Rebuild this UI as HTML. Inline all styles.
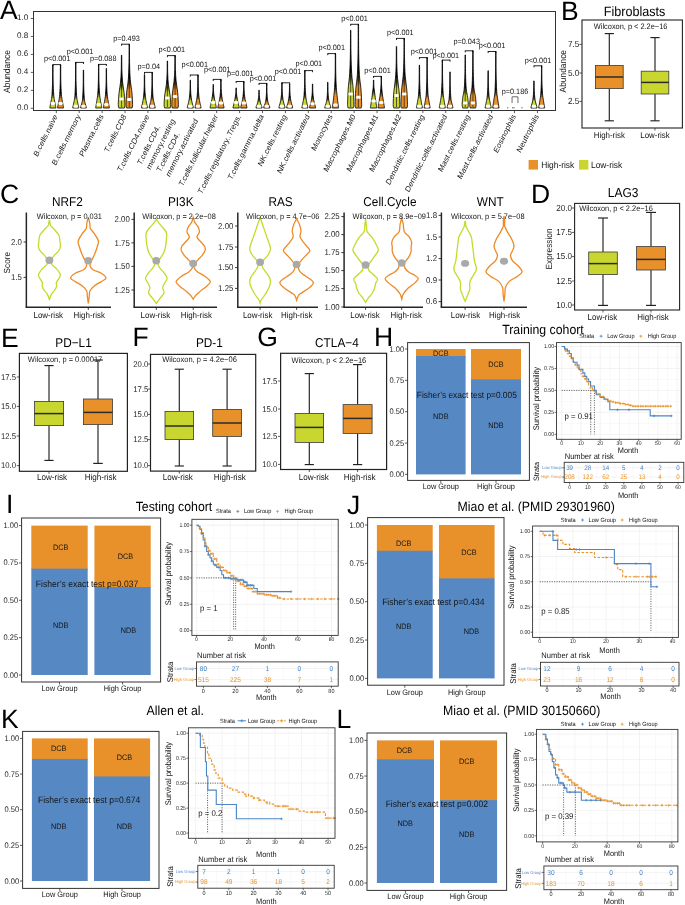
<!DOCTYPE html>
<html><head><meta charset="utf-8"><style>
html,body{margin:0;padding:0;background:#fff;width:685px;height:905px;overflow:hidden}
svg{display:block;will-change:transform;text-rendering:geometricPrecision;font-family:"Liberation Sans",sans-serif}
</style></head><body>
<svg width="685" height="905" viewBox="0 0 685 905">
<rect width="685" height="905" fill="#fff"/>
<text x="0" y="19" font-size="26.5" text-anchor="start" fill="#000">A</text>
<line x1="30.8" y1="108.3" x2="33.5" y2="108.3" stroke="#333333" stroke-width="0.8"/>
<text x="28.3" y="109.6" font-size="8.1" text-anchor="end" fill="#262626">0.0</text>
<line x1="30.8" y1="90.34" x2="33.5" y2="90.34" stroke="#333333" stroke-width="0.8"/>
<text x="28.3" y="91.64" font-size="8.1" text-anchor="end" fill="#262626">0.2</text>
<line x1="30.8" y1="72.38" x2="33.5" y2="72.38" stroke="#333333" stroke-width="0.8"/>
<text x="28.3" y="73.68" font-size="8.1" text-anchor="end" fill="#262626">0.4</text>
<line x1="30.8" y1="54.42" x2="33.5" y2="54.42" stroke="#333333" stroke-width="0.8"/>
<text x="28.3" y="55.72" font-size="8.1" text-anchor="end" fill="#262626">0.6</text>
<line x1="30.8" y1="36.46" x2="33.5" y2="36.46" stroke="#333333" stroke-width="0.8"/>
<text x="28.3" y="37.76" font-size="8.1" text-anchor="end" fill="#262626">0.8</text>
<line x1="30.8" y1="18.5" x2="33.5" y2="18.5" stroke="#333333" stroke-width="0.8"/>
<text x="28.3" y="19.8" font-size="8.1" text-anchor="end" fill="#262626">1.0</text>
<text font-size="8.5" text-anchor="middle" fill="#141414" transform="translate(10 71.5) rotate(-90) scale(1 1.08)">Abundance</text>
<linearGradient id="vg1" gradientUnits="userSpaceOnUse" x1="0" y1="92.9" x2="0" y2="99.16"><stop offset="0" stop-color="#000"/><stop offset="1" stop-color="#C8D62F"/></linearGradient>
<path d="M53.03 65 C53.05 67.69 53.02 76.27 53.13 81.17 C53.24 86.07 53.45 91.06 53.7 94.4 C53.95 97.74 54.32 99.17 54.65 101.2 C54.98 103.23 55.49 105.47 55.7 106.6 C55.91 107.73 55.88 107.77 55.91 108 L49.79 108 C49.82 107.77 49.79 107.73 50 106.6 C50.21 105.47 50.72 103.23 51.05 101.2 C51.38 99.17 51.75 97.74 52 94.4 C52.25 91.06 52.46 86.07 52.57 81.17 C52.68 76.27 52.65 67.69 52.67 65Z" fill="url(#vg1)" stroke="#000" stroke-width="0.8"/>
<rect x="50.65" y="101.9" width="4.4" height="3" fill="#fff" stroke="none" stroke-width="0" rx="1.3"/>
<linearGradient id="vg2" gradientUnits="userSpaceOnUse" x1="0" y1="93" x2="0" y2="99.22"><stop offset="0" stop-color="#000"/><stop offset="1" stop-color="#E8912B"/></linearGradient>
<path d="M60.73 65 C60.75 67.7 60.72 76.31 60.83 81.22 C60.94 86.14 61.15 91.16 61.4 94.5 C61.65 97.84 62.02 99.23 62.35 101.25 C62.68 103.27 63.19 105.47 63.4 106.6 C63.61 107.72 63.58 107.77 63.61 108 L57.49 108 C57.52 107.77 57.49 107.72 57.7 106.6 C57.91 105.47 58.42 103.27 58.75 101.25 C59.08 99.23 59.45 97.84 59.7 94.5 C59.95 91.16 60.16 86.14 60.27 81.22 C60.38 76.31 60.35 67.7 60.37 65Z" fill="url(#vg2)" stroke="#000" stroke-width="0.8"/>
<rect x="58.35" y="101.9" width="4.4" height="3" fill="#fff" stroke="none" stroke-width="0" rx="1.3"/>
<line x1="52.85" y1="64.6" x2="60.55" y2="64.6" stroke="#000" stroke-width="0.85"/>
<line x1="52.85" y1="64.2" x2="52.85" y2="66.2" stroke="#000" stroke-width="0.85"/>
<line x1="60.55" y1="64.2" x2="60.55" y2="66.2" stroke="#000" stroke-width="0.85"/>
<text font-size="7.3" text-anchor="middle" fill="#141414" transform="matrix(1 0 0 1.06 57.2 61.3)">p&lt;0.001</text>
<line x1="56.3" y1="110.5" x2="56.3" y2="113.1" stroke="#333333" stroke-width="0.8"/>
<text font-size="7.3" text-anchor="end" fill="#141414" transform="matrix(1 0 0 1.15 57.9 116.4) rotate(-60)">B.cells.naive</text>
<linearGradient id="vg3" gradientUnits="userSpaceOnUse" x1="0" y1="94.2" x2="0" y2="100"><stop offset="0" stop-color="#000"/><stop offset="1" stop-color="#C8D62F"/></linearGradient>
<path d="M75.94 62.4 C75.96 65.45 75.93 75.17 76.04 80.72 C76.15 86.27 76.36 92.18 76.61 95.7 C76.86 99.22 77.23 100.03 77.56 101.85 C77.89 103.67 78.4 105.57 78.61 106.6 C78.82 107.62 78.79 107.77 78.82 108 L72.7 108 C72.73 107.77 72.7 107.62 72.91 106.6 C73.12 105.57 73.63 103.67 73.96 101.85 C74.29 100.03 74.66 99.22 74.91 95.7 C75.16 92.18 75.37 86.27 75.48 80.72 C75.59 75.17 75.56 65.45 75.58 62.4Z" fill="url(#vg3)" stroke="#000" stroke-width="0.8"/>
<rect x="73.56" y="104.8" width="4.4" height="3" fill="#fff" stroke="none" stroke-width="0" rx="1.3"/>
<linearGradient id="vg4" gradientUnits="userSpaceOnUse" x1="0" y1="96.9" x2="0" y2="101.76"><stop offset="0" stop-color="#000"/><stop offset="1" stop-color="#E8912B"/></linearGradient>
<path d="M83.64 70 C83.66 72.6 83.63 80.89 83.74 85.62 C83.85 90.35 84.08 95.47 84.31 98.4 C84.54 101.33 84.84 101.83 85.14 103.2 C85.44 104.57 85.92 105.8 86.12 106.6 C86.32 107.4 86.28 107.77 86.32 108 L80.6 108 C80.64 107.77 80.6 107.4 80.8 106.6 C81 105.8 81.48 104.57 81.78 103.2 C82.08 101.83 82.38 101.33 82.61 98.4 C82.84 95.47 83.07 90.35 83.18 85.62 C83.29 80.89 83.26 72.6 83.28 70Z" fill="url(#vg4)" stroke="#000" stroke-width="0.8"/>
<rect x="81.26" y="104.8" width="4.4" height="3" fill="#fff" stroke="none" stroke-width="0" rx="1.3"/>
<line x1="75.76" y1="62.4" x2="83.46" y2="62.4" stroke="#000" stroke-width="0.85"/>
<line x1="75.76" y1="62" x2="75.76" y2="64" stroke="#000" stroke-width="0.85"/>
<line x1="83.46" y1="62" x2="83.46" y2="64" stroke="#000" stroke-width="0.85"/>
<text font-size="7.3" text-anchor="middle" fill="#141414" transform="matrix(1 0 0 1.06 80 53.5)">p&lt;0.001</text>
<line x1="79.21" y1="110.5" x2="79.21" y2="113.1" stroke="#333333" stroke-width="0.8"/>
<text font-size="7.3" text-anchor="end" fill="#141414" transform="matrix(1 0 0 1.15 80.81 116.4) rotate(-60)">B.cells.memory</text>
<linearGradient id="vg5" gradientUnits="userSpaceOnUse" x1="0" y1="91.6" x2="0" y2="98.31"><stop offset="0" stop-color="#000"/><stop offset="1" stop-color="#C8D62F"/></linearGradient>
<path d="M98.85 64.4 C98.87 67.03 98.84 75.4 98.95 80.19 C99.06 84.97 99.27 89.71 99.52 93.1 C99.77 96.49 100.14 98.3 100.47 100.55 C100.8 102.8 101.31 105.36 101.52 106.6 C101.73 107.84 101.7 107.77 101.73 108 L95.61 108 C95.65 107.77 95.61 107.84 95.82 106.6 C96.03 105.36 96.54 102.8 96.87 100.55 C97.2 98.3 97.57 96.49 97.82 93.1 C98.07 89.71 98.28 84.97 98.39 80.19 C98.5 75.4 98.47 67.03 98.49 64.4Z" fill="url(#vg5)" stroke="#000" stroke-width="0.8"/>
<rect x="96.47" y="103" width="4.4" height="3" fill="#fff" stroke="none" stroke-width="0" rx="1.3"/>
<linearGradient id="vg6" gradientUnits="userSpaceOnUse" x1="0" y1="92.9" x2="0" y2="99.16"><stop offset="0" stop-color="#000"/><stop offset="1" stop-color="#E8912B"/></linearGradient>
<path d="M106.55 68.4 C106.57 70.78 106.54 78.37 106.65 82.7 C106.76 87.03 106.97 91.32 107.22 94.4 C107.47 97.48 107.84 99.17 108.17 101.2 C108.5 103.23 109.01 105.47 109.22 106.6 C109.43 107.73 109.4 107.77 109.43 108 L103.31 108 C103.34 107.77 103.31 107.73 103.52 106.6 C103.73 105.47 104.24 103.23 104.57 101.2 C104.9 99.17 105.27 97.48 105.52 94.4 C105.77 91.32 105.98 87.03 106.09 82.7 C106.2 78.37 106.17 70.78 106.19 68.4Z" fill="url(#vg6)" stroke="#000" stroke-width="0.8"/>
<rect x="104.17" y="103" width="4.4" height="3" fill="#fff" stroke="none" stroke-width="0" rx="1.3"/>
<line x1="98.67" y1="64.4" x2="106.37" y2="64.4" stroke="#000" stroke-width="0.85"/>
<line x1="98.67" y1="64" x2="98.67" y2="66" stroke="#000" stroke-width="0.85"/>
<line x1="106.37" y1="64" x2="106.37" y2="66" stroke="#000" stroke-width="0.85"/>
<text font-size="7.3" text-anchor="middle" fill="#141414" transform="matrix(1 0 0 1.06 103.2 61.3)">p=0.088</text>
<line x1="102.12" y1="110.5" x2="102.12" y2="113.1" stroke="#333333" stroke-width="0.8"/>
<text font-size="7.3" text-anchor="end" fill="#141414" transform="matrix(1 0 0 1.15 103.72 116.4) rotate(-60)">Plasma.cells</text>
<linearGradient id="vg7" gradientUnits="userSpaceOnUse" x1="0" y1="80.5" x2="0" y2="91.1"><stop offset="0" stop-color="#000"/><stop offset="1" stop-color="#C8D62F"/></linearGradient>
<path d="M121.76 55.2 C121.78 57.66 121.76 65.47 121.9 69.94 C122.04 74.41 122.19 78.04 122.58 82 C122.97 85.96 123.84 89.95 124.22 93.7 C124.6 97.45 124.85 102.12 124.88 104.5 C124.91 106.88 124.47 107.42 124.39 108 L118.78 108 C118.69 107.42 118.25 106.88 118.28 104.5 C118.31 102.12 118.56 97.45 118.94 93.7 C119.32 89.95 120.19 85.96 120.58 82 C120.97 78.04 121.12 74.41 121.26 69.94 C121.4 65.47 121.38 57.66 121.4 55.2Z" fill="url(#vg7)" stroke="#000" stroke-width="0.8"/>
<line x1="121.58" y1="84" x2="121.58" y2="107" stroke="#000" stroke-width="0.6"/>
<rect x="119.38" y="97.4" width="4.4" height="3" fill="#fff" stroke="none" stroke-width="0" rx="1.3"/>
<linearGradient id="vg8" gradientUnits="userSpaceOnUse" x1="0" y1="78.2" x2="0" y2="89.61"><stop offset="0" stop-color="#000"/><stop offset="1" stop-color="#E8912B"/></linearGradient>
<path d="M129.46 44.4 C129.48 47.64 129.46 57.93 129.6 63.81 C129.74 69.7 129.89 74.93 130.28 79.7 C130.67 84.47 131.54 88.3 131.92 92.44 C132.3 96.57 132.55 101.91 132.58 104.5 C132.61 107.09 132.17 107.42 132.09 108 L126.47 108 C126.39 107.42 125.95 107.09 125.98 104.5 C126.01 101.91 126.26 96.57 126.64 92.44 C127.02 88.3 127.89 84.47 128.28 79.7 C128.67 74.93 128.82 69.7 128.96 63.81 C129.1 57.93 129.08 47.64 129.1 44.4Z" fill="url(#vg8)" stroke="#000" stroke-width="0.8"/>
<line x1="129.28" y1="81.7" x2="129.28" y2="107" stroke="#000" stroke-width="0.6"/>
<rect x="127.08" y="98.1" width="4.4" height="3" fill="#fff" stroke="none" stroke-width="0" rx="1.3"/>
<line x1="121.58" y1="44.2" x2="129.28" y2="44.2" stroke="#000" stroke-width="0.85"/>
<line x1="121.58" y1="43.8" x2="121.58" y2="45.8" stroke="#000" stroke-width="0.85"/>
<line x1="129.28" y1="43.8" x2="129.28" y2="45.8" stroke="#000" stroke-width="0.85"/>
<text font-size="7.3" text-anchor="middle" fill="#141414" transform="matrix(1 0 0 1.06 126.5 41.3)">p=0.493</text>
<line x1="125.03" y1="110.5" x2="125.03" y2="113.1" stroke="#333333" stroke-width="0.8"/>
<text font-size="7.3" text-anchor="end" fill="#141414" transform="matrix(1 0 0 1.15 126.63 116.4) rotate(-60)">T.cells.CD8</text>
<linearGradient id="vg9" gradientUnits="userSpaceOnUse" x1="0" y1="94.5" x2="0" y2="100.2"><stop offset="0" stop-color="#000"/><stop offset="1" stop-color="#C8D62F"/></linearGradient>
<path d="M144.67 74.6 C144.69 76.56 144.66 82.8 144.77 86.37 C144.88 89.94 145.09 93.39 145.34 96 C145.59 98.61 145.96 100.23 146.29 102 C146.62 103.77 147.13 105.6 147.34 106.6 C147.55 107.6 147.52 107.77 147.55 108 L141.43 108 C141.47 107.77 141.43 107.6 141.64 106.6 C141.85 105.6 142.36 103.77 142.69 102 C143.02 100.23 143.39 98.61 143.64 96 C143.89 93.39 144.1 89.94 144.21 86.37 C144.32 82.8 144.29 76.56 144.31 74.6Z" fill="url(#vg9)" stroke="#000" stroke-width="0.8"/>
<rect x="142.29" y="104.8" width="4.4" height="3" fill="#fff" stroke="none" stroke-width="0" rx="1.3"/>
<linearGradient id="vg10" gradientUnits="userSpaceOnUse" x1="0" y1="95.5" x2="0" y2="100.85"><stop offset="0" stop-color="#000"/><stop offset="1" stop-color="#E8912B"/></linearGradient>
<path d="M152.37 72.4 C152.39 74.66 152.36 81.83 152.47 85.93 C152.58 90.03 152.79 94.24 153.04 97 C153.29 99.76 153.66 100.9 153.99 102.5 C154.32 104.1 154.83 105.68 155.04 106.6 C155.25 107.52 155.22 107.77 155.25 108 L149.13 108 C149.16 107.77 149.13 107.52 149.34 106.6 C149.55 105.68 150.06 104.1 150.39 102.5 C150.72 100.9 151.09 99.76 151.34 97 C151.59 94.24 151.8 90.03 151.91 85.93 C152.02 81.83 151.99 74.66 152.01 72.4Z" fill="url(#vg10)" stroke="#000" stroke-width="0.8"/>
<rect x="149.99" y="104.8" width="4.4" height="3" fill="#fff" stroke="none" stroke-width="0" rx="1.3"/>
<line x1="144.49" y1="72.4" x2="152.19" y2="72.4" stroke="#000" stroke-width="0.85"/>
<line x1="144.49" y1="72" x2="144.49" y2="74" stroke="#000" stroke-width="0.85"/>
<line x1="152.19" y1="72" x2="152.19" y2="74" stroke="#000" stroke-width="0.85"/>
<text font-size="7.3" text-anchor="middle" fill="#141414" transform="matrix(1 0 0 1.06 148.8 68.9)">p=0.04</text>
<line x1="147.94" y1="110.5" x2="147.94" y2="113.1" stroke="#333333" stroke-width="0.8"/>
<text font-size="7.3" text-anchor="end" fill="#141414" transform="matrix(1 0 0 1.15 149.54 116.4) rotate(-60)">T.cells.CD4.naive</text>
<linearGradient id="vg11" gradientUnits="userSpaceOnUse" x1="0" y1="82.9" x2="0" y2="92.66"><stop offset="0" stop-color="#000"/><stop offset="1" stop-color="#C8D62F"/></linearGradient>
<path d="M167.58 61 C167.6 63.15 167.58 69.97 167.72 73.87 C167.86 77.77 168.01 80.88 168.4 84.4 C168.79 87.93 169.66 91.67 170.04 95.02 C170.42 98.37 170.67 102.34 170.7 104.5 C170.73 106.66 170.29 107.42 170.21 108 L164.59 108 C164.51 107.42 164.07 106.66 164.1 104.5 C164.13 102.34 164.38 98.37 164.76 95.02 C165.14 91.67 166.01 87.93 166.4 84.4 C166.79 80.88 166.94 77.77 167.08 73.87 C167.22 69.97 167.2 63.15 167.22 61Z" fill="url(#vg11)" stroke="#000" stroke-width="0.8"/>
<line x1="167.4" y1="86.4" x2="167.4" y2="107" stroke="#000" stroke-width="0.6"/>
<rect x="165.2" y="96.5" width="4.4" height="3" fill="#fff" stroke="none" stroke-width="0" rx="1.3"/>
<linearGradient id="vg12" gradientUnits="userSpaceOnUse" x1="0" y1="79.4" x2="0" y2="90.39"><stop offset="0" stop-color="#000"/><stop offset="1" stop-color="#E8912B"/></linearGradient>
<path d="M175.28 55.6 C175.3 57.92 175.28 65.3 175.42 69.52 C175.56 73.73 175.71 76.97 176.1 80.9 C176.49 84.83 177.36 89.16 177.74 93.09 C178.12 97.03 178.37 102.02 178.4 104.5 C178.43 106.98 177.99 107.42 177.91 108 L172.29 108 C172.21 107.42 171.77 106.98 171.8 104.5 C171.83 102.02 172.08 97.03 172.46 93.09 C172.84 89.16 173.71 84.83 174.1 80.9 C174.49 76.97 174.64 73.73 174.78 69.52 C174.92 65.3 174.9 57.92 174.92 55.6Z" fill="url(#vg12)" stroke="#000" stroke-width="0.8"/>
<line x1="175.1" y1="82.9" x2="175.1" y2="107" stroke="#000" stroke-width="0.6"/>
<rect x="172.9" y="95" width="4.4" height="3" fill="#fff" stroke="none" stroke-width="0" rx="1.3"/>
<line x1="167.4" y1="55.6" x2="175.1" y2="55.6" stroke="#000" stroke-width="0.85"/>
<line x1="167.4" y1="55.2" x2="167.4" y2="57.2" stroke="#000" stroke-width="0.85"/>
<line x1="175.1" y1="55.2" x2="175.1" y2="57.2" stroke="#000" stroke-width="0.85"/>
<text font-size="7.3" text-anchor="middle" fill="#141414" transform="matrix(1 0 0 1.06 171.8 52.3)">p&lt;0.001</text>
<line x1="170.85" y1="110.5" x2="170.85" y2="113.1" stroke="#333333" stroke-width="0.8"/>
<text font-size="7.3" text-anchor="start" fill="#141414" transform="matrix(1 0 0 1.15 141.2 165.65) rotate(-60)">T.cells.CD4.</text>
<text font-size="7.3" text-anchor="start" fill="#141414" transform="matrix(1 0 0 1.15 150.3 170.2) rotate(-60)">memory.resting</text>
<linearGradient id="vg13" gradientUnits="userSpaceOnUse" x1="0" y1="95.7" x2="0" y2="100.98"><stop offset="0" stop-color="#000"/><stop offset="1" stop-color="#C8D62F"/></linearGradient>
<path d="M190.49 80.2 C190.51 81.76 190.48 86.72 190.59 89.55 C190.7 92.38 190.91 95.03 191.16 97.2 C191.41 99.38 191.78 101.03 192.11 102.6 C192.44 104.17 192.95 105.7 193.16 106.6 C193.37 107.5 193.34 107.77 193.37 108 L187.25 108 C187.28 107.77 187.25 107.5 187.46 106.6 C187.67 105.7 188.18 104.17 188.51 102.6 C188.84 101.03 189.21 99.38 189.46 97.2 C189.71 95.03 189.92 92.38 190.03 89.55 C190.14 86.72 190.11 81.76 190.13 80.2Z" fill="url(#vg13)" stroke="#000" stroke-width="0.8"/>
<rect x="188.11" y="104.8" width="4.4" height="3" fill="#fff" stroke="none" stroke-width="0" rx="1.3"/>
<linearGradient id="vg14" gradientUnits="userSpaceOnUse" x1="0" y1="94.5" x2="0" y2="100.2"><stop offset="0" stop-color="#000"/><stop offset="1" stop-color="#E8912B"/></linearGradient>
<path d="M198.19 75 C198.21 76.92 198.18 83.05 198.29 86.55 C198.4 90.05 198.61 93.42 198.86 96 C199.11 98.58 199.48 100.23 199.81 102 C200.14 103.77 200.65 105.6 200.86 106.6 C201.07 107.6 201.03 107.77 201.07 108 L194.95 108 C194.98 107.77 194.95 107.6 195.16 106.6 C195.37 105.6 195.88 103.77 196.21 102 C196.54 100.23 196.91 98.58 197.16 96 C197.41 93.42 197.62 90.05 197.73 86.55 C197.84 83.05 197.81 76.92 197.83 75Z" fill="url(#vg14)" stroke="#000" stroke-width="0.8"/>
<rect x="195.81" y="104.8" width="4.4" height="3" fill="#fff" stroke="none" stroke-width="0" rx="1.3"/>
<line x1="190.31" y1="75" x2="198.01" y2="75" stroke="#000" stroke-width="0.85"/>
<line x1="190.31" y1="74.6" x2="190.31" y2="76.6" stroke="#000" stroke-width="0.85"/>
<line x1="198.01" y1="74.6" x2="198.01" y2="76.6" stroke="#000" stroke-width="0.85"/>
<text font-size="7.3" text-anchor="middle" fill="#141414" transform="matrix(1 0 0 1.06 194.7 66.9)">p&lt;0.001</text>
<line x1="193.76" y1="110.5" x2="193.76" y2="113.1" stroke="#333333" stroke-width="0.8"/>
<text font-size="7.3" text-anchor="start" fill="#141414" transform="matrix(1 0 0 1.15 160.6 172.85) rotate(-60)">T.cells.CD4.</text>
<text font-size="7.3" text-anchor="start" fill="#141414" transform="matrix(1 0 0 1.15 169.7 177.4) rotate(-60)">memory.activated</text>
<linearGradient id="vg15" gradientUnits="userSpaceOnUse" x1="0" y1="94.6" x2="0" y2="100.27"><stop offset="0" stop-color="#000"/><stop offset="1" stop-color="#C8D62F"/></linearGradient>
<path d="M213.4 84.4 C213.42 85.47 213.39 88.88 213.5 90.83 C213.61 92.78 213.81 94.23 214.07 96.1 C214.33 97.97 214.73 100.3 215.08 102.05 C215.43 103.8 215.95 105.61 216.17 106.6 C216.38 107.59 216.35 107.77 216.38 108 L210.06 108 C210.09 107.77 210.06 107.59 210.28 106.6 C210.49 105.61 211.01 103.8 211.36 102.05 C211.71 100.3 212.11 97.97 212.37 96.1 C212.63 94.23 212.83 92.78 212.94 90.83 C213.05 88.88 213.02 85.47 213.04 84.4Z" fill="url(#vg15)" stroke="#000" stroke-width="0.8"/>
<rect x="211.02" y="101.1" width="4.4" height="3" fill="#fff" stroke="none" stroke-width="0" rx="1.3"/>
<linearGradient id="vg16" gradientUnits="userSpaceOnUse" x1="0" y1="94.5" x2="0" y2="100.2"><stop offset="0" stop-color="#000"/><stop offset="1" stop-color="#E8912B"/></linearGradient>
<path d="M221.1 79.4 C221.12 80.92 221.09 85.76 221.2 88.53 C221.31 91.3 221.51 93.75 221.77 96 C222.03 98.25 222.43 100.23 222.78 102 C223.13 103.77 223.65 105.6 223.87 106.6 C224.08 107.6 224.05 107.77 224.08 108 L217.76 108 C217.79 107.77 217.76 107.6 217.98 106.6 C218.19 105.6 218.71 103.77 219.06 102 C219.41 100.23 219.81 98.25 220.07 96 C220.33 93.75 220.53 91.3 220.64 88.53 C220.75 85.76 220.72 80.92 220.74 79.4Z" fill="url(#vg16)" stroke="#000" stroke-width="0.8"/>
<rect x="218.72" y="101.5" width="4.4" height="3" fill="#fff" stroke="none" stroke-width="0" rx="1.3"/>
<line x1="213.22" y1="79.4" x2="220.92" y2="79.4" stroke="#000" stroke-width="0.85"/>
<line x1="213.22" y1="79" x2="213.22" y2="81" stroke="#000" stroke-width="0.85"/>
<line x1="220.92" y1="79" x2="220.92" y2="81" stroke="#000" stroke-width="0.85"/>
<text font-size="7.3" text-anchor="middle" fill="#141414" transform="matrix(1 0 0 1.06 217.3 71.7)">p&lt;0.001</text>
<line x1="216.67" y1="110.5" x2="216.67" y2="113.1" stroke="#333333" stroke-width="0.8"/>
<text font-size="7.3" text-anchor="end" fill="#141414" transform="matrix(1 0 0 1.15 218.27 116.4) rotate(-60)">T.cells.follicular.helper</text>
<linearGradient id="vg17" gradientUnits="userSpaceOnUse" x1="0" y1="95.5" x2="0" y2="100.85"><stop offset="0" stop-color="#000"/><stop offset="1" stop-color="#C8D62F"/></linearGradient>
<path d="M236.31 87.9 C236.33 88.73 236.3 91.39 236.41 92.91 C236.52 94.42 236.72 95.4 236.98 97 C237.24 98.6 237.64 100.9 237.99 102.5 C238.34 104.1 238.86 105.68 239.07 106.6 C239.29 107.52 239.26 107.77 239.29 108 L232.97 108 C233 107.77 232.97 107.52 233.19 106.6 C233.4 105.68 233.92 104.1 234.27 102.5 C234.62 100.9 235.02 98.6 235.28 97 C235.54 95.4 235.74 94.42 235.85 92.91 C235.96 91.39 235.93 88.73 235.95 87.9Z" fill="url(#vg17)" stroke="#000" stroke-width="0.8"/>
<rect x="233.93" y="101.1" width="4.4" height="3" fill="#fff" stroke="none" stroke-width="0" rx="1.3"/>
<linearGradient id="vg18" gradientUnits="userSpaceOnUse" x1="0" y1="95" x2="0" y2="100.53"><stop offset="0" stop-color="#000"/><stop offset="1" stop-color="#E8912B"/></linearGradient>
<path d="M244.01 81.6 C244.03 82.97 244 87.31 244.11 89.8 C244.22 92.28 244.42 94.42 244.68 96.5 C244.94 98.58 245.34 100.57 245.69 102.25 C246.04 103.93 246.56 105.64 246.77 106.6 C246.99 107.56 246.96 107.77 246.99 108 L240.67 108 C240.7 107.77 240.67 107.56 240.88 106.6 C241.1 105.64 241.62 103.93 241.97 102.25 C242.32 100.57 242.72 98.58 242.98 96.5 C243.24 94.42 243.44 92.28 243.55 89.8 C243.66 87.31 243.63 82.97 243.65 81.6Z" fill="url(#vg18)" stroke="#000" stroke-width="0.8"/>
<rect x="241.63" y="101.5" width="4.4" height="3" fill="#fff" stroke="none" stroke-width="0" rx="1.3"/>
<line x1="236.13" y1="81.5" x2="243.83" y2="81.5" stroke="#000" stroke-width="0.85"/>
<line x1="236.13" y1="81.1" x2="236.13" y2="83.1" stroke="#000" stroke-width="0.85"/>
<line x1="243.83" y1="81.1" x2="243.83" y2="83.1" stroke="#000" stroke-width="0.85"/>
<text font-size="7.3" text-anchor="middle" fill="#141414" transform="matrix(1 0 0 1.06 240.3 76.3)">p=0.001</text>
<line x1="239.58" y1="110.5" x2="239.58" y2="113.1" stroke="#333333" stroke-width="0.8"/>
<text font-size="7.3" text-anchor="end" fill="#141414" transform="matrix(1 0 0 1.15 241.18 116.4) rotate(-60)">T.cells.regulatory..Tregs.</text>
<linearGradient id="vg19" gradientUnits="userSpaceOnUse" x1="0" y1="98.5" x2="0" y2="102.8"><stop offset="0" stop-color="#000"/><stop offset="1" stop-color="#C8D62F"/></linearGradient>
<path d="M259.22 90.2 C259.24 91.1 259.21 93.96 259.32 95.59 C259.43 97.22 259.64 98.6 259.89 100 C260.14 101.4 260.51 102.9 260.84 104 C261.17 105.1 261.68 105.93 261.89 106.6 C262.1 107.27 262.06 107.77 262.1 108 L255.98 108 C256.01 107.77 255.98 107.27 256.19 106.6 C256.4 105.93 256.91 105.1 257.24 104 C257.57 102.9 257.94 101.4 258.19 100 C258.44 98.6 258.65 97.22 258.76 95.59 C258.87 93.96 258.84 91.1 258.86 90.2Z" fill="url(#vg19)" stroke="#000" stroke-width="0.8"/>
<rect x="256.84" y="104.8" width="4.4" height="3" fill="#fff" stroke="none" stroke-width="0" rx="1.3"/>
<linearGradient id="vg20" gradientUnits="userSpaceOnUse" x1="0" y1="98.5" x2="0" y2="102.8"><stop offset="0" stop-color="#000"/><stop offset="1" stop-color="#E8912B"/></linearGradient>
<path d="M266.92 83.4 C266.94 84.92 266.91 89.76 267.02 92.53 C267.13 95.3 267.34 98.09 267.59 100 C267.84 101.91 268.21 102.9 268.54 104 C268.87 105.1 269.38 105.93 269.59 106.6 C269.8 107.27 269.76 107.77 269.8 108 L263.68 108 C263.72 107.77 263.68 107.27 263.89 106.6 C264.1 105.93 264.61 105.1 264.94 104 C265.27 102.9 265.64 101.91 265.89 100 C266.14 98.09 266.35 95.3 266.46 92.53 C266.57 89.76 266.54 84.92 266.56 83.4Z" fill="url(#vg20)" stroke="#000" stroke-width="0.8"/>
<rect x="264.54" y="104.8" width="4.4" height="3" fill="#fff" stroke="none" stroke-width="0" rx="1.3"/>
<line x1="259.04" y1="83.4" x2="266.74" y2="83.4" stroke="#000" stroke-width="0.85"/>
<line x1="259.04" y1="83" x2="259.04" y2="85" stroke="#000" stroke-width="0.85"/>
<line x1="266.74" y1="83" x2="266.74" y2="85" stroke="#000" stroke-width="0.85"/>
<text font-size="7.3" text-anchor="middle" fill="#141414" transform="matrix(1 0 0 1.06 263 81.3)">p&lt;0.001</text>
<line x1="262.49" y1="110.5" x2="262.49" y2="113.1" stroke="#333333" stroke-width="0.8"/>
<text font-size="7.3" text-anchor="end" fill="#141414" transform="matrix(1 0 0 1.15 264.09 116.4) rotate(-60)">T.cells.gamma.delta</text>
<linearGradient id="vg21" gradientUnits="userSpaceOnUse" x1="0" y1="96.5" x2="0" y2="101.5"><stop offset="0" stop-color="#000"/><stop offset="1" stop-color="#C8D62F"/></linearGradient>
<path d="M282.13 82.8 C282.15 84.19 282.12 88.63 282.23 91.16 C282.34 93.69 282.55 96.03 282.8 98 C283.05 99.97 283.42 101.57 283.75 103 C284.08 104.43 284.59 105.77 284.8 106.6 C285.01 107.43 284.97 107.77 285.01 108 L278.89 108 C278.92 107.77 278.89 107.43 279.1 106.6 C279.31 105.77 279.82 104.43 280.15 103 C280.48 101.57 280.85 99.97 281.1 98 C281.35 96.03 281.56 93.69 281.67 91.16 C281.78 88.63 281.75 84.19 281.77 82.8Z" fill="url(#vg21)" stroke="#000" stroke-width="0.8"/>
<rect x="279.75" y="104.8" width="4.4" height="3" fill="#fff" stroke="none" stroke-width="0" rx="1.3"/>
<linearGradient id="vg22" gradientUnits="userSpaceOnUse" x1="0" y1="97" x2="0" y2="101.83"><stop offset="0" stop-color="#000"/><stop offset="1" stop-color="#E8912B"/></linearGradient>
<path d="M289.83 84 C289.85 85.33 289.82 89.56 289.93 91.97 C290.04 94.39 290.25 96.62 290.5 98.5 C290.75 100.38 291.12 101.9 291.45 103.25 C291.78 104.6 292.29 105.81 292.5 106.6 C292.71 107.39 292.67 107.77 292.71 108 L286.59 108 C286.62 107.77 286.59 107.39 286.8 106.6 C287.01 105.81 287.52 104.6 287.85 103.25 C288.18 101.9 288.55 100.38 288.8 98.5 C289.05 96.62 289.26 94.39 289.37 91.97 C289.48 89.56 289.45 85.33 289.47 84Z" fill="url(#vg22)" stroke="#000" stroke-width="0.8"/>
<rect x="287.45" y="104.8" width="4.4" height="3" fill="#fff" stroke="none" stroke-width="0" rx="1.3"/>
<line x1="281.95" y1="82.8" x2="289.65" y2="82.8" stroke="#000" stroke-width="0.85"/>
<line x1="281.95" y1="82.4" x2="281.95" y2="84.4" stroke="#000" stroke-width="0.85"/>
<line x1="289.65" y1="82.4" x2="289.65" y2="84.4" stroke="#000" stroke-width="0.85"/>
<text font-size="7.3" text-anchor="middle" fill="#141414" transform="matrix(1 0 0 1.06 288 73.7)">p&lt;0.001</text>
<line x1="285.4" y1="110.5" x2="285.4" y2="113.1" stroke="#333333" stroke-width="0.8"/>
<text font-size="7.3" text-anchor="end" fill="#141414" transform="matrix(1 0 0 1.15 287 116.4) rotate(-60)">NK.cells.resting</text>
<linearGradient id="vg23" gradientUnits="userSpaceOnUse" x1="0" y1="94.1" x2="0" y2="99.94"><stop offset="0" stop-color="#000"/><stop offset="1" stop-color="#C8D62F"/></linearGradient>
<path d="M305.04 70.6 C305.06 72.89 305.03 80.18 305.14 84.35 C305.25 88.52 305.46 92.69 305.71 95.6 C305.96 98.51 306.33 99.97 306.66 101.8 C306.99 103.63 307.5 105.57 307.71 106.6 C307.92 107.63 307.88 107.77 307.92 108 L301.8 108 C301.83 107.77 301.8 107.63 302.01 106.6 C302.22 105.57 302.73 103.63 303.06 101.8 C303.39 99.97 303.76 98.51 304.01 95.6 C304.26 92.69 304.47 88.52 304.58 84.35 C304.69 80.18 304.66 72.89 304.68 70.6Z" fill="url(#vg23)" stroke="#000" stroke-width="0.8"/>
<rect x="302.66" y="104.8" width="4.4" height="3" fill="#fff" stroke="none" stroke-width="0" rx="1.3"/>
<linearGradient id="vg24" gradientUnits="userSpaceOnUse" x1="0" y1="96.5" x2="0" y2="101.5"><stop offset="0" stop-color="#000"/><stop offset="1" stop-color="#E8912B"/></linearGradient>
<path d="M312.74 84 C312.76 85.28 312.73 89.37 312.84 91.7 C312.95 94.03 313.16 96.12 313.41 98 C313.66 99.88 314.03 101.57 314.36 103 C314.69 104.43 315.2 105.77 315.41 106.6 C315.62 107.43 315.59 107.77 315.62 108 L309.5 108 C309.53 107.77 309.5 107.43 309.71 106.6 C309.92 105.77 310.43 104.43 310.76 103 C311.09 101.57 311.46 99.88 311.71 98 C311.96 96.12 312.17 94.03 312.28 91.7 C312.39 89.37 312.36 85.28 312.38 84Z" fill="url(#vg24)" stroke="#000" stroke-width="0.8"/>
<rect x="310.36" y="102.3" width="4.4" height="3" fill="#fff" stroke="none" stroke-width="0" rx="1.3"/>
<line x1="304.86" y1="70.6" x2="312.56" y2="70.6" stroke="#000" stroke-width="0.85"/>
<line x1="304.86" y1="70.2" x2="304.86" y2="72.2" stroke="#000" stroke-width="0.85"/>
<line x1="312.56" y1="70.2" x2="312.56" y2="72.2" stroke="#000" stroke-width="0.85"/>
<text font-size="7.3" text-anchor="middle" fill="#141414" transform="matrix(1 0 0 1.06 308.8 66.3)">p&lt;0.001</text>
<line x1="308.31" y1="110.5" x2="308.31" y2="113.1" stroke="#333333" stroke-width="0.8"/>
<text font-size="7.3" text-anchor="end" fill="#141414" transform="matrix(1 0 0 1.15 309.91 116.4) rotate(-60)">NK.cells.activated</text>
<linearGradient id="vg25" gradientUnits="userSpaceOnUse" x1="0" y1="97.5" x2="0" y2="102.15"><stop offset="0" stop-color="#000"/><stop offset="1" stop-color="#C8D62F"/></linearGradient>
<path d="M327.95 82.3 C327.97 83.83 327.94 88.7 328.05 91.48 C328.16 94.27 328.37 97 328.62 99 C328.87 101 329.24 102.23 329.57 103.5 C329.9 104.77 330.41 105.85 330.62 106.6 C330.83 107.35 330.79 107.77 330.83 108 L324.71 108 C324.75 107.77 324.71 107.35 324.92 106.6 C325.13 105.85 325.64 104.77 325.97 103.5 C326.3 102.23 326.67 101 326.92 99 C327.17 97 327.38 94.27 327.49 91.48 C327.6 88.7 327.57 83.83 327.59 82.3Z" fill="url(#vg25)" stroke="#000" stroke-width="0.8"/>
<rect x="325.57" y="104.8" width="4.4" height="3" fill="#fff" stroke="none" stroke-width="0" rx="1.3"/>
<linearGradient id="vg26" gradientUnits="userSpaceOnUse" x1="0" y1="85.9" x2="0" y2="94.61"><stop offset="0" stop-color="#000"/><stop offset="1" stop-color="#E8912B"/></linearGradient>
<path d="M335.65 53.6 C335.67 56.7 335.64 66.56 335.75 72.19 C335.86 77.82 336.06 83.15 336.32 87.4 C336.58 91.65 336.98 94.5 337.33 97.7 C337.68 100.9 338.2 104.88 338.42 106.6 C338.63 108.32 338.6 107.77 338.63 108 L332.31 108 C332.34 107.77 332.31 108.32 332.53 106.6 C332.74 104.88 333.26 100.9 333.61 97.7 C333.96 94.5 334.36 91.65 334.62 87.4 C334.88 83.15 335.08 77.82 335.19 72.19 C335.3 66.56 335.27 56.7 335.29 53.6Z" fill="url(#vg26)" stroke="#000" stroke-width="0.8"/>
<rect x="333.27" y="103.5" width="4.4" height="3" fill="#fff" stroke="none" stroke-width="0" rx="1.3"/>
<line x1="327.77" y1="53.6" x2="335.47" y2="53.6" stroke="#000" stroke-width="0.85"/>
<line x1="327.77" y1="53.2" x2="327.77" y2="55.2" stroke="#000" stroke-width="0.85"/>
<line x1="335.47" y1="53.2" x2="335.47" y2="55.2" stroke="#000" stroke-width="0.85"/>
<text font-size="7.3" text-anchor="middle" fill="#141414" transform="matrix(1 0 0 1.06 331.7 50.3)">p&lt;0.001</text>
<line x1="331.22" y1="110.5" x2="331.22" y2="113.1" stroke="#333333" stroke-width="0.8"/>
<text font-size="7.3" text-anchor="end" fill="#141414" transform="matrix(1 0 0 1.15 332.82 116.4) rotate(-60)">Monocytes</text>
<linearGradient id="vg27" gradientUnits="userSpaceOnUse" x1="0" y1="71.9" x2="0" y2="85.51"><stop offset="0" stop-color="#000"/><stop offset="1" stop-color="#C8D62F"/></linearGradient>
<path d="M350.86 30.2 C350.88 34.16 350.86 46.76 351 53.96 C351.14 61.16 351.32 67.57 351.68 73.4 C352.04 79.23 352.81 83.79 353.16 88.97 C353.51 94.15 353.75 101.33 353.78 104.5 C353.81 107.67 353.39 107.42 353.31 108 L348.04 108 C347.97 107.42 347.55 107.67 347.58 104.5 C347.61 101.33 347.85 94.15 348.2 88.97 C348.55 83.79 349.32 79.23 349.68 73.4 C350.04 67.57 350.22 61.16 350.36 53.96 C350.5 46.76 350.48 34.16 350.5 30.2Z" fill="url(#vg27)" stroke="#000" stroke-width="0.8"/>
<line x1="350.68" y1="75.4" x2="350.68" y2="107" stroke="#000" stroke-width="0.6"/>
<rect x="348.48" y="92.5" width="4.4" height="3" fill="#fff" stroke="none" stroke-width="0" rx="1.3"/>
<linearGradient id="vg28" gradientUnits="userSpaceOnUse" x1="0" y1="73.1" x2="0" y2="86.29"><stop offset="0" stop-color="#000"/><stop offset="1" stop-color="#E8912B"/></linearGradient>
<path d="M358.56 24.3 C358.58 28.91 358.56 43.58 358.7 51.97 C358.84 60.35 358.99 68.32 359.38 74.6 C359.77 80.88 360.64 84.65 361.02 89.63 C361.4 94.61 361.65 101.44 361.68 104.5 C361.71 107.56 361.27 107.42 361.19 108 L355.57 108 C355.49 107.42 355.05 107.56 355.08 104.5 C355.11 101.44 355.36 94.61 355.74 89.63 C356.12 84.65 356.99 80.88 357.38 74.6 C357.77 68.32 357.92 60.35 358.06 51.97 C358.2 43.58 358.18 28.91 358.2 24.3Z" fill="url(#vg28)" stroke="#000" stroke-width="0.8"/>
<line x1="358.38" y1="76.6" x2="358.38" y2="107" stroke="#000" stroke-width="0.6"/>
<rect x="356.18" y="95.7" width="4.4" height="3" fill="#fff" stroke="none" stroke-width="0" rx="1.3"/>
<line x1="350.68" y1="24.3" x2="358.38" y2="24.3" stroke="#000" stroke-width="0.85"/>
<line x1="350.68" y1="23.9" x2="350.68" y2="25.9" stroke="#000" stroke-width="0.85"/>
<line x1="358.38" y1="23.9" x2="358.38" y2="25.9" stroke="#000" stroke-width="0.85"/>
<text font-size="7.3" text-anchor="middle" fill="#141414" transform="matrix(1 0 0 1.06 354.5 21.3)">p&lt;0.001</text>
<line x1="354.13" y1="110.5" x2="354.13" y2="113.1" stroke="#333333" stroke-width="0.8"/>
<text font-size="7.3" text-anchor="end" fill="#141414" transform="matrix(1 0 0 1.15 355.73 116.4) rotate(-60)">Macrophages.M0</text>
<linearGradient id="vg29" gradientUnits="userSpaceOnUse" x1="0" y1="89.5" x2="0" y2="96.95"><stop offset="0" stop-color="#000"/><stop offset="1" stop-color="#C8D62F"/></linearGradient>
<path d="M373.77 80 C373.79 81.01 373.76 84.22 373.87 86.05 C373.98 87.88 374.17 88.76 374.44 91 C374.71 93.24 375.14 96.9 375.51 99.5 C375.88 102.1 376.41 105.18 376.63 106.6 C376.85 108.02 376.82 107.77 376.85 108 L370.33 108 C370.36 107.77 370.33 108.02 370.55 106.6 C370.77 105.18 371.3 102.1 371.67 99.5 C372.03 96.9 372.47 93.24 372.74 91 C373.01 88.76 373.2 87.88 373.31 86.05 C373.42 84.22 373.39 81.01 373.41 80Z" fill="url(#vg29)" stroke="#000" stroke-width="0.8"/>
<rect x="371.39" y="99.5" width="4.4" height="3" fill="#fff" stroke="none" stroke-width="0" rx="1.3"/>
<linearGradient id="vg30" gradientUnits="userSpaceOnUse" x1="0" y1="90.6" x2="0" y2="97.66"><stop offset="0" stop-color="#000"/><stop offset="1" stop-color="#E8912B"/></linearGradient>
<path d="M381.47 76.4 C381.49 77.84 381.46 82.42 381.57 85.03 C381.68 87.65 381.87 89.6 382.14 92.1 C382.41 94.6 382.85 97.63 383.21 100.05 C383.58 102.47 384.11 105.27 384.33 106.6 C384.55 107.92 384.52 107.77 384.55 108 L378.03 108 C378.06 107.77 378.03 107.92 378.25 106.6 C378.47 105.27 379 102.47 379.37 100.05 C379.74 97.63 380.17 94.6 380.44 92.1 C380.71 89.6 380.9 87.65 381.01 85.03 C381.12 82.42 381.09 77.84 381.11 76.4Z" fill="url(#vg30)" stroke="#000" stroke-width="0.8"/>
<rect x="379.09" y="101.1" width="4.4" height="3" fill="#fff" stroke="none" stroke-width="0" rx="1.3"/>
<line x1="373.59" y1="76.4" x2="381.29" y2="76.4" stroke="#000" stroke-width="0.85"/>
<line x1="373.59" y1="76" x2="373.59" y2="78" stroke="#000" stroke-width="0.85"/>
<line x1="381.29" y1="76" x2="381.29" y2="78" stroke="#000" stroke-width="0.85"/>
<text font-size="7.3" text-anchor="middle" fill="#141414" transform="matrix(1 0 0 1.06 377.5 73.3)">p&lt;0.001</text>
<line x1="377.04" y1="110.5" x2="377.04" y2="113.1" stroke="#333333" stroke-width="0.8"/>
<text font-size="7.3" text-anchor="end" fill="#141414" transform="matrix(1 0 0 1.15 378.64 116.4) rotate(-60)">Macrophages.M1</text>
<linearGradient id="vg31" gradientUnits="userSpaceOnUse" x1="0" y1="76.5" x2="0" y2="88.5"><stop offset="0" stop-color="#000"/><stop offset="1" stop-color="#C8D62F"/></linearGradient>
<path d="M396.68 46.5 C396.7 49.39 396.68 58.58 396.82 63.83 C396.96 69.08 397.11 73.39 397.5 78 C397.89 82.61 398.76 87.08 399.14 91.5 C399.52 95.92 399.77 101.75 399.8 104.5 C399.83 107.25 399.39 107.42 399.3 108 L393.69 108 C393.61 107.42 393.17 107.25 393.2 104.5 C393.23 101.75 393.48 95.92 393.86 91.5 C394.24 87.08 395.11 82.61 395.5 78 C395.89 73.39 396.04 69.08 396.18 63.83 C396.32 58.58 396.3 49.39 396.32 46.5Z" fill="url(#vg31)" stroke="#000" stroke-width="0.8"/>
<line x1="396.5" y1="80" x2="396.5" y2="107" stroke="#000" stroke-width="0.6"/>
<rect x="394.3" y="94.1" width="4.4" height="3" fill="#fff" stroke="none" stroke-width="0" rx="1.3"/>
<linearGradient id="vg32" gradientUnits="userSpaceOnUse" x1="0" y1="74.2" x2="0" y2="87"><stop offset="0" stop-color="#000"/><stop offset="1" stop-color="#E8912B"/></linearGradient>
<path d="M404.38 38.4 C404.4 41.82 404.38 52.7 404.52 58.92 C404.66 65.13 404.81 70.48 405.2 75.7 C405.59 80.92 406.46 85.44 406.84 90.23 C407.22 95.03 407.47 101.54 407.5 104.5 C407.53 107.46 407.09 107.42 407 108 L401.39 108 C401.31 107.42 400.87 107.46 400.9 104.5 C400.93 101.54 401.18 95.03 401.56 90.23 C401.94 85.44 402.81 80.92 403.2 75.7 C403.59 70.48 403.74 65.13 403.88 58.92 C404.02 52.7 404 41.82 404.02 38.4Z" fill="url(#vg32)" stroke="#000" stroke-width="0.8"/>
<line x1="404.2" y1="77.7" x2="404.2" y2="107" stroke="#000" stroke-width="0.6"/>
<rect x="402" y="92.5" width="4.4" height="3" fill="#fff" stroke="none" stroke-width="0" rx="1.3"/>
<line x1="396.5" y1="38.4" x2="404.2" y2="38.4" stroke="#000" stroke-width="0.85"/>
<line x1="396.5" y1="38" x2="396.5" y2="40" stroke="#000" stroke-width="0.85"/>
<line x1="404.2" y1="38" x2="404.2" y2="40" stroke="#000" stroke-width="0.85"/>
<text font-size="7.3" text-anchor="middle" fill="#141414" transform="matrix(1 0 0 1.06 400.3 35.3)">p&lt;0.001</text>
<line x1="399.95" y1="110.5" x2="399.95" y2="113.1" stroke="#333333" stroke-width="0.8"/>
<text font-size="7.3" text-anchor="end" fill="#141414" transform="matrix(1 0 0 1.15 401.55 116.4) rotate(-60)">Macrophages.M2</text>
<linearGradient id="vg33" gradientUnits="userSpaceOnUse" x1="0" y1="93" x2="0" y2="99.22"><stop offset="0" stop-color="#000"/><stop offset="1" stop-color="#C8D62F"/></linearGradient>
<path d="M419.59 65.1 C419.61 67.79 419.58 76.37 419.69 81.27 C419.8 86.17 420.01 91.17 420.26 94.5 C420.51 97.83 420.88 99.23 421.21 101.25 C421.54 103.27 422.05 105.47 422.26 106.6 C422.47 107.72 422.43 107.77 422.47 108 L416.35 108 C416.38 107.77 416.35 107.72 416.56 106.6 C416.77 105.47 417.28 103.27 417.61 101.25 C417.94 99.23 418.31 97.83 418.56 94.5 C418.81 91.17 419.02 86.17 419.13 81.27 C419.24 76.37 419.21 67.79 419.23 65.1Z" fill="url(#vg33)" stroke="#000" stroke-width="0.8"/>
<rect x="417.21" y="104.8" width="4.4" height="3" fill="#fff" stroke="none" stroke-width="0" rx="1.3"/>
<linearGradient id="vg34" gradientUnits="userSpaceOnUse" x1="0" y1="91.9" x2="0" y2="98.51"><stop offset="0" stop-color="#000"/><stop offset="1" stop-color="#E8912B"/></linearGradient>
<path d="M427.29 57.6 C427.31 60.88 427.28 71.32 427.39 77.29 C427.5 83.26 427.71 89.5 427.96 93.4 C428.21 97.3 428.58 98.5 428.91 100.7 C429.24 102.9 429.75 105.38 429.96 106.6 C430.17 107.82 430.13 107.77 430.17 108 L424.05 108 C424.09 107.77 424.05 107.82 424.26 106.6 C424.47 105.38 424.98 102.9 425.31 100.7 C425.64 98.5 426.01 97.3 426.26 93.4 C426.51 89.5 426.72 83.26 426.83 77.29 C426.94 71.32 426.91 60.88 426.93 57.6Z" fill="url(#vg34)" stroke="#000" stroke-width="0.8"/>
<rect x="424.91" y="104.8" width="4.4" height="3" fill="#fff" stroke="none" stroke-width="0" rx="1.3"/>
<line x1="419.41" y1="57.6" x2="427.11" y2="57.6" stroke="#000" stroke-width="0.85"/>
<line x1="419.41" y1="57.2" x2="419.41" y2="59.2" stroke="#000" stroke-width="0.85"/>
<line x1="427.11" y1="57.2" x2="427.11" y2="59.2" stroke="#000" stroke-width="0.85"/>
<text font-size="7.3" text-anchor="middle" fill="#141414" transform="matrix(1 0 0 1.06 424 53.7)">p&lt;0.001</text>
<line x1="422.86" y1="110.5" x2="422.86" y2="113.1" stroke="#333333" stroke-width="0.8"/>
<text font-size="7.3" text-anchor="end" fill="#141414" transform="matrix(1 0 0 1.15 424.46 116.4) rotate(-60)">Dendritic.cells.resting</text>
<linearGradient id="vg35" gradientUnits="userSpaceOnUse" x1="0" y1="91.9" x2="0" y2="98.51"><stop offset="0" stop-color="#000"/><stop offset="1" stop-color="#C8D62F"/></linearGradient>
<path d="M442.5 60.1 C442.52 63.15 442.49 72.87 442.6 78.42 C442.71 83.97 442.92 89.69 443.17 93.4 C443.42 97.11 443.79 98.5 444.12 100.7 C444.45 102.9 444.96 105.38 445.17 106.6 C445.38 107.82 445.35 107.77 445.38 108 L439.26 108 C439.29 107.77 439.26 107.82 439.47 106.6 C439.68 105.38 440.19 102.9 440.52 100.7 C440.85 98.5 441.22 97.11 441.47 93.4 C441.72 89.69 441.93 83.97 442.04 78.42 C442.15 72.87 442.12 63.15 442.14 60.1Z" fill="url(#vg35)" stroke="#000" stroke-width="0.8"/>
<rect x="440.12" y="104.8" width="4.4" height="3" fill="#fff" stroke="none" stroke-width="0" rx="1.3"/>
<linearGradient id="vg36" gradientUnits="userSpaceOnUse" x1="0" y1="96.4" x2="0" y2="101.44"><stop offset="0" stop-color="#000"/><stop offset="1" stop-color="#E8912B"/></linearGradient>
<path d="M450.2 71.9 C450.22 74.28 450.19 81.87 450.3 86.2 C450.41 90.53 450.63 95.11 450.87 97.9 C451.11 100.69 451.44 101.5 451.76 102.95 C452.08 104.4 452.57 105.76 452.78 106.6 C452.98 107.44 452.94 107.77 452.98 108 L447.06 108 C447.1 107.77 447.06 107.44 447.27 106.6 C447.47 105.76 447.96 104.4 448.28 102.95 C448.6 101.5 448.93 100.69 449.17 97.9 C449.41 95.11 449.63 90.53 449.74 86.2 C449.85 81.87 449.82 74.28 449.84 71.9Z" fill="url(#vg36)" stroke="#000" stroke-width="0.8"/>
<rect x="447.82" y="104.8" width="4.4" height="3" fill="#fff" stroke="none" stroke-width="0" rx="1.3"/>
<line x1="442.32" y1="60.1" x2="450.02" y2="60.1" stroke="#000" stroke-width="0.85"/>
<line x1="442.32" y1="59.7" x2="442.32" y2="61.7" stroke="#000" stroke-width="0.85"/>
<line x1="450.02" y1="59.7" x2="450.02" y2="61.7" stroke="#000" stroke-width="0.85"/>
<text font-size="7.3" text-anchor="middle" fill="#141414" transform="matrix(1 0 0 1.06 445.8 58.3)">p&lt;0.001</text>
<line x1="445.77" y1="110.5" x2="445.77" y2="113.1" stroke="#333333" stroke-width="0.8"/>
<text font-size="7.3" text-anchor="end" fill="#141414" transform="matrix(1 0 0 1.15 447.37 116.4) rotate(-60)">Dendritic.cells.activated</text>
<linearGradient id="vg37" gradientUnits="userSpaceOnUse" x1="0" y1="87.3" x2="0" y2="95.52"><stop offset="0" stop-color="#000"/><stop offset="1" stop-color="#C8D62F"/></linearGradient>
<path d="M465.41 54.9 C465.43 58.01 465.41 67.89 465.55 73.55 C465.69 79.2 465.87 84.82 466.23 88.8 C466.59 92.78 467.36 94.82 467.71 97.44 C468.06 100.06 468.3 102.74 468.33 104.5 C468.36 106.26 467.94 107.42 467.86 108 L462.59 108 C462.52 107.42 462.1 106.26 462.13 104.5 C462.16 102.74 462.4 100.06 462.75 97.44 C463.1 94.82 463.87 92.78 464.23 88.8 C464.59 84.82 464.77 79.2 464.91 73.55 C465.05 67.89 465.03 58.01 465.05 54.9Z" fill="url(#vg37)" stroke="#000" stroke-width="0.8"/>
<line x1="465.23" y1="90.8" x2="465.23" y2="107" stroke="#000" stroke-width="0.6"/>
<rect x="463.03" y="101.4" width="4.4" height="3" fill="#fff" stroke="none" stroke-width="0" rx="1.3"/>
<linearGradient id="vg38" gradientUnits="userSpaceOnUse" x1="0" y1="86.2" x2="0" y2="94.81"><stop offset="0" stop-color="#000"/><stop offset="1" stop-color="#E8912B"/></linearGradient>
<path d="M473.11 50.8 C473.13 54.18 473.11 64.94 473.25 71.09 C473.39 77.25 473.56 83.41 473.93 87.7 C474.3 91.99 475.12 94.04 475.49 96.84 C475.86 99.64 476.1 102.64 476.13 104.5 C476.16 106.36 475.73 107.42 475.65 108 L470.21 108 C470.13 107.42 469.7 106.36 469.73 104.5 C469.76 102.64 470 99.64 470.37 96.84 C470.74 94.04 471.56 91.99 471.93 87.7 C472.3 83.41 472.47 77.25 472.61 71.09 C472.75 64.94 472.73 54.18 472.75 50.8Z" fill="url(#vg38)" stroke="#000" stroke-width="0.8"/>
<line x1="472.93" y1="89.7" x2="472.93" y2="107" stroke="#000" stroke-width="0.6"/>
<rect x="470.73" y="101.4" width="4.4" height="3" fill="#fff" stroke="none" stroke-width="0" rx="1.3"/>
<line x1="465.23" y1="50.8" x2="472.93" y2="50.8" stroke="#000" stroke-width="0.85"/>
<line x1="465.23" y1="50.4" x2="465.23" y2="52.4" stroke="#000" stroke-width="0.85"/>
<line x1="472.93" y1="50.4" x2="472.93" y2="52.4" stroke="#000" stroke-width="0.85"/>
<text font-size="7.3" text-anchor="middle" fill="#141414" transform="matrix(1 0 0 1.06 466.7 43.7)">p=0.043</text>
<line x1="468.68" y1="110.5" x2="468.68" y2="113.1" stroke="#333333" stroke-width="0.8"/>
<text font-size="7.3" text-anchor="end" fill="#141414" transform="matrix(1 0 0 1.15 470.28 116.4) rotate(-60)">Mast.cells.resting</text>
<linearGradient id="vg39" gradientUnits="userSpaceOnUse" x1="0" y1="94.1" x2="0" y2="99.94"><stop offset="0" stop-color="#000"/><stop offset="1" stop-color="#C8D62F"/></linearGradient>
<path d="M488.32 70.7 C488.34 72.98 488.31 80.25 488.42 84.39 C488.53 88.54 488.74 92.7 488.99 95.6 C489.24 98.5 489.61 99.97 489.94 101.8 C490.27 103.63 490.78 105.57 490.99 106.6 C491.2 107.63 491.16 107.77 491.2 108 L485.08 108 C485.12 107.77 485.08 107.63 485.29 106.6 C485.5 105.57 486.01 103.63 486.34 101.8 C486.67 99.97 487.04 98.5 487.29 95.6 C487.54 92.7 487.75 88.54 487.86 84.39 C487.97 80.25 487.94 72.98 487.96 70.7Z" fill="url(#vg39)" stroke="#000" stroke-width="0.8"/>
<rect x="485.94" y="104.8" width="4.4" height="3" fill="#fff" stroke="none" stroke-width="0" rx="1.3"/>
<linearGradient id="vg40" gradientUnits="userSpaceOnUse" x1="0" y1="89.6" x2="0" y2="97.02"><stop offset="0" stop-color="#000"/><stop offset="1" stop-color="#E8912B"/></linearGradient>
<path d="M496.02 51.5 C496.04 55.13 496.01 66.68 496.12 73.28 C496.23 79.88 496.42 86.72 496.69 91.1 C496.96 95.48 497.4 96.97 497.76 99.55 C498.13 102.13 498.66 105.19 498.88 106.6 C499.1 108.01 499.07 107.77 499.1 108 L492.58 108 C492.61 107.77 492.58 108.01 492.8 106.6 C493.02 105.19 493.56 102.13 493.92 99.55 C494.29 96.97 494.72 95.48 494.99 91.1 C495.26 86.72 495.45 79.88 495.56 73.28 C495.67 66.68 495.64 55.13 495.66 51.5Z" fill="url(#vg40)" stroke="#000" stroke-width="0.8"/>
<rect x="493.64" y="104.8" width="4.4" height="3" fill="#fff" stroke="none" stroke-width="0" rx="1.3"/>
<line x1="488.14" y1="51.5" x2="495.84" y2="51.5" stroke="#000" stroke-width="0.85"/>
<line x1="488.14" y1="51.1" x2="488.14" y2="53.1" stroke="#000" stroke-width="0.85"/>
<line x1="495.84" y1="51.1" x2="495.84" y2="53.1" stroke="#000" stroke-width="0.85"/>
<text font-size="7.3" text-anchor="middle" fill="#141414" transform="matrix(1 0 0 1.06 492 48.3)">p&lt;0.001</text>
<line x1="491.59" y1="110.5" x2="491.59" y2="113.1" stroke="#333333" stroke-width="0.8"/>
<text font-size="7.3" text-anchor="end" fill="#141414" transform="matrix(1 0 0 1.15 493.19 116.4) rotate(-60)">Mast.cells.activated</text>
<line x1="507.25" y1="107.8" x2="508.25" y2="107.8" stroke="#000" stroke-width="0.8"/>
<line x1="512.15" y1="107.8" x2="513.15" y2="107.8" stroke="#000" stroke-width="0.8"/>
<line x1="513.55" y1="107.8" x2="514.55" y2="107.8" stroke="#000" stroke-width="0.8"/>
<line x1="521.55" y1="107.8" x2="522.55" y2="107.8" stroke="#000" stroke-width="0.8"/>
<path d="M512.05 103 V96.8 H517.95 V103" fill="none" stroke="#5a5a5a" stroke-width="0.9"/>
<text font-size="7.3" text-anchor="middle" fill="#141414" transform="matrix(1 0 0 1.06 515 93.7)">p=0.186</text>
<line x1="514.5" y1="110.5" x2="514.5" y2="113.1" stroke="#333333" stroke-width="0.8"/>
<text font-size="7.3" text-anchor="end" fill="#141414" transform="matrix(1 0 0 1.15 516.1 116.4) rotate(-60)">Eosinophils</text>
<linearGradient id="vg41" gradientUnits="userSpaceOnUse" x1="0" y1="96.4" x2="0" y2="101.44"><stop offset="0" stop-color="#000"/><stop offset="1" stop-color="#C8D62F"/></linearGradient>
<path d="M534.14 80.9 C534.16 82.46 534.13 87.42 534.24 90.25 C534.35 93.08 534.56 95.78 534.81 97.9 C535.06 100.02 535.43 101.5 535.76 102.95 C536.09 104.4 536.6 105.76 536.81 106.6 C537.02 107.44 536.98 107.77 537.02 108 L530.9 108 C530.93 107.77 530.9 107.44 531.11 106.6 C531.32 105.76 531.83 104.4 532.16 102.95 C532.49 101.5 532.86 100.02 533.11 97.9 C533.36 95.78 533.57 93.08 533.68 90.25 C533.79 87.42 533.76 82.46 533.78 80.9Z" fill="url(#vg41)" stroke="#000" stroke-width="0.8"/>
<rect x="531.76" y="104.8" width="4.4" height="3" fill="#fff" stroke="none" stroke-width="0" rx="1.3"/>
<linearGradient id="vg42" gradientUnits="userSpaceOnUse" x1="0" y1="91.9" x2="0" y2="98.51"><stop offset="0" stop-color="#000"/><stop offset="1" stop-color="#E8912B"/></linearGradient>
<path d="M541.84 65.8 C541.86 68.33 541.83 76.38 541.94 80.98 C542.05 85.58 542.26 90.11 542.51 93.4 C542.76 96.69 543.13 98.5 543.46 100.7 C543.79 102.9 544.3 105.38 544.51 106.6 C544.72 107.82 544.68 107.77 544.72 108 L538.6 108 C538.63 107.77 538.6 107.82 538.81 106.6 C539.02 105.38 539.53 102.9 539.86 100.7 C540.19 98.5 540.56 96.69 540.81 93.4 C541.06 90.11 541.27 85.58 541.38 80.98 C541.49 76.38 541.46 68.33 541.48 65.8Z" fill="url(#vg42)" stroke="#000" stroke-width="0.8"/>
<rect x="539.46" y="104.8" width="4.4" height="3" fill="#fff" stroke="none" stroke-width="0" rx="1.3"/>
<line x1="533.96" y1="65.8" x2="541.66" y2="65.8" stroke="#000" stroke-width="0.85"/>
<line x1="533.96" y1="65.4" x2="533.96" y2="67.4" stroke="#000" stroke-width="0.85"/>
<line x1="541.66" y1="65.4" x2="541.66" y2="67.4" stroke="#000" stroke-width="0.85"/>
<text font-size="7.3" text-anchor="middle" fill="#141414" transform="matrix(1 0 0 1.06 538 62.9)">p&lt;0.001</text>
<line x1="537.41" y1="110.5" x2="537.41" y2="113.1" stroke="#333333" stroke-width="0.8"/>
<text font-size="7.3" text-anchor="end" fill="#141414" transform="matrix(1 0 0 1.15 539.01 116.4) rotate(-60)">Neutrophils</text>
<rect x="33.5" y="11.5" width="522" height="99" fill="none" stroke="#333333" stroke-width="1"/>
<text x="561" y="20" font-size="26.5" text-anchor="start" fill="#000">B</text>
<text font-size="12.6" text-anchor="middle" fill="#000" transform="matrix(1 0 0 1.08 634.6 15.6)">Fibroblasts</text>
<line x1="609.3" y1="33.6" x2="609.3" y2="65.4" stroke="#222" stroke-width="1.15"/>
<line x1="609.3" y1="88.6" x2="609.3" y2="120.8" stroke="#222" stroke-width="1.15"/>
<line x1="604.7" y1="33.6" x2="613.9" y2="33.6" stroke="#222" stroke-width="1.15"/>
<line x1="604.7" y1="120.8" x2="613.9" y2="120.8" stroke="#222" stroke-width="1.15"/>
<rect x="595.4" y="65.4" width="27.8" height="23.2" fill="#E8912B" stroke="#3a3a3a" stroke-width="0.8"/>
<line x1="595.4" y1="77" x2="623.2" y2="77" stroke="#2b2b2b" stroke-width="1.5"/>
<line x1="655" y1="37.6" x2="655" y2="71.2" stroke="#222" stroke-width="1.15"/>
<line x1="655" y1="94" x2="655" y2="120.8" stroke="#222" stroke-width="1.15"/>
<line x1="650.4" y1="37.6" x2="659.6" y2="37.6" stroke="#222" stroke-width="1.15"/>
<line x1="650.4" y1="120.8" x2="659.6" y2="120.8" stroke="#222" stroke-width="1.15"/>
<rect x="641.2" y="71.2" width="27.6" height="22.8" fill="#C8D62F" stroke="#3a3a3a" stroke-width="0.8"/>
<line x1="641.2" y1="82.4" x2="668.8" y2="82.4" stroke="#2b2b2b" stroke-width="1.5"/>
<rect x="582" y="20" width="100.4" height="108" fill="none" stroke="#222" stroke-width="1.1"/>
<text font-size="7.4" text-anchor="middle" fill="#141414" transform="matrix(1 0 0 1.08 630.6 29.3)">Wilcoxon, p &lt; 2.2e−16</text>
<line x1="579.3" y1="44.4" x2="582" y2="44.4" stroke="#333333" stroke-width="0.8"/>
<text font-size="8.2" text-anchor="end" fill="#262626" transform="matrix(1 0 0 1.08 579.3 47.2)">7.5</text>
<line x1="579.3" y1="73" x2="582" y2="73" stroke="#333333" stroke-width="0.8"/>
<text font-size="8.2" text-anchor="end" fill="#262626" transform="matrix(1 0 0 1.08 579.3 75.8)">5.0</text>
<line x1="579.3" y1="101.4" x2="582" y2="101.4" stroke="#333333" stroke-width="0.8"/>
<text font-size="8.2" text-anchor="end" fill="#262626" transform="matrix(1 0 0 1.08 579.3 104.2)">2.5</text>
<text font-size="8.4" text-anchor="middle" fill="#141414" transform="translate(565.8 71.2) rotate(-90) scale(1 1.08)">Abundance</text>
<line x1="609.3" y1="128" x2="609.3" y2="130.5" stroke="#333333" stroke-width="0.8"/>
<text font-size="7.9" text-anchor="middle" fill="#141414" transform="matrix(1 0 0 1.08 609.3 137.6)">High-risk</text>
<line x1="655" y1="128" x2="655" y2="130.5" stroke="#333333" stroke-width="0.8"/>
<text font-size="7.9" text-anchor="middle" fill="#141414" transform="matrix(1 0 0 1.08 655 137.6)">Low-risk</text>
<rect x="528.6" y="160" width="9.4" height="9.6" fill="#E8912B" stroke="none" stroke-width="1"/>
<text font-size="8.4" text-anchor="start" fill="#141414" transform="matrix(1 0 0 1.08 541.2 168)">High-risk</text>
<rect x="579" y="160" width="9.4" height="9.6" fill="#C8D62F" stroke="none" stroke-width="1"/>
<text font-size="8.4" text-anchor="start" fill="#141414" transform="matrix(1 0 0 1.08 591 168)">Low-risk</text>
<text x="0" y="203" font-size="26.5" text-anchor="start" fill="#000">C</text>
<line x1="26.35" y1="212.5" x2="26.35" y2="307.3" stroke="#262626" stroke-width="1.5"/>
<line x1="25.6" y1="307.3" x2="111" y2="307.3" stroke="#262626" stroke-width="1.5"/>
<line x1="23.55" y1="242" x2="26.35" y2="242" stroke="#262626" stroke-width="0.9"/>
<text font-size="7.85" text-anchor="end" fill="#262626" transform="matrix(1 0 0 1.08 21.95 244.75)">2.0</text>
<line x1="23.55" y1="277.4" x2="26.35" y2="277.4" stroke="#262626" stroke-width="0.9"/>
<text font-size="7.85" text-anchor="end" fill="#262626" transform="matrix(1 0 0 1.08 21.95 280.15)">1.5</text>
<text font-size="11.8" text-anchor="middle" fill="#000" transform="matrix(1 0 0 1.08 67.4 205.5)">NRF2</text>
<path d="M49.4 220 C49.5 220.42 49.8 221.58 50 222.5 C50.2 223.42 49.95 224.42 50.6 225.5 C51.25 226.58 52.53 227.42 53.9 229 C55.27 230.58 57.82 233.17 58.8 235 C59.78 236.83 59.53 238.03 59.8 240 C60.07 241.97 60.57 245.02 60.4 246.8 C60.23 248.58 59.72 249.38 58.8 250.7 C57.88 252.02 56.03 253.37 54.9 254.7 C53.77 256.03 52.55 257.57 52 258.7 C51.45 259.83 51.6 260.5 51.6 261.5 C51.6 262.5 51.2 263.52 52 264.7 C52.8 265.88 55.02 266.95 56.4 268.6 C57.78 270.25 59.9 272.93 60.3 274.6 C60.7 276.27 59.45 277.28 58.8 278.6 C58.15 279.92 56.77 281.18 56.4 282.5 C56.03 283.82 56.93 285.17 56.6 286.5 C56.27 287.83 55.27 289.18 54.4 290.5 C53.53 291.82 52.23 292.92 51.4 294.4 C50.57 295.88 49.73 298.57 49.4 299.4 L49.4 299.4 C49.07 298.57 48.23 295.88 47.4 294.4 C46.57 292.92 45.27 291.82 44.4 290.5 C43.53 289.18 42.53 287.83 42.2 286.5 C41.87 285.17 42.77 283.82 42.4 282.5 C42.03 281.18 40.65 279.92 40 278.6 C39.35 277.28 38.1 276.27 38.5 274.6 C38.9 272.93 41.02 270.25 42.4 268.6 C43.78 266.95 46 265.88 46.8 264.7 C47.6 263.52 47.2 262.5 47.2 261.5 C47.2 260.5 47.35 259.83 46.8 258.7 C46.25 257.57 45.03 256.03 43.9 254.7 C42.77 253.37 40.92 252.02 40 250.7 C39.08 249.38 38.57 248.58 38.4 246.8 C38.23 245.02 38.73 241.97 39 240 C39.27 238.03 39.02 236.83 40 235 C40.98 233.17 43.53 230.58 44.9 229 C46.27 227.42 47.55 226.58 48.2 225.5 C48.85 224.42 48.6 223.42 48.8 222.5 C49 221.58 49.3 220.42 49.4 220Z" fill="none" stroke="#C5DA2B" stroke-width="1.3"/>
<path d="M88.3 217.2 C88.55 218.23 89.45 221.5 89.8 223.4 C90.15 225.3 89.62 226.87 90.4 228.6 C91.18 230.33 93.17 231.72 94.5 233.8 C95.83 235.88 97.97 238.85 98.4 241.1 C98.83 243.35 97.75 245.05 97.1 247.3 C96.45 249.55 95.37 252.52 94.5 254.6 C93.63 256.68 92.57 258.4 91.9 259.8 C91.23 261.2 90.8 261.97 90.5 263 C90.2 264.03 89.68 264.88 90.1 266 C90.52 267.12 91.13 268.48 93 269.7 C94.87 270.92 99.13 271.92 101.3 273.3 C103.47 274.68 106 276.62 106 278 C106 279.38 103.22 280.3 101.3 281.6 C99.38 282.9 96.4 284.23 94.5 285.8 C92.6 287.37 90.77 289.27 89.9 291 C89.03 292.73 89.57 294.13 89.3 296.2 C89.03 298.27 88.47 302.2 88.3 303.4 L88.3 303.4 C88.13 302.2 87.57 298.27 87.3 296.2 C87.03 294.13 87.57 292.73 86.7 291 C85.83 289.27 84 287.37 82.1 285.8 C80.2 284.23 77.22 282.9 75.3 281.6 C73.38 280.3 70.6 279.38 70.6 278 C70.6 276.62 73.13 274.68 75.3 273.3 C77.47 271.92 81.73 270.92 83.6 269.7 C85.47 268.48 86.08 267.12 86.5 266 C86.92 264.88 86.4 264.03 86.1 263 C85.8 261.97 85.37 261.2 84.7 259.8 C84.03 258.4 82.97 256.68 82.1 254.6 C81.23 252.52 80.15 249.55 79.5 247.3 C78.85 245.05 77.77 243.35 78.2 241.1 C78.63 238.85 80.77 235.88 82.1 233.8 C83.43 231.72 85.42 230.33 86.2 228.6 C86.98 226.87 86.45 225.3 86.8 223.4 C87.15 221.5 88.05 218.23 88.3 217.2Z" fill="none" stroke="#EE8A25" stroke-width="1.3"/>
<ellipse cx="49.4" cy="260.2" rx="3.9" ry="3.75" fill="#A9A9A9"/>
<ellipse cx="88.3" cy="260.8" rx="3.9" ry="3.75" fill="#A9A9A9"/>
<text font-size="7.4" text-anchor="middle" fill="#141414" transform="matrix(1 0 0 1.08 69.35 218.9)">Wilcoxon, p = 0.031</text>
<line x1="49.4" y1="307.4" x2="49.4" y2="309.8" stroke="#262626" stroke-width="0.9"/>
<text font-size="7.95" text-anchor="middle" fill="#141414" transform="matrix(1 0 0 1.08 48.3 317.8)">Low-risk</text>
<line x1="88.3" y1="307.4" x2="88.3" y2="309.8" stroke="#262626" stroke-width="0.9"/>
<text font-size="7.95" text-anchor="middle" fill="#141414" transform="matrix(1 0 0 1.08 89.25 317.8)">High-risk</text>
<line x1="134.2" y1="212.5" x2="134.2" y2="307.3" stroke="#262626" stroke-width="1.5"/>
<line x1="133.45" y1="307.3" x2="217" y2="307.3" stroke="#262626" stroke-width="1.5"/>
<line x1="131.4" y1="219.4" x2="134.2" y2="219.4" stroke="#262626" stroke-width="0.9"/>
<text font-size="7.85" text-anchor="end" fill="#262626" transform="matrix(1 0 0 1.08 129.8 222.15)">2.00</text>
<line x1="131.4" y1="242.9" x2="134.2" y2="242.9" stroke="#262626" stroke-width="0.9"/>
<text font-size="7.85" text-anchor="end" fill="#262626" transform="matrix(1 0 0 1.08 129.8 245.65)">1.75</text>
<line x1="131.4" y1="266.4" x2="134.2" y2="266.4" stroke="#262626" stroke-width="0.9"/>
<text font-size="7.85" text-anchor="end" fill="#262626" transform="matrix(1 0 0 1.08 129.8 269.15)">1.50</text>
<line x1="131.4" y1="290" x2="134.2" y2="290" stroke="#262626" stroke-width="0.9"/>
<text font-size="7.85" text-anchor="end" fill="#262626" transform="matrix(1 0 0 1.08 129.8 292.75)">1.25</text>
<text font-size="11.8" text-anchor="middle" fill="#000" transform="matrix(1 0 0 1.08 180.7 205.5)">PI3K</text>
<path d="M156.3 219.2 C156.77 219.9 158.03 222.02 159.1 223.4 C160.17 224.78 161.48 225.95 162.7 227.5 C163.92 229.05 165.78 230.78 166.4 232.7 C167.02 234.62 166.53 236.75 166.4 239 C166.27 241.25 166.03 243.95 165.6 246.2 C165.17 248.45 164.62 250.58 163.8 252.5 C162.98 254.42 161.58 256.28 160.7 257.7 C159.82 259.12 158.93 259.8 158.5 261 C158.07 262.2 157.73 263.55 158.1 264.9 C158.47 266.25 159.67 267.72 160.7 269.1 C161.73 270.48 163.23 271.65 164.3 273.2 C165.37 274.75 167.1 276.67 167.1 278.4 C167.1 280.13 165.03 282.03 164.3 283.6 C163.57 285.17 162.75 286.23 162.7 287.8 C162.65 289.37 164.43 291.27 164 293 C163.57 294.73 161.38 296.48 160.1 298.2 C158.82 299.92 156.93 302.45 156.3 303.3 L156.3 303.3 C155.67 302.45 153.78 299.92 152.5 298.2 C151.22 296.48 149.03 294.73 148.6 293 C148.17 291.27 149.95 289.37 149.9 287.8 C149.85 286.23 149.03 285.17 148.3 283.6 C147.57 282.03 145.5 280.13 145.5 278.4 C145.5 276.67 147.23 274.75 148.3 273.2 C149.37 271.65 150.87 270.48 151.9 269.1 C152.93 267.72 154.13 266.25 154.5 264.9 C154.87 263.55 154.53 262.2 154.1 261 C153.67 259.8 152.78 259.12 151.9 257.7 C151.02 256.28 149.62 254.42 148.8 252.5 C147.98 250.58 147.43 248.45 147 246.2 C146.57 243.95 146.33 241.25 146.2 239 C146.07 236.75 145.58 234.62 146.2 232.7 C146.82 230.78 148.68 229.05 149.9 227.5 C151.12 225.95 152.43 224.78 153.5 223.4 C154.57 222.02 155.83 219.9 156.3 219.2Z" fill="none" stroke="#C5DA2B" stroke-width="1.3"/>
<path d="M193.2 217.2 C193.47 218.07 193.93 220.68 194.8 222.4 C195.67 224.12 197.63 225.87 198.4 227.5 C199.17 229.13 199.63 230.63 199.4 232.2 C199.17 233.77 196.9 235.43 197 236.9 C197.1 238.37 198.73 239.45 200 241 C201.27 242.55 203.75 244.63 204.6 246.2 C205.45 247.77 205.53 248.83 205.1 250.4 C204.67 251.97 203.2 254.03 202 255.6 C200.8 257.17 199.1 258.4 197.9 259.8 C196.7 261.2 195.42 262.62 194.8 264 C194.18 265.38 193.68 266.73 194.2 268.1 C194.72 269.47 196.08 270.82 197.9 272.2 C199.72 273.58 203.03 274.83 205.1 276.4 C207.17 277.97 209.95 280.05 210.3 281.6 C210.65 283.15 209.02 283.97 207.2 285.7 C205.38 287.43 201.4 290.27 199.4 292 C197.4 293.73 196.23 294.9 195.2 296.1 C194.17 297.3 193.53 298.68 193.2 299.2 L193.2 299.2 C192.87 298.68 192.23 297.3 191.2 296.1 C190.17 294.9 189 293.73 187 292 C185 290.27 181.02 287.43 179.2 285.7 C177.38 283.97 175.75 283.15 176.1 281.6 C176.45 280.05 179.23 277.97 181.3 276.4 C183.37 274.83 186.68 273.58 188.5 272.2 C190.32 270.82 191.68 269.47 192.2 268.1 C192.72 266.73 192.22 265.38 191.6 264 C190.98 262.62 189.7 261.2 188.5 259.8 C187.3 258.4 185.6 257.17 184.4 255.6 C183.2 254.03 181.73 251.97 181.3 250.4 C180.87 248.83 180.95 247.77 181.8 246.2 C182.65 244.63 185.13 242.55 186.4 241 C187.67 239.45 189.3 238.37 189.4 236.9 C189.5 235.43 187.23 233.77 187 232.2 C186.77 230.63 187.23 229.13 188 227.5 C188.77 225.87 190.73 224.12 191.6 222.4 C192.47 220.68 192.93 218.07 193.2 217.2Z" fill="none" stroke="#EE8A25" stroke-width="1.3"/>
<ellipse cx="156.3" cy="260.8" rx="3.9" ry="3.75" fill="#A9A9A9"/>
<ellipse cx="193.2" cy="263.4" rx="3.9" ry="3.75" fill="#A9A9A9"/>
<text font-size="7.4" text-anchor="middle" fill="#141414" transform="matrix(1 0 0 1.08 179 218.9)">Wilcoxon, p = 2.2e−08</text>
<line x1="156.3" y1="307.4" x2="156.3" y2="309.8" stroke="#262626" stroke-width="0.9"/>
<text font-size="7.95" text-anchor="middle" fill="#141414" transform="matrix(1 0 0 1.08 155.4 317.8)">Low-risk</text>
<line x1="193.2" y1="307.4" x2="193.2" y2="309.8" stroke="#262626" stroke-width="0.9"/>
<text font-size="7.95" text-anchor="middle" fill="#141414" transform="matrix(1 0 0 1.08 196.3 317.8)">High-risk</text>
<line x1="237.8" y1="212.5" x2="237.8" y2="307.3" stroke="#262626" stroke-width="1.5"/>
<line x1="237.05" y1="307.3" x2="318" y2="307.3" stroke="#262626" stroke-width="1.5"/>
<line x1="235" y1="226" x2="237.8" y2="226" stroke="#262626" stroke-width="0.9"/>
<text font-size="7.85" text-anchor="end" fill="#262626" transform="matrix(1 0 0 1.08 233.4 228.75)">2.00</text>
<line x1="235" y1="247" x2="237.8" y2="247" stroke="#262626" stroke-width="0.9"/>
<text font-size="7.85" text-anchor="end" fill="#262626" transform="matrix(1 0 0 1.08 233.4 249.75)">1.75</text>
<line x1="235" y1="267.6" x2="237.8" y2="267.6" stroke="#262626" stroke-width="0.9"/>
<text font-size="7.85" text-anchor="end" fill="#262626" transform="matrix(1 0 0 1.08 233.4 270.35)">1.50</text>
<line x1="235" y1="288.4" x2="237.8" y2="288.4" stroke="#262626" stroke-width="0.9"/>
<text font-size="7.85" text-anchor="end" fill="#262626" transform="matrix(1 0 0 1.08 233.4 291.15)">1.25</text>
<text font-size="11.8" text-anchor="middle" fill="#000" transform="matrix(1 0 0 1.08 280.5 205.5)">RAS</text>
<path d="M260.1 217.7 C260.45 218.65 261.5 221.42 262.2 223.4 C262.9 225.38 263.53 227.35 264.3 229.6 C265.07 231.85 265.95 234.47 266.8 236.9 C267.65 239.33 268.78 242.13 269.4 244.2 C270.02 246.27 270.67 247.58 270.5 249.3 C270.33 251.02 269.35 252.93 268.4 254.5 C267.45 256.07 265.82 257.4 264.8 258.7 C263.78 260 262.68 260.92 262.3 262.3 C261.92 263.68 261.92 265.35 262.5 267 C263.08 268.65 264.65 270.47 265.8 272.2 C266.95 273.93 268.62 275.85 269.4 277.4 C270.18 278.95 270.58 279.77 270.5 281.5 C270.42 283.23 269.85 285.55 268.9 287.8 C267.95 290.05 266.1 292.93 264.8 295 C263.5 297.07 261.88 298.82 261.1 300.2 C260.32 301.58 260.27 302.78 260.1 303.3 L260.1 303.3 C259.93 302.78 259.88 301.58 259.1 300.2 C258.32 298.82 256.7 297.07 255.4 295 C254.1 292.93 252.25 290.05 251.3 287.8 C250.35 285.55 249.78 283.23 249.7 281.5 C249.62 279.77 250.02 278.95 250.8 277.4 C251.58 275.85 253.25 273.93 254.4 272.2 C255.55 270.47 257.12 268.65 257.7 267 C258.28 265.35 258.28 263.68 257.9 262.3 C257.52 260.92 256.42 260 255.4 258.7 C254.38 257.4 252.75 256.07 251.8 254.5 C250.85 252.93 249.87 251.02 249.7 249.3 C249.53 247.58 250.18 246.27 250.8 244.2 C251.42 242.13 252.55 239.33 253.4 236.9 C254.25 234.47 255.13 231.85 255.9 229.6 C256.67 227.35 257.3 225.38 258 223.4 C258.7 221.42 259.75 218.65 260.1 217.7Z" fill="none" stroke="#C5DA2B" stroke-width="1.3"/>
<path d="M296.6 218.7 C297.07 219.65 298.67 222.4 299.4 224.4 C300.13 226.4 300.88 228.62 301 230.7 C301.12 232.78 299.58 234.83 300.1 236.9 C300.62 238.97 302.48 240.85 304.1 243.1 C305.72 245.35 309.55 248.32 309.8 250.4 C310.05 252.48 307.07 253.87 305.6 255.6 C304.13 257.33 302.13 259.32 301 260.8 C299.87 262.28 299.12 262.93 298.8 264.5 C298.48 266.07 298.4 268.57 299.1 270.2 C299.8 271.83 301.3 272.92 303 274.3 C304.7 275.68 307.57 277.12 309.3 278.5 C311.03 279.88 313.4 281.05 313.4 282.6 C313.4 284.15 311.55 285.88 309.3 287.8 C307.05 289.72 301.85 292.53 299.9 294.1 C297.95 295.67 298.15 296.17 297.6 297.2 C297.05 298.23 296.77 299.78 296.6 300.3 L296.6 300.3 C296.43 299.78 296.15 298.23 295.6 297.2 C295.05 296.17 295.25 295.67 293.3 294.1 C291.35 292.53 286.15 289.72 283.9 287.8 C281.65 285.88 279.8 284.15 279.8 282.6 C279.8 281.05 282.17 279.88 283.9 278.5 C285.63 277.12 288.5 275.68 290.2 274.3 C291.9 272.92 293.4 271.83 294.1 270.2 C294.8 268.57 294.72 266.07 294.4 264.5 C294.08 262.93 293.33 262.28 292.2 260.8 C291.07 259.32 289.07 257.33 287.6 255.6 C286.13 253.87 283.15 252.48 283.4 250.4 C283.65 248.32 287.48 245.35 289.1 243.1 C290.72 240.85 292.58 238.97 293.1 236.9 C293.62 234.83 292.08 232.78 292.2 230.7 C292.32 228.62 293.07 226.4 293.8 224.4 C294.53 222.4 296.13 219.65 296.6 218.7Z" fill="none" stroke="#EE8A25" stroke-width="1.3"/>
<ellipse cx="260.1" cy="262.3" rx="3.9" ry="3.75" fill="#A9A9A9"/>
<ellipse cx="296.6" cy="264.5" rx="3.9" ry="3.75" fill="#A9A9A9"/>
<text font-size="7.4" text-anchor="middle" fill="#141414" transform="matrix(1 0 0 1.08 282.7 218.9)">Wilcoxon, p = 4.7e−06</text>
<line x1="260.1" y1="307.4" x2="260.1" y2="309.8" stroke="#262626" stroke-width="0.9"/>
<text font-size="7.95" text-anchor="middle" fill="#141414" transform="matrix(1 0 0 1.08 257.7 317.8)">Low-risk</text>
<line x1="296.6" y1="307.4" x2="296.6" y2="309.8" stroke="#262626" stroke-width="0.9"/>
<text font-size="7.95" text-anchor="middle" fill="#141414" transform="matrix(1 0 0 1.08 296.7 317.8)">High-risk</text>
<line x1="344.1" y1="212.5" x2="344.1" y2="307.3" stroke="#262626" stroke-width="1.5"/>
<line x1="343.35" y1="307.3" x2="423" y2="307.3" stroke="#262626" stroke-width="1.5"/>
<line x1="341.3" y1="216.6" x2="344.1" y2="216.6" stroke="#262626" stroke-width="0.9"/>
<text font-size="7.85" text-anchor="end" fill="#262626" transform="matrix(1 0 0 1.08 339.7 219.35)">2.25</text>
<line x1="341.3" y1="234.6" x2="344.1" y2="234.6" stroke="#262626" stroke-width="0.9"/>
<text font-size="7.85" text-anchor="end" fill="#262626" transform="matrix(1 0 0 1.08 339.7 237.35)">2.00</text>
<line x1="341.3" y1="252.6" x2="344.1" y2="252.6" stroke="#262626" stroke-width="0.9"/>
<text font-size="7.85" text-anchor="end" fill="#262626" transform="matrix(1 0 0 1.08 339.7 255.35)">1.75</text>
<line x1="341.3" y1="270.6" x2="344.1" y2="270.6" stroke="#262626" stroke-width="0.9"/>
<text font-size="7.85" text-anchor="end" fill="#262626" transform="matrix(1 0 0 1.08 339.7 273.35)">1.50</text>
<line x1="341.3" y1="288.6" x2="344.1" y2="288.6" stroke="#262626" stroke-width="0.9"/>
<text font-size="7.85" text-anchor="end" fill="#262626" transform="matrix(1 0 0 1.08 339.7 291.35)">1.25</text>
<line x1="341.3" y1="307" x2="344.1" y2="307" stroke="#262626" stroke-width="0.9"/>
<text font-size="7.85" text-anchor="end" fill="#262626" transform="matrix(1 0 0 1.08 339.7 309.75)">1.00</text>
<text font-size="11.8" text-anchor="middle" fill="#000" transform="matrix(1 0 0 1.08 389.9 205.5)">Cell.Cycle</text>
<path d="M365.6 219.2 C365.73 220.25 366.13 223.42 366.4 225.5 C366.67 227.58 366.2 229.63 367.2 231.7 C368.2 233.77 370.85 235.65 372.4 237.9 C373.95 240.15 375.52 243.12 376.5 245.2 C377.48 247.28 378.55 248.67 378.3 250.4 C378.05 252.13 376.17 253.87 375 255.6 C373.83 257.33 372.4 259.23 371.3 260.8 C370.2 262.37 368.83 263.45 368.4 265 C367.97 266.55 367.95 268.55 368.7 270.1 C369.45 271.65 371.43 272.82 372.9 274.3 C374.37 275.78 377.07 277.45 377.5 279 C377.93 280.55 375.97 282.13 375.5 283.6 C375.03 285.07 375.22 286.23 374.7 287.8 C374.18 289.37 373.48 291.27 372.4 293 C371.32 294.73 369.33 296.63 368.2 298.2 C367.07 299.77 366.03 301.7 365.6 302.4 L365.6 302.4 C365.17 301.7 364.13 299.77 363 298.2 C361.87 296.63 359.88 294.73 358.8 293 C357.72 291.27 357.02 289.37 356.5 287.8 C355.98 286.23 356.17 285.07 355.7 283.6 C355.23 282.13 353.27 280.55 353.7 279 C354.13 277.45 356.83 275.78 358.3 274.3 C359.77 272.82 361.75 271.65 362.5 270.1 C363.25 268.55 363.23 266.55 362.8 265 C362.37 263.45 361 262.37 359.9 260.8 C358.8 259.23 357.37 257.33 356.2 255.6 C355.03 253.87 353.15 252.13 352.9 250.4 C352.65 248.67 353.72 247.28 354.7 245.2 C355.68 243.12 357.25 240.15 358.8 237.9 C360.35 235.65 363 233.77 364 231.7 C365 229.63 364.53 227.58 364.8 225.5 C365.07 223.42 365.47 220.25 365.6 219.2Z" fill="none" stroke="#C5DA2B" stroke-width="1.3"/>
<path d="M401.7 218.2 C401.97 219.23 402.87 222.15 403.3 224.4 C403.73 226.65 403.32 229.62 404.3 231.7 C405.28 233.78 407.98 235.17 409.2 236.9 C410.42 238.63 411.28 240.37 411.6 242.1 C411.92 243.83 411.18 245.75 411.1 247.3 C411.02 248.85 411.45 249.85 411.1 251.4 C410.75 252.95 409.87 255.03 409 256.6 C408.13 258.17 406.65 259.72 405.9 260.8 C405.15 261.88 404.65 261.88 404.5 263.1 C404.35 264.32 404.25 266.58 405 268.1 C405.75 269.62 407.38 271 409 272.2 C410.62 273.4 413.15 274.25 414.7 275.3 C416.25 276.35 418.22 277.28 418.3 278.5 C418.38 279.72 416.83 281.05 415.2 282.6 C413.57 284.15 410.48 285.9 408.5 287.8 C406.52 289.7 404.43 292.1 403.3 294 C402.17 295.9 401.97 298.33 401.7 299.2 L401.7 299.2 C401.43 298.33 401.23 295.9 400.1 294 C398.97 292.1 396.88 289.7 394.9 287.8 C392.92 285.9 389.83 284.15 388.2 282.6 C386.57 281.05 385.02 279.72 385.1 278.5 C385.18 277.28 387.15 276.35 388.7 275.3 C390.25 274.25 392.78 273.4 394.4 272.2 C396.02 271 397.65 269.62 398.4 268.1 C399.15 266.58 399.05 264.32 398.9 263.1 C398.75 261.88 398.25 261.88 397.5 260.8 C396.75 259.72 395.27 258.17 394.4 256.6 C393.53 255.03 392.65 252.95 392.3 251.4 C391.95 249.85 392.38 248.85 392.3 247.3 C392.22 245.75 391.48 243.83 391.8 242.1 C392.12 240.37 392.98 238.63 394.2 236.9 C395.42 235.17 398.12 233.78 399.1 231.7 C400.08 229.62 399.67 226.65 400.1 224.4 C400.53 222.15 401.43 219.23 401.7 218.2Z" fill="none" stroke="#EE8A25" stroke-width="1.3"/>
<ellipse cx="365.6" cy="265" rx="3.9" ry="3.75" fill="#A9A9A9"/>
<ellipse cx="401.7" cy="263.1" rx="3.9" ry="3.75" fill="#A9A9A9"/>
<text font-size="7.4" text-anchor="middle" fill="#141414" transform="matrix(1 0 0 1.08 389.2 218.9)">Wilcoxon, p = 8.9e−09</text>
<line x1="365.6" y1="307.4" x2="365.6" y2="309.8" stroke="#262626" stroke-width="0.9"/>
<text font-size="7.95" text-anchor="middle" fill="#141414" transform="matrix(1 0 0 1.08 365 317.8)">Low-risk</text>
<line x1="401.7" y1="307.4" x2="401.7" y2="309.8" stroke="#262626" stroke-width="0.9"/>
<text font-size="7.95" text-anchor="middle" fill="#141414" transform="matrix(1 0 0 1.08 406.2 317.8)">High-risk</text>
<line x1="441.4" y1="212.5" x2="441.4" y2="307.3" stroke="#262626" stroke-width="1.5"/>
<line x1="440.65" y1="307.3" x2="527" y2="307.3" stroke="#262626" stroke-width="1.5"/>
<line x1="438.6" y1="215.4" x2="441.4" y2="215.4" stroke="#262626" stroke-width="0.9"/>
<text font-size="7.85" text-anchor="end" fill="#262626" transform="matrix(1 0 0 1.08 437 218.15)">1.8</text>
<line x1="438.6" y1="237" x2="441.4" y2="237" stroke="#262626" stroke-width="0.9"/>
<text font-size="7.85" text-anchor="end" fill="#262626" transform="matrix(1 0 0 1.08 437 239.75)">1.5</text>
<line x1="438.6" y1="258.6" x2="441.4" y2="258.6" stroke="#262626" stroke-width="0.9"/>
<text font-size="7.85" text-anchor="end" fill="#262626" transform="matrix(1 0 0 1.08 437 261.35)">1.2</text>
<line x1="438.6" y1="280" x2="441.4" y2="280" stroke="#262626" stroke-width="0.9"/>
<text font-size="7.85" text-anchor="end" fill="#262626" transform="matrix(1 0 0 1.08 437 282.75)">0.9</text>
<line x1="438.6" y1="301.6" x2="441.4" y2="301.6" stroke="#262626" stroke-width="0.9"/>
<text font-size="7.85" text-anchor="end" fill="#262626" transform="matrix(1 0 0 1.08 437 304.35)">0.6</text>
<text font-size="11.8" text-anchor="middle" fill="#000" transform="matrix(1 0 0 1.08 490.2 205.5)">WNT</text>
<path d="M465.1 220.8 C465.2 221.25 465.55 222.55 465.7 223.5 C465.85 224.45 465.5 225.13 466 226.5 C466.5 227.87 467.82 229.97 468.7 231.7 C469.58 233.43 470.68 234.82 471.3 236.9 C471.92 238.98 472.05 241.6 472.4 244.2 C472.75 246.8 473.07 249.73 473.4 252.5 C473.73 255.27 473.9 258.03 474.4 260.8 C474.9 263.57 476.57 266.68 476.4 269.1 C476.23 271.52 474.42 273.4 473.4 275.3 C472.38 277.2 470.93 278.93 470.3 280.5 C469.67 282.07 469.68 283.32 469.6 284.7 C469.52 286.08 470.12 287.08 469.8 288.8 C469.48 290.52 468.48 292.92 467.7 295 C466.92 297.08 465.53 300.25 465.1 301.3 L465.1 301.3 C464.67 300.25 463.28 297.08 462.5 295 C461.72 292.92 460.72 290.52 460.4 288.8 C460.08 287.08 460.68 286.08 460.6 284.7 C460.52 283.32 460.53 282.07 459.9 280.5 C459.27 278.93 457.82 277.2 456.8 275.3 C455.78 273.4 453.97 271.52 453.8 269.1 C453.63 266.68 455.3 263.57 455.8 260.8 C456.3 258.03 456.47 255.27 456.8 252.5 C457.13 249.73 457.45 246.8 457.8 244.2 C458.15 241.6 458.28 238.98 458.9 236.9 C459.52 234.82 460.62 233.43 461.5 231.7 C462.38 229.97 463.7 227.87 464.2 226.5 C464.7 225.13 464.35 224.45 464.5 223.5 C464.65 222.55 465 221.25 465.1 220.8Z" fill="none" stroke="#C5DA2B" stroke-width="1.3"/>
<path d="M504 216.1 C504.12 216.92 504.57 219.27 504.7 221 C504.83 222.73 504.17 224.37 504.8 226.5 C505.43 228.63 507.28 231.55 508.5 233.8 C509.72 236.05 511.18 237.92 512.1 240 C513.02 242.08 514 244.38 514 246.3 C514 248.22 512.68 249.95 512.1 251.5 C511.52 253.05 510.42 254.05 510.5 255.6 C510.58 257.15 511.3 259.07 512.6 260.8 C513.9 262.53 516.73 264.18 518.3 266 C519.87 267.82 522.17 269.97 522 271.7 C521.83 273.43 519.47 274.75 517.3 276.4 C515.13 278.05 510.98 279.7 509 281.6 C507.02 283.5 506.08 285.72 505.4 287.8 C504.72 289.88 505.13 291.83 504.9 294.1 C504.67 296.37 504.15 300.18 504 301.4 L504 301.4 C503.85 300.18 503.33 296.37 503.1 294.1 C502.87 291.83 503.28 289.88 502.6 287.8 C501.92 285.72 500.98 283.5 499 281.6 C497.02 279.7 492.87 278.05 490.7 276.4 C488.53 274.75 486.17 273.43 486 271.7 C485.83 269.97 488.13 267.82 489.7 266 C491.27 264.18 494.1 262.53 495.4 260.8 C496.7 259.07 497.42 257.15 497.5 255.6 C497.58 254.05 496.48 253.05 495.9 251.5 C495.32 249.95 494 248.22 494 246.3 C494 244.38 494.98 242.08 495.9 240 C496.82 237.92 498.28 236.05 499.5 233.8 C500.72 231.55 502.57 228.63 503.2 226.5 C503.83 224.37 503.17 222.73 503.3 221 C503.43 219.27 503.88 216.92 504 216.1Z" fill="none" stroke="#EE8A25" stroke-width="1.3"/>
<ellipse cx="465.1" cy="263.4" rx="4.1" ry="3.45" fill="#A9A9A9"/>
<ellipse cx="504" cy="261.3" rx="4.1" ry="3.45" fill="#A9A9A9"/>
<text font-size="7.4" text-anchor="middle" fill="#141414" transform="matrix(1 0 0 1.08 487.8 218.9)">Wilcoxon, p = 5.7e−08</text>
<line x1="465.1" y1="307.4" x2="465.1" y2="309.8" stroke="#262626" stroke-width="0.9"/>
<text font-size="7.95" text-anchor="middle" fill="#141414" transform="matrix(1 0 0 1.08 465.5 317.8)">Low-risk</text>
<line x1="504" y1="307.4" x2="504" y2="309.8" stroke="#262626" stroke-width="0.9"/>
<text font-size="7.95" text-anchor="middle" fill="#141414" transform="matrix(1 0 0 1.08 504.6 317.8)">High-risk</text>
<text font-size="8.2" text-anchor="middle" fill="#141414" transform="translate(10 262.7) rotate(-90) scale(1 1.08)">Score</text>
<text x="531" y="203" font-size="26.5" text-anchor="start" fill="#000">D</text>
<text font-size="12" text-anchor="middle" fill="#000" transform="matrix(1 0 0 1.08 623.2 196.6)">LAG3</text>
<line x1="603" y1="218" x2="603" y2="252" stroke="#222" stroke-width="1.15"/>
<line x1="603" y1="274.6" x2="603" y2="305.4" stroke="#222" stroke-width="1.15"/>
<line x1="598" y1="218" x2="608" y2="218" stroke="#222" stroke-width="1.15"/>
<line x1="598" y1="305.4" x2="608" y2="305.4" stroke="#222" stroke-width="1.15"/>
<rect x="588.7" y="252" width="28.6" height="22.6" fill="#C8D62F" stroke="#3a3a3a" stroke-width="0.8"/>
<line x1="588.7" y1="263.6" x2="617.3" y2="263.6" stroke="#2b2b2b" stroke-width="1.5"/>
<line x1="651" y1="212.4" x2="651" y2="246.6" stroke="#222" stroke-width="1.15"/>
<line x1="651" y1="270" x2="651" y2="305.4" stroke="#222" stroke-width="1.15"/>
<line x1="646" y1="212.4" x2="656" y2="212.4" stroke="#222" stroke-width="1.15"/>
<line x1="646" y1="305.4" x2="656" y2="305.4" stroke="#222" stroke-width="1.15"/>
<rect x="636.6" y="246.6" width="28.8" height="23.4" fill="#E8912B" stroke="#3a3a3a" stroke-width="0.8"/>
<line x1="636.6" y1="259.4" x2="665.4" y2="259.4" stroke="#2b2b2b" stroke-width="1.5"/>
<rect x="574.6" y="203.4" width="105" height="106.6" fill="none" stroke="#222" stroke-width="1.1"/>
<text font-size="7.4" text-anchor="middle" fill="#141414" transform="matrix(1 0 0 1.08 616 210.8)">Wilcoxon, p &lt; 2.2e−16</text>
<line x1="572" y1="208" x2="574.6" y2="208" stroke="#333333" stroke-width="0.8"/>
<text font-size="8.1" text-anchor="end" fill="#262626" transform="matrix(1 0 0 1.08 571.9 210.8)">20.0</text>
<line x1="572" y1="232.4" x2="574.6" y2="232.4" stroke="#333333" stroke-width="0.8"/>
<text font-size="8.1" text-anchor="end" fill="#262626" transform="matrix(1 0 0 1.08 571.9 235.2)">17.5</text>
<line x1="572" y1="256.6" x2="574.6" y2="256.6" stroke="#333333" stroke-width="0.8"/>
<text font-size="8.1" text-anchor="end" fill="#262626" transform="matrix(1 0 0 1.08 571.9 259.4)">15.0</text>
<line x1="572" y1="281" x2="574.6" y2="281" stroke="#333333" stroke-width="0.8"/>
<text font-size="8.1" text-anchor="end" fill="#262626" transform="matrix(1 0 0 1.08 571.9 283.8)">12.5</text>
<line x1="572" y1="305" x2="574.6" y2="305" stroke="#333333" stroke-width="0.8"/>
<text font-size="8.1" text-anchor="end" fill="#262626" transform="matrix(1 0 0 1.08 571.9 307.8)">10.0</text>
<text font-size="8.3" text-anchor="middle" fill="#141414" transform="translate(552.2 249) rotate(-90) scale(1 1.08)">Expression</text>
<line x1="603" y1="310" x2="603" y2="312.5" stroke="#333333" stroke-width="0.8"/>
<text font-size="8" text-anchor="middle" fill="#141414" transform="matrix(1 0 0 1.08 602.4 319.8)">Low-risk</text>
<line x1="651" y1="310" x2="651" y2="312.5" stroke="#333333" stroke-width="0.8"/>
<text font-size="8" text-anchor="middle" fill="#141414" transform="matrix(1 0 0 1.08 653 319.8)">High-risk</text>
<text x="1" y="346.8" font-size="26.5" text-anchor="start" fill="#000">E</text>
<text font-size="11.8" text-anchor="middle" fill="#000" transform="matrix(1 0 0 1.08 73.5 346.9)">PD−L1</text>
<line x1="49" y1="365.6" x2="49" y2="401.4" stroke="#222" stroke-width="1.15"/>
<line x1="49" y1="425.6" x2="49" y2="460.4" stroke="#222" stroke-width="1.15"/>
<line x1="44.4" y1="365.6" x2="53.6" y2="365.6" stroke="#222" stroke-width="1.15"/>
<line x1="44.4" y1="460.4" x2="53.6" y2="460.4" stroke="#222" stroke-width="1.15"/>
<rect x="34.4" y="401.4" width="29.2" height="24.2" fill="#C8D62F" stroke="#3a3a3a" stroke-width="0.8"/>
<line x1="34.4" y1="413.6" x2="63.6" y2="413.6" stroke="#2b2b2b" stroke-width="1.5"/>
<line x1="98" y1="360" x2="98" y2="399" stroke="#222" stroke-width="1.15"/>
<line x1="98" y1="424.6" x2="98" y2="463.4" stroke="#222" stroke-width="1.15"/>
<line x1="93.2" y1="360" x2="102.8" y2="360" stroke="#222" stroke-width="1.15"/>
<line x1="93.2" y1="463.4" x2="102.8" y2="463.4" stroke="#222" stroke-width="1.15"/>
<rect x="83.5" y="399" width="29" height="25.6" fill="#E8912B" stroke="#3a3a3a" stroke-width="0.8"/>
<line x1="83.5" y1="412.4" x2="112.5" y2="412.4" stroke="#2b2b2b" stroke-width="1.5"/>
<rect x="19.4" y="353.4" width="108" height="117.9" fill="none" stroke="#222" stroke-width="1.2"/>
<text font-size="7.5" text-anchor="middle" fill="#141414" transform="matrix(1 0 0 1.08 65 361.6)">Wilcoxon, p = 0.00017</text>
<line x1="16.8" y1="377" x2="19.4" y2="377" stroke="#333333" stroke-width="0.8"/>
<text font-size="7.7" text-anchor="end" fill="#262626" transform="matrix(1 0 0 1.08 16 379.7)">17.5</text>
<line x1="16.8" y1="406.4" x2="19.4" y2="406.4" stroke="#333333" stroke-width="0.8"/>
<text font-size="7.7" text-anchor="end" fill="#262626" transform="matrix(1 0 0 1.08 16 409.1)">15.0</text>
<line x1="16.8" y1="436" x2="19.4" y2="436" stroke="#333333" stroke-width="0.8"/>
<text font-size="7.7" text-anchor="end" fill="#262626" transform="matrix(1 0 0 1.08 16 438.7)">12.5</text>
<line x1="16.8" y1="465.6" x2="19.4" y2="465.6" stroke="#333333" stroke-width="0.8"/>
<text font-size="7.7" text-anchor="end" fill="#262626" transform="matrix(1 0 0 1.08 16 468.3)">10.0</text>
<line x1="49" y1="471.3" x2="49" y2="473.8" stroke="#333333" stroke-width="0.8"/>
<text font-size="8.1" text-anchor="middle" fill="#141414" transform="matrix(1 0 0 1.08 52 480.4)">Low-risk</text>
<line x1="98" y1="471.3" x2="98" y2="473.8" stroke="#333333" stroke-width="0.8"/>
<text font-size="8.1" text-anchor="middle" fill="#141414" transform="matrix(1 0 0 1.08 100.6 480.4)">High-risk</text>
<text x="132.4" y="346.4" font-size="26.5" text-anchor="start" fill="#000">F</text>
<text font-size="11.8" text-anchor="middle" fill="#000" transform="matrix(1 0 0 1.08 209.4 346.9)">PD-1</text>
<line x1="179.3" y1="369.2" x2="179.3" y2="411.4" stroke="#222" stroke-width="1.15"/>
<line x1="179.3" y1="439.4" x2="179.3" y2="466" stroke="#222" stroke-width="1.15"/>
<line x1="174.7" y1="369.2" x2="183.9" y2="369.2" stroke="#222" stroke-width="1.15"/>
<line x1="174.7" y1="466" x2="183.9" y2="466" stroke="#222" stroke-width="1.15"/>
<rect x="165" y="411.4" width="28.6" height="28" fill="#C8D62F" stroke="#3a3a3a" stroke-width="0.8"/>
<line x1="165" y1="426" x2="193.6" y2="426" stroke="#2b2b2b" stroke-width="1.5"/>
<line x1="227.1" y1="369.2" x2="227.1" y2="409.4" stroke="#222" stroke-width="1.15"/>
<line x1="227.1" y1="436.4" x2="227.1" y2="466" stroke="#222" stroke-width="1.15"/>
<line x1="222.5" y1="369.2" x2="231.7" y2="369.2" stroke="#222" stroke-width="1.15"/>
<line x1="222.5" y1="466" x2="231.7" y2="466" stroke="#222" stroke-width="1.15"/>
<rect x="212.7" y="409.4" width="28.8" height="27" fill="#E8912B" stroke="#3a3a3a" stroke-width="0.8"/>
<line x1="212.7" y1="423" x2="241.5" y2="423" stroke="#2b2b2b" stroke-width="1.5"/>
<rect x="150.5" y="354.4" width="105.2" height="116.7" fill="none" stroke="#222" stroke-width="1.2"/>
<text font-size="7.5" text-anchor="middle" fill="#141414" transform="matrix(1 0 0 1.08 199.5 362.3)">Wilcoxon, p = 4.2e−06</text>
<line x1="147.9" y1="364" x2="150.5" y2="364" stroke="#333333" stroke-width="0.8"/>
<text font-size="7.7" text-anchor="end" fill="#262626" transform="matrix(1 0 0 1.08 148.3 366.7)">20.0</text>
<line x1="147.9" y1="389" x2="150.5" y2="389" stroke="#333333" stroke-width="0.8"/>
<text font-size="7.7" text-anchor="end" fill="#262626" transform="matrix(1 0 0 1.08 148.3 391.7)">17.5</text>
<line x1="147.9" y1="414.4" x2="150.5" y2="414.4" stroke="#333333" stroke-width="0.8"/>
<text font-size="7.7" text-anchor="end" fill="#262626" transform="matrix(1 0 0 1.08 148.3 417.1)">15.0</text>
<line x1="147.9" y1="439.6" x2="150.5" y2="439.6" stroke="#333333" stroke-width="0.8"/>
<text font-size="7.7" text-anchor="end" fill="#262626" transform="matrix(1 0 0 1.08 148.3 442.3)">12.5</text>
<line x1="147.9" y1="465.6" x2="150.5" y2="465.6" stroke="#333333" stroke-width="0.8"/>
<text font-size="7.7" text-anchor="end" fill="#262626" transform="matrix(1 0 0 1.08 148.3 468.3)">10.0</text>
<line x1="179.3" y1="471.1" x2="179.3" y2="473.6" stroke="#333333" stroke-width="0.8"/>
<text font-size="8.1" text-anchor="middle" fill="#141414" transform="matrix(1 0 0 1.08 177.8 480.4)">Low-risk</text>
<line x1="227.1" y1="471.1" x2="227.1" y2="473.6" stroke="#333333" stroke-width="0.8"/>
<text font-size="8.1" text-anchor="middle" fill="#141414" transform="matrix(1 0 0 1.08 229.8 480.4)">High-risk</text>
<text x="257.2" y="346.4" font-size="26.5" text-anchor="start" fill="#000">G</text>
<text font-size="11.8" text-anchor="middle" fill="#000" transform="matrix(1 0 0 1.08 336.9 346.9)">CTLA−4</text>
<line x1="309.3" y1="373.6" x2="309.3" y2="413.4" stroke="#222" stroke-width="1.15"/>
<line x1="309.3" y1="442.4" x2="309.3" y2="464.6" stroke="#222" stroke-width="1.15"/>
<line x1="304.7" y1="373.6" x2="313.9" y2="373.6" stroke="#222" stroke-width="1.15"/>
<line x1="304.7" y1="464.6" x2="313.9" y2="464.6" stroke="#222" stroke-width="1.15"/>
<rect x="295" y="413.4" width="28.6" height="29" fill="#C8D62F" stroke="#3a3a3a" stroke-width="0.8"/>
<line x1="295" y1="427.4" x2="323.6" y2="427.4" stroke="#2b2b2b" stroke-width="1.5"/>
<line x1="357.6" y1="364.6" x2="357.6" y2="404.6" stroke="#222" stroke-width="1.15"/>
<line x1="357.6" y1="433.4" x2="357.6" y2="464.6" stroke="#222" stroke-width="1.15"/>
<line x1="353" y1="364.6" x2="362.2" y2="364.6" stroke="#222" stroke-width="1.15"/>
<line x1="353" y1="464.6" x2="362.2" y2="464.6" stroke="#222" stroke-width="1.15"/>
<rect x="343.1" y="404.6" width="29" height="28.8" fill="#E8912B" stroke="#3a3a3a" stroke-width="0.8"/>
<line x1="343.1" y1="418.4" x2="372.1" y2="418.4" stroke="#2b2b2b" stroke-width="1.5"/>
<rect x="280.6" y="353.3" width="106" height="116.2" fill="none" stroke="#222" stroke-width="1.2"/>
<text font-size="7.5" text-anchor="middle" fill="#141414" transform="matrix(1 0 0 1.08 328.9 362.8)">Wilcoxon, p &lt; 2.2e−16</text>
<line x1="278" y1="381" x2="280.6" y2="381" stroke="#333333" stroke-width="0.8"/>
<text font-size="7.7" text-anchor="end" fill="#262626" transform="matrix(1 0 0 1.08 277.2 383.7)">17.5</text>
<line x1="278" y1="409" x2="280.6" y2="409" stroke="#333333" stroke-width="0.8"/>
<text font-size="7.7" text-anchor="end" fill="#262626" transform="matrix(1 0 0 1.08 277.2 411.7)">15.0</text>
<line x1="278" y1="436.4" x2="280.6" y2="436.4" stroke="#333333" stroke-width="0.8"/>
<text font-size="7.7" text-anchor="end" fill="#262626" transform="matrix(1 0 0 1.08 277.2 439.1)">12.5</text>
<line x1="278" y1="464.4" x2="280.6" y2="464.4" stroke="#333333" stroke-width="0.8"/>
<text font-size="7.7" text-anchor="end" fill="#262626" transform="matrix(1 0 0 1.08 277.2 467.1)">10.0</text>
<line x1="309.3" y1="469.5" x2="309.3" y2="472" stroke="#333333" stroke-width="0.8"/>
<text font-size="8.1" text-anchor="middle" fill="#141414" transform="matrix(1 0 0 1.08 313.8 480.4)">Low-risk</text>
<line x1="357.6" y1="469.5" x2="357.6" y2="472" stroke="#333333" stroke-width="0.8"/>
<text font-size="8.1" text-anchor="middle" fill="#141414" transform="matrix(1 0 0 1.08 359.7 480.4)">High-risk</text>
<text x="374" y="346.3" font-size="26.5" text-anchor="start" fill="#000">H</text>
<rect x="416" y="349" width="49.6" height="7.82" fill="#E8912B" stroke="none" stroke-width="1"/>
<rect x="416" y="356.02" width="49.6" height="118.38" fill="#5689C4" stroke="none" stroke-width="1"/>
<text font-size="7.3" text-anchor="middle" fill="#141414" transform="matrix(1 0 0 1.08 440.8 356.2)">DCB</text>
<text font-size="7.3" text-anchor="middle" fill="#141414" transform="matrix(1 0 0 1.08 440.8 419.3)">NDB</text>
<line x1="440.8" y1="480.4" x2="440.8" y2="482.9" stroke="#333333" stroke-width="0.8"/>
<text font-size="7.4" text-anchor="middle" fill="#141414" transform="matrix(1 0 0 1.08 440.8 489.2)">Low Group</text>
<rect x="471" y="349" width="50" height="31.15" fill="#E8912B" stroke="none" stroke-width="1"/>
<rect x="471" y="379.35" width="50" height="95.05" fill="#5689C4" stroke="none" stroke-width="1"/>
<text font-size="7.3" text-anchor="middle" fill="#141414" transform="matrix(1 0 0 1.08 496 366.7)">DCB</text>
<text font-size="7.3" text-anchor="middle" fill="#141414" transform="matrix(1 0 0 1.08 496 427.5)">NDB</text>
<line x1="496" y1="480.4" x2="496" y2="482.9" stroke="#333333" stroke-width="0.8"/>
<text font-size="7.4" text-anchor="middle" fill="#141414" transform="matrix(1 0 0 1.08 496 489.2)">High Group</text>
<text font-size="8.33" text-anchor="middle" fill="#141414" transform="matrix(1 0 0 1.08 466.8 398.1)">Fisher’s exact test p=0.005</text>
<rect x="407.6" y="342.6" width="121.8" height="137.8" fill="none" stroke="#333333" stroke-width="1"/>
<line x1="405" y1="474.4" x2="407.6" y2="474.4" stroke="#333333" stroke-width="0.8"/>
<text font-size="7.5" text-anchor="end" fill="#262626" transform="matrix(1 0 0 1.08 404.2 476.9)">0.00</text>
<line x1="405" y1="443.05" x2="407.6" y2="443.05" stroke="#333333" stroke-width="0.8"/>
<text font-size="7.5" text-anchor="end" fill="#262626" transform="matrix(1 0 0 1.08 404.2 445.55)">0.25</text>
<line x1="405" y1="411.7" x2="407.6" y2="411.7" stroke="#333333" stroke-width="0.8"/>
<text font-size="7.5" text-anchor="end" fill="#262626" transform="matrix(1 0 0 1.08 404.2 414.2)">0.50</text>
<line x1="405" y1="380.35" x2="407.6" y2="380.35" stroke="#333333" stroke-width="0.8"/>
<text font-size="7.5" text-anchor="end" fill="#262626" transform="matrix(1 0 0 1.08 404.2 382.85)">0.75</text>
<line x1="405" y1="349" x2="407.6" y2="349" stroke="#333333" stroke-width="0.8"/>
<text font-size="7.5" text-anchor="end" fill="#262626" transform="matrix(1 0 0 1.08 404.2 351.5)">1.00</text>
<text font-size="12.3" text-anchor="middle" fill="#000" transform="matrix(1 0 0 1.08 543 334)">Training cohort</text>
<rect x="556.5" y="342.6" width="124.7" height="96.7" fill="#fff" stroke="none" stroke-width="1"/>
<line x1="571.32" y1="342.6" x2="571.32" y2="439.3" stroke="#F2F2F2" stroke-width="0.5"/>
<line x1="590.56" y1="342.6" x2="590.56" y2="439.3" stroke="#F2F2F2" stroke-width="0.5"/>
<line x1="609.8" y1="342.6" x2="609.8" y2="439.3" stroke="#F2F2F2" stroke-width="0.5"/>
<line x1="629.04" y1="342.6" x2="629.04" y2="439.3" stroke="#F2F2F2" stroke-width="0.5"/>
<line x1="648.28" y1="342.6" x2="648.28" y2="439.3" stroke="#F2F2F2" stroke-width="0.5"/>
<line x1="667.52" y1="342.6" x2="667.52" y2="439.3" stroke="#F2F2F2" stroke-width="0.5"/>
<line x1="556.5" y1="423.32" x2="681.2" y2="423.32" stroke="#F2F2F2" stroke-width="0.5"/>
<line x1="556.5" y1="401.38" x2="681.2" y2="401.38" stroke="#F2F2F2" stroke-width="0.5"/>
<line x1="556.5" y1="379.43" x2="681.2" y2="379.43" stroke="#F2F2F2" stroke-width="0.5"/>
<line x1="556.5" y1="357.48" x2="681.2" y2="357.48" stroke="#F2F2F2" stroke-width="0.5"/>
<line x1="561.7" y1="342.6" x2="561.7" y2="439.3" stroke="#EBEBEB" stroke-width="0.6"/>
<line x1="580.94" y1="342.6" x2="580.94" y2="439.3" stroke="#EBEBEB" stroke-width="0.6"/>
<line x1="600.18" y1="342.6" x2="600.18" y2="439.3" stroke="#EBEBEB" stroke-width="0.6"/>
<line x1="619.42" y1="342.6" x2="619.42" y2="439.3" stroke="#EBEBEB" stroke-width="0.6"/>
<line x1="638.66" y1="342.6" x2="638.66" y2="439.3" stroke="#EBEBEB" stroke-width="0.6"/>
<line x1="657.9" y1="342.6" x2="657.9" y2="439.3" stroke="#EBEBEB" stroke-width="0.6"/>
<line x1="677.14" y1="342.6" x2="677.14" y2="439.3" stroke="#EBEBEB" stroke-width="0.6"/>
<line x1="556.5" y1="434.3" x2="681.2" y2="434.3" stroke="#EBEBEB" stroke-width="0.6"/>
<line x1="556.5" y1="412.35" x2="681.2" y2="412.35" stroke="#EBEBEB" stroke-width="0.6"/>
<line x1="556.5" y1="390.4" x2="681.2" y2="390.4" stroke="#EBEBEB" stroke-width="0.6"/>
<line x1="556.5" y1="368.45" x2="681.2" y2="368.45" stroke="#EBEBEB" stroke-width="0.6"/>
<line x1="556.5" y1="346.5" x2="681.2" y2="346.5" stroke="#EBEBEB" stroke-width="0.6"/>
<line x1="590.75" y1="390.4" x2="590.75" y2="434.3" stroke="#333" stroke-width="0.75" stroke-dasharray="1.1,1.3"/>
<line x1="594.41" y1="390.4" x2="594.41" y2="434.3" stroke="#333" stroke-width="0.75" stroke-dasharray="1.1,1.3"/>
<line x1="561.7" y1="390.4" x2="594.41" y2="390.4" stroke="#333" stroke-width="0.75" stroke-dasharray="1.1,1.3"/>
<path d="M561.7 346.5 H563.62 V348.26 H565.55 V350.89 H567.47 V353.52 H569.4 V356.16 H571.32 V358.79 H573.24 V361.43 H575.17 V364.94 H577.09 V367.57 H579.02 V370.21 H580.94 V373.72 H582.86 V376.35 H584.79 V378.99 H586.71 V381.62 H588.64 V385.13 H590.56 V387.77 H592.48 V390.4 H594.41 V392.16 H596.33 V393.91 H600.18 V396.55 H604.03 V399.18 H607.88 V400.94 H611.72 V401.81 H615.57 V402.69 H619.42 V403.57 H625.19 V404.45 H629.04 V405.33 H632.89 V406.2 H671.37 V406.2" fill="none" stroke="#E8952F" stroke-width="1.1" stroke-dasharray="2.6,1.6"/>
<path d="M561.7 346.5 H564.59 V349.13 H567.47 V350.89 H569.4 V353.52 H571.32 V357.91 H573.24 V362.3 H577.09 V364.94 H579.02 V369.33 H582.86 V372.84 H584.79 V376.35 H586.71 V378.99 H588.64 V381.62 H590.56 V386.01 H594.41 V390.4 H596.33 V394.79 H600.18 V397.42 H604.03 V399.18 H607.88 V401.81 H609.8 V409.72 H650.2 V415.86 H671.37 V415.86" fill="none" stroke="#4C86C6" stroke-width="1.1"/>
<line x1="564.25" y1="350.89" x2="566.85" y2="350.89" stroke="#E8952F" stroke-width="0.7"/>
<line x1="565.55" y1="349.59" x2="565.55" y2="352.19" stroke="#E8952F" stroke-width="0.7"/>
<line x1="566.75" y1="353.52" x2="569.35" y2="353.52" stroke="#E8952F" stroke-width="0.7"/>
<line x1="568.05" y1="352.22" x2="568.05" y2="354.82" stroke="#E8952F" stroke-width="0.7"/>
<line x1="569.25" y1="356.16" x2="571.85" y2="356.16" stroke="#E8952F" stroke-width="0.7"/>
<line x1="570.55" y1="354.86" x2="570.55" y2="357.46" stroke="#E8952F" stroke-width="0.7"/>
<line x1="571.75" y1="358.79" x2="574.35" y2="358.79" stroke="#E8952F" stroke-width="0.7"/>
<line x1="573.05" y1="357.49" x2="573.05" y2="360.09" stroke="#E8952F" stroke-width="0.7"/>
<line x1="574.25" y1="364.94" x2="576.85" y2="364.94" stroke="#E8952F" stroke-width="0.7"/>
<line x1="575.55" y1="363.64" x2="575.55" y2="366.24" stroke="#E8952F" stroke-width="0.7"/>
<line x1="576.75" y1="367.57" x2="579.35" y2="367.57" stroke="#E8952F" stroke-width="0.7"/>
<line x1="578.05" y1="366.27" x2="578.05" y2="368.87" stroke="#E8952F" stroke-width="0.7"/>
<line x1="579.26" y1="370.21" x2="581.86" y2="370.21" stroke="#E8952F" stroke-width="0.7"/>
<line x1="580.56" y1="368.91" x2="580.56" y2="371.51" stroke="#E8952F" stroke-width="0.7"/>
<line x1="581.76" y1="376.35" x2="584.36" y2="376.35" stroke="#E8952F" stroke-width="0.7"/>
<line x1="583.06" y1="375.05" x2="583.06" y2="377.65" stroke="#E8952F" stroke-width="0.7"/>
<line x1="584.26" y1="378.99" x2="586.86" y2="378.99" stroke="#E8952F" stroke-width="0.7"/>
<line x1="585.56" y1="377.69" x2="585.56" y2="380.29" stroke="#E8952F" stroke-width="0.7"/>
<line x1="586.76" y1="381.62" x2="589.36" y2="381.62" stroke="#E8952F" stroke-width="0.7"/>
<line x1="588.06" y1="380.32" x2="588.06" y2="382.92" stroke="#E8952F" stroke-width="0.7"/>
<line x1="589.26" y1="387.77" x2="591.86" y2="387.77" stroke="#E8952F" stroke-width="0.7"/>
<line x1="590.56" y1="386.47" x2="590.56" y2="389.07" stroke="#E8952F" stroke-width="0.7"/>
<line x1="591.76" y1="390.4" x2="594.36" y2="390.4" stroke="#E8952F" stroke-width="0.7"/>
<line x1="593.06" y1="389.1" x2="593.06" y2="391.7" stroke="#E8952F" stroke-width="0.7"/>
<line x1="594.26" y1="392.16" x2="596.86" y2="392.16" stroke="#E8952F" stroke-width="0.7"/>
<line x1="595.56" y1="390.86" x2="595.56" y2="393.46" stroke="#E8952F" stroke-width="0.7"/>
<line x1="596.76" y1="393.91" x2="599.36" y2="393.91" stroke="#E8952F" stroke-width="0.7"/>
<line x1="598.06" y1="392.61" x2="598.06" y2="395.21" stroke="#E8952F" stroke-width="0.7"/>
<line x1="599.26" y1="396.55" x2="601.86" y2="396.55" stroke="#E8952F" stroke-width="0.7"/>
<line x1="600.56" y1="395.25" x2="600.56" y2="397.85" stroke="#E8952F" stroke-width="0.7"/>
<line x1="601.77" y1="396.55" x2="604.37" y2="396.55" stroke="#E8952F" stroke-width="0.7"/>
<line x1="603.07" y1="395.25" x2="603.07" y2="397.85" stroke="#E8952F" stroke-width="0.7"/>
<line x1="604.27" y1="399.18" x2="606.87" y2="399.18" stroke="#E8952F" stroke-width="0.7"/>
<line x1="605.57" y1="397.88" x2="605.57" y2="400.48" stroke="#E8952F" stroke-width="0.7"/>
<line x1="606.77" y1="400.94" x2="609.37" y2="400.94" stroke="#E8952F" stroke-width="0.7"/>
<line x1="608.07" y1="399.64" x2="608.07" y2="402.24" stroke="#E8952F" stroke-width="0.7"/>
<line x1="609.27" y1="400.94" x2="611.87" y2="400.94" stroke="#E8952F" stroke-width="0.7"/>
<line x1="610.57" y1="399.64" x2="610.57" y2="402.24" stroke="#E8952F" stroke-width="0.7"/>
<line x1="611.77" y1="401.81" x2="614.37" y2="401.81" stroke="#E8952F" stroke-width="0.7"/>
<line x1="613.07" y1="400.51" x2="613.07" y2="403.11" stroke="#E8952F" stroke-width="0.7"/>
<line x1="614.27" y1="402.69" x2="616.87" y2="402.69" stroke="#E8952F" stroke-width="0.7"/>
<line x1="615.57" y1="401.39" x2="615.57" y2="403.99" stroke="#E8952F" stroke-width="0.7"/>
<line x1="616.77" y1="402.69" x2="619.37" y2="402.69" stroke="#E8952F" stroke-width="0.7"/>
<line x1="618.07" y1="401.39" x2="618.07" y2="403.99" stroke="#E8952F" stroke-width="0.7"/>
<line x1="619.27" y1="403.57" x2="621.87" y2="403.57" stroke="#E8952F" stroke-width="0.7"/>
<line x1="620.57" y1="402.27" x2="620.57" y2="404.87" stroke="#E8952F" stroke-width="0.7"/>
<line x1="621.78" y1="403.57" x2="624.38" y2="403.57" stroke="#E8952F" stroke-width="0.7"/>
<line x1="623.08" y1="402.27" x2="623.08" y2="404.87" stroke="#E8952F" stroke-width="0.7"/>
<line x1="624.28" y1="404.45" x2="626.88" y2="404.45" stroke="#E8952F" stroke-width="0.7"/>
<line x1="625.58" y1="403.15" x2="625.58" y2="405.75" stroke="#E8952F" stroke-width="0.7"/>
<line x1="626.78" y1="404.45" x2="629.38" y2="404.45" stroke="#E8952F" stroke-width="0.7"/>
<line x1="628.08" y1="403.15" x2="628.08" y2="405.75" stroke="#E8952F" stroke-width="0.7"/>
<line x1="629.28" y1="405.33" x2="631.88" y2="405.33" stroke="#E8952F" stroke-width="0.7"/>
<line x1="630.58" y1="404.03" x2="630.58" y2="406.63" stroke="#E8952F" stroke-width="0.7"/>
<line x1="631.78" y1="406.2" x2="634.38" y2="406.2" stroke="#E8952F" stroke-width="0.7"/>
<line x1="633.08" y1="404.9" x2="633.08" y2="407.5" stroke="#E8952F" stroke-width="0.7"/>
<line x1="634.28" y1="406.2" x2="636.88" y2="406.2" stroke="#E8952F" stroke-width="0.7"/>
<line x1="635.58" y1="404.9" x2="635.58" y2="407.5" stroke="#E8952F" stroke-width="0.7"/>
<line x1="636.78" y1="406.2" x2="639.38" y2="406.2" stroke="#E8952F" stroke-width="0.7"/>
<line x1="638.08" y1="404.9" x2="638.08" y2="407.5" stroke="#E8952F" stroke-width="0.7"/>
<line x1="639.28" y1="406.2" x2="641.88" y2="406.2" stroke="#E8952F" stroke-width="0.7"/>
<line x1="640.58" y1="404.9" x2="640.58" y2="407.5" stroke="#E8952F" stroke-width="0.7"/>
<line x1="641.79" y1="406.2" x2="644.39" y2="406.2" stroke="#E8952F" stroke-width="0.7"/>
<line x1="643.09" y1="404.9" x2="643.09" y2="407.5" stroke="#E8952F" stroke-width="0.7"/>
<line x1="644.29" y1="406.2" x2="646.89" y2="406.2" stroke="#E8952F" stroke-width="0.7"/>
<line x1="645.59" y1="404.9" x2="645.59" y2="407.5" stroke="#E8952F" stroke-width="0.7"/>
<line x1="646.79" y1="406.2" x2="649.39" y2="406.2" stroke="#E8952F" stroke-width="0.7"/>
<line x1="648.09" y1="404.9" x2="648.09" y2="407.5" stroke="#E8952F" stroke-width="0.7"/>
<line x1="649.29" y1="406.2" x2="651.89" y2="406.2" stroke="#E8952F" stroke-width="0.7"/>
<line x1="650.59" y1="404.9" x2="650.59" y2="407.5" stroke="#E8952F" stroke-width="0.7"/>
<line x1="651.79" y1="406.2" x2="654.39" y2="406.2" stroke="#E8952F" stroke-width="0.7"/>
<line x1="653.09" y1="404.9" x2="653.09" y2="407.5" stroke="#E8952F" stroke-width="0.7"/>
<line x1="654.29" y1="406.2" x2="656.89" y2="406.2" stroke="#E8952F" stroke-width="0.7"/>
<line x1="655.59" y1="404.9" x2="655.59" y2="407.5" stroke="#E8952F" stroke-width="0.7"/>
<line x1="656.79" y1="406.2" x2="659.39" y2="406.2" stroke="#E8952F" stroke-width="0.7"/>
<line x1="658.09" y1="404.9" x2="658.09" y2="407.5" stroke="#E8952F" stroke-width="0.7"/>
<line x1="659.29" y1="406.2" x2="661.89" y2="406.2" stroke="#E8952F" stroke-width="0.7"/>
<line x1="660.59" y1="404.9" x2="660.59" y2="407.5" stroke="#E8952F" stroke-width="0.7"/>
<line x1="661.79" y1="406.2" x2="664.39" y2="406.2" stroke="#E8952F" stroke-width="0.7"/>
<line x1="663.09" y1="404.9" x2="663.09" y2="407.5" stroke="#E8952F" stroke-width="0.7"/>
<line x1="664.3" y1="406.2" x2="666.9" y2="406.2" stroke="#E8952F" stroke-width="0.7"/>
<line x1="665.6" y1="404.9" x2="665.6" y2="407.5" stroke="#E8952F" stroke-width="0.7"/>
<line x1="666.8" y1="406.2" x2="669.4" y2="406.2" stroke="#E8952F" stroke-width="0.7"/>
<line x1="668.1" y1="404.9" x2="668.1" y2="407.5" stroke="#E8952F" stroke-width="0.7"/>
<line x1="669.3" y1="406.2" x2="671.9" y2="406.2" stroke="#E8952F" stroke-width="0.7"/>
<line x1="670.6" y1="404.9" x2="670.6" y2="407.5" stroke="#E8952F" stroke-width="0.7"/>
<line x1="616.2" y1="409.72" x2="618.8" y2="409.72" stroke="#4C86C6" stroke-width="0.7"/>
<line x1="617.5" y1="408.42" x2="617.5" y2="411.02" stroke="#4C86C6" stroke-width="0.7"/>
<line x1="627.74" y1="409.72" x2="630.34" y2="409.72" stroke="#4C86C6" stroke-width="0.7"/>
<line x1="629.04" y1="408.42" x2="629.04" y2="411.02" stroke="#4C86C6" stroke-width="0.7"/>
<line x1="652.75" y1="415.86" x2="655.35" y2="415.86" stroke="#4C86C6" stroke-width="0.7"/>
<line x1="654.05" y1="414.56" x2="654.05" y2="417.16" stroke="#4C86C6" stroke-width="0.7"/>
<line x1="670.07" y1="415.86" x2="672.67" y2="415.86" stroke="#4C86C6" stroke-width="0.7"/>
<line x1="671.37" y1="414.56" x2="671.37" y2="417.16" stroke="#4C86C6" stroke-width="0.7"/>
<text font-size="7.8" text-anchor="start" fill="#141414" transform="matrix(1 0 0 1.08 564.5 419.1)">p = 0.91</text>
<rect x="556.5" y="342.6" width="124.7" height="96.7" fill="none" stroke="#333333" stroke-width="0.9"/>
<line x1="554.5" y1="434.3" x2="556.5" y2="434.3" stroke="#333333" stroke-width="0.7"/>
<text font-size="5.2" text-anchor="end" fill="#262626" transform="matrix(1 0 0 1.08 554.1 436.15)">0.00</text>
<line x1="554.5" y1="412.35" x2="556.5" y2="412.35" stroke="#333333" stroke-width="0.7"/>
<text font-size="5.2" text-anchor="end" fill="#262626" transform="matrix(1 0 0 1.08 554.1 414.2)">0.25</text>
<line x1="554.5" y1="390.4" x2="556.5" y2="390.4" stroke="#333333" stroke-width="0.7"/>
<text font-size="5.2" text-anchor="end" fill="#262626" transform="matrix(1 0 0 1.08 554.1 392.25)">0.50</text>
<line x1="554.5" y1="368.45" x2="556.5" y2="368.45" stroke="#333333" stroke-width="0.7"/>
<text font-size="5.2" text-anchor="end" fill="#262626" transform="matrix(1 0 0 1.08 554.1 370.3)">0.75</text>
<line x1="554.5" y1="346.5" x2="556.5" y2="346.5" stroke="#333333" stroke-width="0.7"/>
<text font-size="5.2" text-anchor="end" fill="#262626" transform="matrix(1 0 0 1.08 554.1 348.35)">1.00</text>
<line x1="561.7" y1="439.3" x2="561.7" y2="441.3" stroke="#333333" stroke-width="0.7"/>
<text font-size="5.1" text-anchor="middle" fill="#262626" transform="matrix(1 0 0 1.08 561.7 445)">0</text>
<line x1="580.94" y1="439.3" x2="580.94" y2="441.3" stroke="#333333" stroke-width="0.7"/>
<text font-size="5.1" text-anchor="middle" fill="#262626" transform="matrix(1 0 0 1.08 580.94 445)">10</text>
<line x1="600.18" y1="439.3" x2="600.18" y2="441.3" stroke="#333333" stroke-width="0.7"/>
<text font-size="5.1" text-anchor="middle" fill="#262626" transform="matrix(1 0 0 1.08 600.18 445)">20</text>
<line x1="619.42" y1="439.3" x2="619.42" y2="441.3" stroke="#333333" stroke-width="0.7"/>
<text font-size="5.1" text-anchor="middle" fill="#262626" transform="matrix(1 0 0 1.08 619.42 445)">30</text>
<line x1="638.66" y1="439.3" x2="638.66" y2="441.3" stroke="#333333" stroke-width="0.7"/>
<text font-size="5.1" text-anchor="middle" fill="#262626" transform="matrix(1 0 0 1.08 638.66 445)">40</text>
<line x1="657.9" y1="439.3" x2="657.9" y2="441.3" stroke="#333333" stroke-width="0.7"/>
<text font-size="5.1" text-anchor="middle" fill="#262626" transform="matrix(1 0 0 1.08 657.9 445)">50</text>
<line x1="677.14" y1="439.3" x2="677.14" y2="441.3" stroke="#333333" stroke-width="0.7"/>
<text font-size="5.1" text-anchor="middle" fill="#262626" transform="matrix(1 0 0 1.08 677.14 445)">60</text>
<text font-size="7.4" text-anchor="middle" fill="#141414" transform="matrix(1 0 0 1.08 628 452.8)">Month</text>
<text font-size="7.55" text-anchor="middle" fill="#141414" transform="translate(538.6 398.6) rotate(-90) scale(1 1.08)">Survival probability</text>
<text font-size="5.6" text-anchor="start" fill="#141414" transform="matrix(1 0 0 1.08 579.3 338.2)">Strata</text>
<line x1="599.6" y1="336.2" x2="602.6" y2="336.2" stroke="#4C86C6" stroke-width="0.8"/>
<line x1="601.1" y1="334.7" x2="601.1" y2="337.7" stroke="#4C86C6" stroke-width="0.8"/>
<text font-size="5.6" text-anchor="start" fill="#141414" transform="matrix(1 0 0 1.08 607.2 338.2)">Low Group</text>
<line x1="639.3" y1="336.2" x2="642.3" y2="336.2" stroke="#E8952F" stroke-width="0.8"/>
<line x1="640.8" y1="334.7" x2="640.8" y2="337.7" stroke="#E8952F" stroke-width="0.8"/>
<text font-size="5.6" text-anchor="start" fill="#141414" transform="matrix(1 0 0 1.08 647.7 338.2)">High Group</text>
<rect x="564.2" y="462.3" width="119.6" height="20.2" fill="#fff" stroke="none" stroke-width="1"/>
<line x1="578.63" y1="462.3" x2="578.63" y2="482.5" stroke="#F2F2F2" stroke-width="0.5"/>
<line x1="596.71" y1="462.3" x2="596.71" y2="482.5" stroke="#F2F2F2" stroke-width="0.5"/>
<line x1="614.77" y1="462.3" x2="614.77" y2="482.5" stroke="#F2F2F2" stroke-width="0.5"/>
<line x1="632.85" y1="462.3" x2="632.85" y2="482.5" stroke="#F2F2F2" stroke-width="0.5"/>
<line x1="650.91" y1="462.3" x2="650.91" y2="482.5" stroke="#F2F2F2" stroke-width="0.5"/>
<line x1="668.99" y1="462.3" x2="668.99" y2="482.5" stroke="#F2F2F2" stroke-width="0.5"/>
<line x1="569.6" y1="462.3" x2="569.6" y2="482.5" stroke="#EBEBEB" stroke-width="0.6"/>
<line x1="587.67" y1="462.3" x2="587.67" y2="482.5" stroke="#EBEBEB" stroke-width="0.6"/>
<line x1="605.74" y1="462.3" x2="605.74" y2="482.5" stroke="#EBEBEB" stroke-width="0.6"/>
<line x1="623.81" y1="462.3" x2="623.81" y2="482.5" stroke="#EBEBEB" stroke-width="0.6"/>
<line x1="641.88" y1="462.3" x2="641.88" y2="482.5" stroke="#EBEBEB" stroke-width="0.6"/>
<line x1="659.95" y1="462.3" x2="659.95" y2="482.5" stroke="#EBEBEB" stroke-width="0.6"/>
<line x1="678.02" y1="462.3" x2="678.02" y2="482.5" stroke="#EBEBEB" stroke-width="0.6"/>
<line x1="564.2" y1="467.75" x2="683.8" y2="467.75" stroke="#EBEBEB" stroke-width="0.6"/>
<line x1="564.2" y1="477.05" x2="683.8" y2="477.05" stroke="#EBEBEB" stroke-width="0.6"/>
<rect x="564.2" y="462.3" width="119.6" height="20.2" fill="none" stroke="#333333" stroke-width="0.9"/>
<text font-size="6.2" text-anchor="middle" fill="#4C86C6" transform="matrix(1 0 0 1.08 569.6 469.97)">39</text>
<text font-size="6.2" text-anchor="middle" fill="#4C86C6" transform="matrix(1 0 0 1.08 587.67 469.97)">28</text>
<text font-size="6.2" text-anchor="middle" fill="#4C86C6" transform="matrix(1 0 0 1.08 605.74 469.97)">14</text>
<text font-size="6.2" text-anchor="middle" fill="#4C86C6" transform="matrix(1 0 0 1.08 623.81 469.97)">5</text>
<text font-size="6.2" text-anchor="middle" fill="#4C86C6" transform="matrix(1 0 0 1.08 641.88 469.97)">4</text>
<text font-size="6.2" text-anchor="middle" fill="#4C86C6" transform="matrix(1 0 0 1.08 659.95 469.97)">2</text>
<text font-size="6.2" text-anchor="middle" fill="#4C86C6" transform="matrix(1 0 0 1.08 678.02 469.97)">0</text>
<text font-size="6.2" text-anchor="middle" fill="#E8952F" transform="matrix(1 0 0 1.08 569.6 479.27)">208</text>
<text font-size="6.2" text-anchor="middle" fill="#E8952F" transform="matrix(1 0 0 1.08 587.67 479.27)">122</text>
<text font-size="6.2" text-anchor="middle" fill="#E8952F" transform="matrix(1 0 0 1.08 605.74 479.27)">62</text>
<text font-size="6.2" text-anchor="middle" fill="#E8952F" transform="matrix(1 0 0 1.08 623.81 479.27)">25</text>
<text font-size="6.2" text-anchor="middle" fill="#E8952F" transform="matrix(1 0 0 1.08 641.88 479.27)">13</text>
<text font-size="6.2" text-anchor="middle" fill="#E8952F" transform="matrix(1 0 0 1.08 659.95 479.27)">4</text>
<text font-size="6.2" text-anchor="middle" fill="#E8952F" transform="matrix(1 0 0 1.08 678.02 479.27)">0</text>
<line x1="569.6" y1="482.5" x2="569.6" y2="484.5" stroke="#333333" stroke-width="0.7"/>
<text font-size="5" text-anchor="middle" fill="#262626" transform="matrix(1 0 0 1.08 569.6 488.6)">0</text>
<line x1="587.67" y1="482.5" x2="587.67" y2="484.5" stroke="#333333" stroke-width="0.7"/>
<text font-size="5" text-anchor="middle" fill="#262626" transform="matrix(1 0 0 1.08 587.67 488.6)">10</text>
<line x1="605.74" y1="482.5" x2="605.74" y2="484.5" stroke="#333333" stroke-width="0.7"/>
<text font-size="5" text-anchor="middle" fill="#262626" transform="matrix(1 0 0 1.08 605.74 488.6)">20</text>
<line x1="623.81" y1="482.5" x2="623.81" y2="484.5" stroke="#333333" stroke-width="0.7"/>
<text font-size="5" text-anchor="middle" fill="#262626" transform="matrix(1 0 0 1.08 623.81 488.6)">30</text>
<line x1="641.88" y1="482.5" x2="641.88" y2="484.5" stroke="#333333" stroke-width="0.7"/>
<text font-size="5" text-anchor="middle" fill="#262626" transform="matrix(1 0 0 1.08 641.88 488.6)">40</text>
<line x1="659.95" y1="482.5" x2="659.95" y2="484.5" stroke="#333333" stroke-width="0.7"/>
<text font-size="5" text-anchor="middle" fill="#262626" transform="matrix(1 0 0 1.08 659.95 488.6)">50</text>
<line x1="678.02" y1="482.5" x2="678.02" y2="484.5" stroke="#333333" stroke-width="0.7"/>
<text font-size="5" text-anchor="middle" fill="#262626" transform="matrix(1 0 0 1.08 678.02 488.6)">60</text>
<line x1="562.2" y1="467.75" x2="564.2" y2="467.75" stroke="#333333" stroke-width="0.7"/>
<line x1="562.2" y1="477.05" x2="564.2" y2="477.05" stroke="#333333" stroke-width="0.7"/>
<text font-size="4" text-anchor="end" fill="#4C86C6" transform="matrix(1 0 0 1.08 561.8 469.15)">Low Group</text>
<text font-size="4" text-anchor="end" fill="#E8952F" transform="matrix(1 0 0 1.08 561.8 478.45)">High Group</text>
<text font-size="7.55" text-anchor="start" fill="#141414" transform="matrix(1 0 0 1.08 564.7 459.2)">Number at risk</text>
<text font-size="7.4" text-anchor="middle" fill="#141414" transform="matrix(1 0 0 1.08 628.2 497.7)">Month</text>
<text font-size="7.2" text-anchor="middle" fill="#141414" transform="translate(539.4 471.5) rotate(-90) scale(1 1.08)">Strata</text>
<text x="6" y="513.4" font-size="26.5" text-anchor="start" fill="#000">I</text>
<rect x="31.3" y="525.6" width="56.4" height="43.83" fill="#E8912B" stroke="none" stroke-width="1"/>
<rect x="31.3" y="568.63" width="56.4" height="106.37" fill="#5689C4" stroke="none" stroke-width="1"/>
<text font-size="7.3" text-anchor="middle" fill="#141414" transform="matrix(1 0 0 1.08 60.7 549.9)">DCB</text>
<text font-size="7.3" text-anchor="middle" fill="#141414" transform="matrix(1 0 0 1.08 60.7 628)">NDB</text>
<line x1="59.5" y1="682" x2="59.5" y2="684.5" stroke="#333333" stroke-width="0.8"/>
<text font-size="7.4" text-anchor="middle" fill="#141414" transform="matrix(1 0 0 1.08 59.5 691.1)">Low Group</text>
<rect x="94.4" y="525.6" width="56.3" height="62.2" fill="#E8912B" stroke="none" stroke-width="1"/>
<rect x="94.4" y="587" width="56.3" height="88" fill="#5689C4" stroke="none" stroke-width="1"/>
<text font-size="7.3" text-anchor="middle" fill="#141414" transform="matrix(1 0 0 1.08 125.5 559)">DCB</text>
<text font-size="7.3" text-anchor="middle" fill="#141414" transform="matrix(1 0 0 1.08 128.5 633)">NDB</text>
<line x1="122.55" y1="682" x2="122.55" y2="684.5" stroke="#333333" stroke-width="0.8"/>
<text font-size="7.4" text-anchor="middle" fill="#141414" transform="matrix(1 0 0 1.08 122.55 691.1)">High Group</text>
<text font-size="8.54" text-anchor="middle" fill="#141414" transform="matrix(1 0 0 1.08 87 587.1)">Fisher’s exact test p=0.037</text>
<rect x="21.6" y="518" width="139" height="164" fill="none" stroke="#333333" stroke-width="1"/>
<line x1="19" y1="675" x2="21.6" y2="675" stroke="#333333" stroke-width="0.8"/>
<text font-size="7.5" text-anchor="end" fill="#262626" transform="matrix(1 0 0 1.08 18.2 677.5)">0.00</text>
<line x1="19" y1="637.65" x2="21.6" y2="637.65" stroke="#333333" stroke-width="0.8"/>
<text font-size="7.5" text-anchor="end" fill="#262626" transform="matrix(1 0 0 1.08 18.2 640.15)">0.25</text>
<line x1="19" y1="600.3" x2="21.6" y2="600.3" stroke="#333333" stroke-width="0.8"/>
<text font-size="7.5" text-anchor="end" fill="#262626" transform="matrix(1 0 0 1.08 18.2 602.8)">0.50</text>
<line x1="19" y1="562.95" x2="21.6" y2="562.95" stroke="#333333" stroke-width="0.8"/>
<text font-size="7.5" text-anchor="end" fill="#262626" transform="matrix(1 0 0 1.08 18.2 565.45)">0.75</text>
<line x1="19" y1="525.6" x2="21.6" y2="525.6" stroke="#333333" stroke-width="0.8"/>
<text font-size="7.5" text-anchor="end" fill="#262626" transform="matrix(1 0 0 1.08 18.2 528.1)">1.00</text>
<text font-size="12.3" text-anchor="middle" fill="#000" transform="matrix(1 0 0 1.08 174 511)">Testing cohort</text>
<rect x="191.9" y="519.3" width="146.3" height="116.1" fill="#fff" stroke="none" stroke-width="1"/>
<line x1="213.38" y1="519.3" x2="213.38" y2="635.4" stroke="#F2F2F2" stroke-width="0.5"/>
<line x1="247.12" y1="519.3" x2="247.12" y2="635.4" stroke="#F2F2F2" stroke-width="0.5"/>
<line x1="280.88" y1="519.3" x2="280.88" y2="635.4" stroke="#F2F2F2" stroke-width="0.5"/>
<line x1="314.62" y1="519.3" x2="314.62" y2="635.4" stroke="#F2F2F2" stroke-width="0.5"/>
<line x1="191.9" y1="617.43" x2="338.2" y2="617.43" stroke="#F2F2F2" stroke-width="0.5"/>
<line x1="191.9" y1="591.08" x2="338.2" y2="591.08" stroke="#F2F2F2" stroke-width="0.5"/>
<line x1="191.9" y1="564.73" x2="338.2" y2="564.73" stroke="#F2F2F2" stroke-width="0.5"/>
<line x1="191.9" y1="538.38" x2="338.2" y2="538.38" stroke="#F2F2F2" stroke-width="0.5"/>
<line x1="196.5" y1="519.3" x2="196.5" y2="635.4" stroke="#EBEBEB" stroke-width="0.6"/>
<line x1="230.25" y1="519.3" x2="230.25" y2="635.4" stroke="#EBEBEB" stroke-width="0.6"/>
<line x1="264" y1="519.3" x2="264" y2="635.4" stroke="#EBEBEB" stroke-width="0.6"/>
<line x1="297.75" y1="519.3" x2="297.75" y2="635.4" stroke="#EBEBEB" stroke-width="0.6"/>
<line x1="331.5" y1="519.3" x2="331.5" y2="635.4" stroke="#EBEBEB" stroke-width="0.6"/>
<line x1="191.9" y1="630.6" x2="338.2" y2="630.6" stroke="#EBEBEB" stroke-width="0.6"/>
<line x1="191.9" y1="604.25" x2="338.2" y2="604.25" stroke="#EBEBEB" stroke-width="0.6"/>
<line x1="191.9" y1="577.9" x2="338.2" y2="577.9" stroke="#EBEBEB" stroke-width="0.6"/>
<line x1="191.9" y1="551.55" x2="338.2" y2="551.55" stroke="#EBEBEB" stroke-width="0.6"/>
<line x1="191.9" y1="525.2" x2="338.2" y2="525.2" stroke="#EBEBEB" stroke-width="0.6"/>
<line x1="233.62" y1="577.9" x2="233.62" y2="630.6" stroke="#333" stroke-width="0.75" stroke-dasharray="1.1,1.3"/>
<line x1="235.65" y1="577.9" x2="235.65" y2="630.6" stroke="#333" stroke-width="0.75" stroke-dasharray="1.1,1.3"/>
<line x1="196.5" y1="577.9" x2="235.65" y2="577.9" stroke="#333" stroke-width="0.75" stroke-dasharray="1.1,1.3"/>
<path d="M196.5 525.2 H199.88 V528.36 H201.56 V532.58 H203.25 V537.85 H204.94 V543.12 H206.62 V547.33 H208.31 V550.5 H210 V553.66 H213.38 V558.93 H216.75 V564.2 H220.12 V567.36 H223.5 V570.52 H226.88 V572.63 H230.25 V575.79 H233.62 V577.9 H237 V581.06 H240.38 V584.22 H243.75 V586.33 H247.12 V588.44 H252.19 V591.6 H257.25 V593.71 H264 V594.76 H270.75 V595.82 H277.5 V597.93 H280.88 V598.98 H338.25 V598.98" fill="none" stroke="#E8952F" stroke-width="1.1" stroke-dasharray="2.6,1.6"/>
<path d="M196.5 525.2 H198.19 V526.25 H199.88 V529.42 H201.56 V533.63 H203.25 V539.96 H204.94 V546.28 H206.62 V551.55 H208.31 V554.71 H210 V557.87 H211.69 V561.04 H213.38 V564.2 H215.06 V565.25 H216.75 V567.36 H220.12 V570.52 H221.81 V574.74 H223.5 V577.9 H230.25 V578.95 H237 V580.01 H243.75 V582.12 H247.12 V585.28 H253.88 V588.44 H257.25 V591.6 H291 V591.6" fill="none" stroke="#4C86C6" stroke-width="1.1"/>
<line x1="198.57" y1="528.36" x2="201.18" y2="528.36" stroke="#E8952F" stroke-width="0.7"/>
<line x1="199.88" y1="527.06" x2="199.88" y2="529.66" stroke="#E8952F" stroke-width="0.7"/>
<line x1="200.43" y1="532.58" x2="203.03" y2="532.58" stroke="#E8952F" stroke-width="0.7"/>
<line x1="201.73" y1="531.28" x2="201.73" y2="533.88" stroke="#E8952F" stroke-width="0.7"/>
<line x1="202.29" y1="537.85" x2="204.89" y2="537.85" stroke="#E8952F" stroke-width="0.7"/>
<line x1="203.59" y1="536.55" x2="203.59" y2="539.15" stroke="#E8952F" stroke-width="0.7"/>
<line x1="204.14" y1="543.12" x2="206.74" y2="543.12" stroke="#E8952F" stroke-width="0.7"/>
<line x1="205.44" y1="541.82" x2="205.44" y2="544.42" stroke="#E8952F" stroke-width="0.7"/>
<line x1="206" y1="547.33" x2="208.6" y2="547.33" stroke="#E8952F" stroke-width="0.7"/>
<line x1="207.3" y1="546.03" x2="207.3" y2="548.63" stroke="#E8952F" stroke-width="0.7"/>
<line x1="207.86" y1="550.5" x2="210.46" y2="550.5" stroke="#E8952F" stroke-width="0.7"/>
<line x1="209.16" y1="549.2" x2="209.16" y2="551.8" stroke="#E8952F" stroke-width="0.7"/>
<line x1="209.71" y1="553.66" x2="212.31" y2="553.66" stroke="#E8952F" stroke-width="0.7"/>
<line x1="211.01" y1="552.36" x2="211.01" y2="554.96" stroke="#E8952F" stroke-width="0.7"/>
<line x1="211.57" y1="553.66" x2="214.17" y2="553.66" stroke="#E8952F" stroke-width="0.7"/>
<line x1="212.87" y1="552.36" x2="212.87" y2="554.96" stroke="#E8952F" stroke-width="0.7"/>
<line x1="213.42" y1="558.93" x2="216.03" y2="558.93" stroke="#E8952F" stroke-width="0.7"/>
<line x1="214.72" y1="557.63" x2="214.72" y2="560.23" stroke="#E8952F" stroke-width="0.7"/>
<line x1="215.28" y1="558.93" x2="217.88" y2="558.93" stroke="#E8952F" stroke-width="0.7"/>
<line x1="216.58" y1="557.63" x2="216.58" y2="560.23" stroke="#E8952F" stroke-width="0.7"/>
<line x1="217.14" y1="564.2" x2="219.74" y2="564.2" stroke="#E8952F" stroke-width="0.7"/>
<line x1="218.44" y1="562.9" x2="218.44" y2="565.5" stroke="#E8952F" stroke-width="0.7"/>
<line x1="218.99" y1="567.36" x2="221.59" y2="567.36" stroke="#E8952F" stroke-width="0.7"/>
<line x1="220.29" y1="566.06" x2="220.29" y2="568.66" stroke="#E8952F" stroke-width="0.7"/>
<line x1="220.85" y1="567.36" x2="223.45" y2="567.36" stroke="#E8952F" stroke-width="0.7"/>
<line x1="222.15" y1="566.06" x2="222.15" y2="568.66" stroke="#E8952F" stroke-width="0.7"/>
<line x1="222.71" y1="570.52" x2="225.31" y2="570.52" stroke="#E8952F" stroke-width="0.7"/>
<line x1="224.01" y1="569.22" x2="224.01" y2="571.82" stroke="#E8952F" stroke-width="0.7"/>
<line x1="224.56" y1="570.52" x2="227.16" y2="570.52" stroke="#E8952F" stroke-width="0.7"/>
<line x1="225.86" y1="569.22" x2="225.86" y2="571.82" stroke="#E8952F" stroke-width="0.7"/>
<line x1="226.42" y1="572.63" x2="229.02" y2="572.63" stroke="#E8952F" stroke-width="0.7"/>
<line x1="227.72" y1="571.33" x2="227.72" y2="573.93" stroke="#E8952F" stroke-width="0.7"/>
<line x1="228.27" y1="572.63" x2="230.88" y2="572.63" stroke="#E8952F" stroke-width="0.7"/>
<line x1="229.57" y1="571.33" x2="229.57" y2="573.93" stroke="#E8952F" stroke-width="0.7"/>
<line x1="230.13" y1="575.79" x2="232.73" y2="575.79" stroke="#E8952F" stroke-width="0.7"/>
<line x1="231.43" y1="574.49" x2="231.43" y2="577.09" stroke="#E8952F" stroke-width="0.7"/>
<line x1="231.99" y1="575.79" x2="234.59" y2="575.79" stroke="#E8952F" stroke-width="0.7"/>
<line x1="233.29" y1="574.49" x2="233.29" y2="577.09" stroke="#E8952F" stroke-width="0.7"/>
<line x1="233.84" y1="577.9" x2="236.44" y2="577.9" stroke="#E8952F" stroke-width="0.7"/>
<line x1="235.14" y1="576.6" x2="235.14" y2="579.2" stroke="#E8952F" stroke-width="0.7"/>
<line x1="235.7" y1="581.06" x2="238.3" y2="581.06" stroke="#E8952F" stroke-width="0.7"/>
<line x1="237" y1="579.76" x2="237" y2="582.36" stroke="#E8952F" stroke-width="0.7"/>
<line x1="237.56" y1="581.06" x2="240.16" y2="581.06" stroke="#E8952F" stroke-width="0.7"/>
<line x1="238.86" y1="579.76" x2="238.86" y2="582.36" stroke="#E8952F" stroke-width="0.7"/>
<line x1="239.41" y1="584.22" x2="242.01" y2="584.22" stroke="#E8952F" stroke-width="0.7"/>
<line x1="240.71" y1="582.92" x2="240.71" y2="585.52" stroke="#E8952F" stroke-width="0.7"/>
<line x1="241.27" y1="584.22" x2="243.87" y2="584.22" stroke="#E8952F" stroke-width="0.7"/>
<line x1="242.57" y1="582.92" x2="242.57" y2="585.52" stroke="#E8952F" stroke-width="0.7"/>
<line x1="243.12" y1="586.33" x2="245.73" y2="586.33" stroke="#E8952F" stroke-width="0.7"/>
<line x1="244.43" y1="585.03" x2="244.43" y2="587.63" stroke="#E8952F" stroke-width="0.7"/>
<line x1="244.98" y1="586.33" x2="247.58" y2="586.33" stroke="#E8952F" stroke-width="0.7"/>
<line x1="246.28" y1="585.03" x2="246.28" y2="587.63" stroke="#E8952F" stroke-width="0.7"/>
<line x1="246.84" y1="588.44" x2="249.44" y2="588.44" stroke="#E8952F" stroke-width="0.7"/>
<line x1="248.14" y1="587.14" x2="248.14" y2="589.74" stroke="#E8952F" stroke-width="0.7"/>
<line x1="248.69" y1="588.44" x2="251.29" y2="588.44" stroke="#E8952F" stroke-width="0.7"/>
<line x1="249.99" y1="587.14" x2="249.99" y2="589.74" stroke="#E8952F" stroke-width="0.7"/>
<line x1="250.55" y1="588.44" x2="253.15" y2="588.44" stroke="#E8952F" stroke-width="0.7"/>
<line x1="251.85" y1="587.14" x2="251.85" y2="589.74" stroke="#E8952F" stroke-width="0.7"/>
<line x1="252.41" y1="591.6" x2="255.01" y2="591.6" stroke="#E8952F" stroke-width="0.7"/>
<line x1="253.71" y1="590.3" x2="253.71" y2="592.9" stroke="#E8952F" stroke-width="0.7"/>
<line x1="254.26" y1="591.6" x2="256.86" y2="591.6" stroke="#E8952F" stroke-width="0.7"/>
<line x1="255.56" y1="590.3" x2="255.56" y2="592.9" stroke="#E8952F" stroke-width="0.7"/>
<line x1="256.12" y1="593.71" x2="258.72" y2="593.71" stroke="#E8952F" stroke-width="0.7"/>
<line x1="257.42" y1="592.41" x2="257.42" y2="595.01" stroke="#E8952F" stroke-width="0.7"/>
<line x1="257.97" y1="593.71" x2="260.57" y2="593.71" stroke="#E8952F" stroke-width="0.7"/>
<line x1="259.27" y1="592.41" x2="259.27" y2="595.01" stroke="#E8952F" stroke-width="0.7"/>
<line x1="259.83" y1="593.71" x2="262.43" y2="593.71" stroke="#E8952F" stroke-width="0.7"/>
<line x1="261.13" y1="592.41" x2="261.13" y2="595.01" stroke="#E8952F" stroke-width="0.7"/>
<line x1="261.69" y1="593.71" x2="264.29" y2="593.71" stroke="#E8952F" stroke-width="0.7"/>
<line x1="262.99" y1="592.41" x2="262.99" y2="595.01" stroke="#E8952F" stroke-width="0.7"/>
<line x1="263.54" y1="594.76" x2="266.14" y2="594.76" stroke="#E8952F" stroke-width="0.7"/>
<line x1="264.84" y1="593.46" x2="264.84" y2="596.06" stroke="#E8952F" stroke-width="0.7"/>
<line x1="265.4" y1="594.76" x2="268" y2="594.76" stroke="#E8952F" stroke-width="0.7"/>
<line x1="266.7" y1="593.46" x2="266.7" y2="596.06" stroke="#E8952F" stroke-width="0.7"/>
<line x1="267.26" y1="594.76" x2="269.86" y2="594.76" stroke="#E8952F" stroke-width="0.7"/>
<line x1="268.56" y1="593.46" x2="268.56" y2="596.06" stroke="#E8952F" stroke-width="0.7"/>
<line x1="269.11" y1="594.76" x2="271.71" y2="594.76" stroke="#E8952F" stroke-width="0.7"/>
<line x1="270.41" y1="593.46" x2="270.41" y2="596.06" stroke="#E8952F" stroke-width="0.7"/>
<line x1="270.97" y1="595.82" x2="273.57" y2="595.82" stroke="#E8952F" stroke-width="0.7"/>
<line x1="272.27" y1="594.52" x2="272.27" y2="597.12" stroke="#E8952F" stroke-width="0.7"/>
<line x1="272.82" y1="595.82" x2="275.43" y2="595.82" stroke="#E8952F" stroke-width="0.7"/>
<line x1="274.12" y1="594.52" x2="274.12" y2="597.12" stroke="#E8952F" stroke-width="0.7"/>
<line x1="274.68" y1="595.82" x2="277.28" y2="595.82" stroke="#E8952F" stroke-width="0.7"/>
<line x1="275.98" y1="594.52" x2="275.98" y2="597.12" stroke="#E8952F" stroke-width="0.7"/>
<line x1="276.54" y1="597.93" x2="279.14" y2="597.93" stroke="#E8952F" stroke-width="0.7"/>
<line x1="277.84" y1="596.63" x2="277.84" y2="599.23" stroke="#E8952F" stroke-width="0.7"/>
<line x1="278.39" y1="597.93" x2="280.99" y2="597.93" stroke="#E8952F" stroke-width="0.7"/>
<line x1="279.69" y1="596.63" x2="279.69" y2="599.23" stroke="#E8952F" stroke-width="0.7"/>
<line x1="282.95" y1="598.98" x2="285.55" y2="598.98" stroke="#E8952F" stroke-width="0.7"/>
<line x1="284.25" y1="597.68" x2="284.25" y2="600.28" stroke="#E8952F" stroke-width="0.7"/>
<line x1="289.7" y1="598.98" x2="292.3" y2="598.98" stroke="#E8952F" stroke-width="0.7"/>
<line x1="291" y1="597.68" x2="291" y2="600.28" stroke="#E8952F" stroke-width="0.7"/>
<line x1="296.45" y1="598.98" x2="299.05" y2="598.98" stroke="#E8952F" stroke-width="0.7"/>
<line x1="297.75" y1="597.68" x2="297.75" y2="600.28" stroke="#E8952F" stroke-width="0.7"/>
<line x1="303.2" y1="598.98" x2="305.8" y2="598.98" stroke="#E8952F" stroke-width="0.7"/>
<line x1="304.5" y1="597.68" x2="304.5" y2="600.28" stroke="#E8952F" stroke-width="0.7"/>
<line x1="309.95" y1="598.98" x2="312.55" y2="598.98" stroke="#E8952F" stroke-width="0.7"/>
<line x1="311.25" y1="597.68" x2="311.25" y2="600.28" stroke="#E8952F" stroke-width="0.7"/>
<line x1="316.7" y1="598.98" x2="319.3" y2="598.98" stroke="#E8952F" stroke-width="0.7"/>
<line x1="318" y1="597.68" x2="318" y2="600.28" stroke="#E8952F" stroke-width="0.7"/>
<line x1="323.45" y1="598.98" x2="326.05" y2="598.98" stroke="#E8952F" stroke-width="0.7"/>
<line x1="324.75" y1="597.68" x2="324.75" y2="600.28" stroke="#E8952F" stroke-width="0.7"/>
<line x1="330.2" y1="598.98" x2="332.8" y2="598.98" stroke="#E8952F" stroke-width="0.7"/>
<line x1="331.5" y1="597.68" x2="331.5" y2="600.28" stroke="#E8952F" stroke-width="0.7"/>
<line x1="336.95" y1="598.98" x2="339.55" y2="598.98" stroke="#E8952F" stroke-width="0.7"/>
<line x1="338.25" y1="597.68" x2="338.25" y2="600.28" stroke="#E8952F" stroke-width="0.7"/>
<line x1="200.26" y1="533.63" x2="202.86" y2="533.63" stroke="#4C86C6" stroke-width="0.7"/>
<line x1="201.56" y1="532.33" x2="201.56" y2="534.93" stroke="#4C86C6" stroke-width="0.7"/>
<line x1="203.64" y1="546.28" x2="206.24" y2="546.28" stroke="#4C86C6" stroke-width="0.7"/>
<line x1="204.94" y1="544.98" x2="204.94" y2="547.58" stroke="#4C86C6" stroke-width="0.7"/>
<line x1="207.01" y1="554.71" x2="209.61" y2="554.71" stroke="#4C86C6" stroke-width="0.7"/>
<line x1="208.31" y1="553.41" x2="208.31" y2="556.01" stroke="#4C86C6" stroke-width="0.7"/>
<line x1="210.39" y1="561.04" x2="212.99" y2="561.04" stroke="#4C86C6" stroke-width="0.7"/>
<line x1="211.69" y1="559.74" x2="211.69" y2="562.34" stroke="#4C86C6" stroke-width="0.7"/>
<line x1="213.76" y1="565.25" x2="216.36" y2="565.25" stroke="#4C86C6" stroke-width="0.7"/>
<line x1="215.06" y1="563.95" x2="215.06" y2="566.55" stroke="#4C86C6" stroke-width="0.7"/>
<line x1="217.14" y1="567.36" x2="219.74" y2="567.36" stroke="#4C86C6" stroke-width="0.7"/>
<line x1="218.44" y1="566.06" x2="218.44" y2="568.66" stroke="#4C86C6" stroke-width="0.7"/>
<line x1="223.89" y1="577.9" x2="226.49" y2="577.9" stroke="#4C86C6" stroke-width="0.7"/>
<line x1="225.19" y1="576.6" x2="225.19" y2="579.2" stroke="#4C86C6" stroke-width="0.7"/>
<line x1="227.26" y1="577.9" x2="229.86" y2="577.9" stroke="#4C86C6" stroke-width="0.7"/>
<line x1="228.56" y1="576.6" x2="228.56" y2="579.2" stroke="#4C86C6" stroke-width="0.7"/>
<line x1="230.64" y1="578.95" x2="233.24" y2="578.95" stroke="#4C86C6" stroke-width="0.7"/>
<line x1="231.94" y1="577.65" x2="231.94" y2="580.25" stroke="#4C86C6" stroke-width="0.7"/>
<line x1="234.01" y1="578.95" x2="236.61" y2="578.95" stroke="#4C86C6" stroke-width="0.7"/>
<line x1="235.31" y1="577.65" x2="235.31" y2="580.25" stroke="#4C86C6" stroke-width="0.7"/>
<line x1="237.39" y1="580.01" x2="239.99" y2="580.01" stroke="#4C86C6" stroke-width="0.7"/>
<line x1="238.69" y1="578.71" x2="238.69" y2="581.31" stroke="#4C86C6" stroke-width="0.7"/>
<line x1="239.07" y1="580.01" x2="241.68" y2="580.01" stroke="#4C86C6" stroke-width="0.7"/>
<line x1="240.38" y1="578.71" x2="240.38" y2="581.31" stroke="#4C86C6" stroke-width="0.7"/>
<line x1="240.76" y1="580.01" x2="243.36" y2="580.01" stroke="#4C86C6" stroke-width="0.7"/>
<line x1="242.06" y1="578.71" x2="242.06" y2="581.31" stroke="#4C86C6" stroke-width="0.7"/>
<line x1="242.45" y1="582.12" x2="245.05" y2="582.12" stroke="#4C86C6" stroke-width="0.7"/>
<line x1="243.75" y1="580.82" x2="243.75" y2="583.42" stroke="#4C86C6" stroke-width="0.7"/>
<line x1="244.14" y1="582.12" x2="246.74" y2="582.12" stroke="#4C86C6" stroke-width="0.7"/>
<line x1="245.44" y1="580.82" x2="245.44" y2="583.42" stroke="#4C86C6" stroke-width="0.7"/>
<line x1="245.82" y1="585.28" x2="248.43" y2="585.28" stroke="#4C86C6" stroke-width="0.7"/>
<line x1="247.12" y1="583.98" x2="247.12" y2="586.58" stroke="#4C86C6" stroke-width="0.7"/>
<line x1="247.51" y1="585.28" x2="250.11" y2="585.28" stroke="#4C86C6" stroke-width="0.7"/>
<line x1="248.81" y1="583.98" x2="248.81" y2="586.58" stroke="#4C86C6" stroke-width="0.7"/>
<line x1="249.2" y1="585.28" x2="251.8" y2="585.28" stroke="#4C86C6" stroke-width="0.7"/>
<line x1="250.5" y1="583.98" x2="250.5" y2="586.58" stroke="#4C86C6" stroke-width="0.7"/>
<line x1="250.89" y1="585.28" x2="253.49" y2="585.28" stroke="#4C86C6" stroke-width="0.7"/>
<line x1="252.19" y1="583.98" x2="252.19" y2="586.58" stroke="#4C86C6" stroke-width="0.7"/>
<line x1="289.7" y1="591.6" x2="292.3" y2="591.6" stroke="#4C86C6" stroke-width="0.7"/>
<line x1="291" y1="590.3" x2="291" y2="592.9" stroke="#4C86C6" stroke-width="0.7"/>
<text font-size="7.8" text-anchor="start" fill="#141414" transform="matrix(1 0 0 1.08 200 611.2)">p = 1</text>
<rect x="191.9" y="519.3" width="146.3" height="116.1" fill="none" stroke="#333333" stroke-width="0.9"/>
<line x1="189.9" y1="630.6" x2="191.9" y2="630.6" stroke="#333333" stroke-width="0.7"/>
<text font-size="5.2" text-anchor="end" fill="#262626" transform="matrix(1 0 0 1.08 189.5 632.45)">0.00</text>
<line x1="189.9" y1="604.25" x2="191.9" y2="604.25" stroke="#333333" stroke-width="0.7"/>
<text font-size="5.2" text-anchor="end" fill="#262626" transform="matrix(1 0 0 1.08 189.5 606.1)">0.25</text>
<line x1="189.9" y1="577.9" x2="191.9" y2="577.9" stroke="#333333" stroke-width="0.7"/>
<text font-size="5.2" text-anchor="end" fill="#262626" transform="matrix(1 0 0 1.08 189.5 579.75)">0.50</text>
<line x1="189.9" y1="551.55" x2="191.9" y2="551.55" stroke="#333333" stroke-width="0.7"/>
<text font-size="5.2" text-anchor="end" fill="#262626" transform="matrix(1 0 0 1.08 189.5 553.4)">0.75</text>
<line x1="189.9" y1="525.2" x2="191.9" y2="525.2" stroke="#333333" stroke-width="0.7"/>
<text font-size="5.2" text-anchor="end" fill="#262626" transform="matrix(1 0 0 1.08 189.5 527.05)">1.00</text>
<line x1="196.5" y1="635.4" x2="196.5" y2="637.4" stroke="#333333" stroke-width="0.7"/>
<text font-size="5.1" text-anchor="middle" fill="#262626" transform="matrix(1 0 0 1.08 196.5 641.1)">0</text>
<line x1="230.25" y1="635.4" x2="230.25" y2="637.4" stroke="#333333" stroke-width="0.7"/>
<text font-size="5.1" text-anchor="middle" fill="#262626" transform="matrix(1 0 0 1.08 230.25 641.1)">20</text>
<line x1="264" y1="635.4" x2="264" y2="637.4" stroke="#333333" stroke-width="0.7"/>
<text font-size="5.1" text-anchor="middle" fill="#262626" transform="matrix(1 0 0 1.08 264 641.1)">40</text>
<line x1="297.75" y1="635.4" x2="297.75" y2="637.4" stroke="#333333" stroke-width="0.7"/>
<text font-size="5.1" text-anchor="middle" fill="#262626" transform="matrix(1 0 0 1.08 297.75 641.1)">60</text>
<line x1="331.5" y1="635.4" x2="331.5" y2="637.4" stroke="#333333" stroke-width="0.7"/>
<text font-size="5.1" text-anchor="middle" fill="#262626" transform="matrix(1 0 0 1.08 331.5 641.1)">80</text>
<text font-size="7.4" text-anchor="middle" fill="#141414" transform="matrix(1 0 0 1.08 264.7 648.9)">Month</text>
<text font-size="7.55" text-anchor="middle" fill="#141414" transform="translate(171.4 573.7) rotate(-90) scale(1 1.08)">Survival probability</text>
<text font-size="5.6" text-anchor="start" fill="#141414" transform="matrix(1 0 0 1.08 216 513.4)">Strata</text>
<line x1="236.3" y1="511.4" x2="239.3" y2="511.4" stroke="#4C86C6" stroke-width="0.8"/>
<line x1="237.8" y1="509.9" x2="237.8" y2="512.9" stroke="#4C86C6" stroke-width="0.8"/>
<text font-size="5.6" text-anchor="start" fill="#141414" transform="matrix(1 0 0 1.08 243.9 513.4)">Low Group</text>
<line x1="276" y1="511.4" x2="279" y2="511.4" stroke="#E8952F" stroke-width="0.8"/>
<line x1="277.5" y1="509.9" x2="277.5" y2="512.9" stroke="#E8952F" stroke-width="0.8"/>
<text font-size="5.6" text-anchor="start" fill="#141414" transform="matrix(1 0 0 1.08 284.4 513.4)">High Group</text>
<rect x="196.5" y="661.9" width="141.7" height="24.3" fill="#fff" stroke="none" stroke-width="1"/>
<line x1="219.4" y1="661.9" x2="219.4" y2="686.2" stroke="#F2F2F2" stroke-width="0.5"/>
<line x1="251.4" y1="661.9" x2="251.4" y2="686.2" stroke="#F2F2F2" stroke-width="0.5"/>
<line x1="283.4" y1="661.9" x2="283.4" y2="686.2" stroke="#F2F2F2" stroke-width="0.5"/>
<line x1="315.4" y1="661.9" x2="315.4" y2="686.2" stroke="#F2F2F2" stroke-width="0.5"/>
<line x1="203.4" y1="661.9" x2="203.4" y2="686.2" stroke="#EBEBEB" stroke-width="0.6"/>
<line x1="235.4" y1="661.9" x2="235.4" y2="686.2" stroke="#EBEBEB" stroke-width="0.6"/>
<line x1="267.4" y1="661.9" x2="267.4" y2="686.2" stroke="#EBEBEB" stroke-width="0.6"/>
<line x1="299.4" y1="661.9" x2="299.4" y2="686.2" stroke="#EBEBEB" stroke-width="0.6"/>
<line x1="331.4" y1="661.9" x2="331.4" y2="686.2" stroke="#EBEBEB" stroke-width="0.6"/>
<line x1="196.5" y1="668.46" x2="338.2" y2="668.46" stroke="#EBEBEB" stroke-width="0.6"/>
<line x1="196.5" y1="679.64" x2="338.2" y2="679.64" stroke="#EBEBEB" stroke-width="0.6"/>
<rect x="196.5" y="661.9" width="141.7" height="24.3" fill="none" stroke="#333333" stroke-width="0.9"/>
<text font-size="6.55" text-anchor="middle" fill="#4C86C6" transform="matrix(1 0 0 1.08 203.4 670.81)">80</text>
<text font-size="6.55" text-anchor="middle" fill="#4C86C6" transform="matrix(1 0 0 1.08 235.4 670.81)">27</text>
<text font-size="6.55" text-anchor="middle" fill="#4C86C6" transform="matrix(1 0 0 1.08 267.4 670.81)">1</text>
<text font-size="6.55" text-anchor="middle" fill="#4C86C6" transform="matrix(1 0 0 1.08 299.4 670.81)">0</text>
<text font-size="6.55" text-anchor="middle" fill="#4C86C6" transform="matrix(1 0 0 1.08 331.4 670.81)">0</text>
<text font-size="6.55" text-anchor="middle" fill="#E8952F" transform="matrix(1 0 0 1.08 203.4 681.98)">515</text>
<text font-size="6.55" text-anchor="middle" fill="#E8952F" transform="matrix(1 0 0 1.08 235.4 681.98)">225</text>
<text font-size="6.55" text-anchor="middle" fill="#E8952F" transform="matrix(1 0 0 1.08 267.4 681.98)">38</text>
<text font-size="6.55" text-anchor="middle" fill="#E8952F" transform="matrix(1 0 0 1.08 299.4 681.98)">7</text>
<text font-size="6.55" text-anchor="middle" fill="#E8952F" transform="matrix(1 0 0 1.08 331.4 681.98)">1</text>
<line x1="203.4" y1="686.2" x2="203.4" y2="688.2" stroke="#333333" stroke-width="0.7"/>
<text font-size="5.5" text-anchor="middle" fill="#262626" transform="matrix(1 0 0 1.08 203.4 692.6)">0</text>
<line x1="235.4" y1="686.2" x2="235.4" y2="688.2" stroke="#333333" stroke-width="0.7"/>
<text font-size="5.5" text-anchor="middle" fill="#262626" transform="matrix(1 0 0 1.08 235.4 692.6)">20</text>
<line x1="267.4" y1="686.2" x2="267.4" y2="688.2" stroke="#333333" stroke-width="0.7"/>
<text font-size="5.5" text-anchor="middle" fill="#262626" transform="matrix(1 0 0 1.08 267.4 692.6)">40</text>
<line x1="299.4" y1="686.2" x2="299.4" y2="688.2" stroke="#333333" stroke-width="0.7"/>
<text font-size="5.5" text-anchor="middle" fill="#262626" transform="matrix(1 0 0 1.08 299.4 692.6)">60</text>
<line x1="331.4" y1="686.2" x2="331.4" y2="688.2" stroke="#333333" stroke-width="0.7"/>
<text font-size="5.5" text-anchor="middle" fill="#262626" transform="matrix(1 0 0 1.08 331.4 692.6)">80</text>
<line x1="194.5" y1="668.46" x2="196.5" y2="668.46" stroke="#333333" stroke-width="0.7"/>
<line x1="194.5" y1="679.64" x2="196.5" y2="679.64" stroke="#333333" stroke-width="0.7"/>
<text font-size="4" text-anchor="end" fill="#4C86C6" transform="matrix(1 0 0 1.08 194.1 669.86)">Low Group</text>
<text font-size="4" text-anchor="end" fill="#E8952F" transform="matrix(1 0 0 1.08 194.1 681.04)">High Group</text>
<text font-size="7.55" text-anchor="start" fill="#141414" transform="matrix(1 0 0 1.08 197 658.4)">Number at risk</text>
<text font-size="7.4" text-anchor="middle" fill="#141414" transform="matrix(1 0 0 1.08 266.3 700.2)">Month</text>
<text font-size="7.7" text-anchor="middle" fill="#141414" transform="translate(172.5 671.9) rotate(-90) scale(1 1.08)">Strata</text>
<text x="347" y="514" font-size="26.5" text-anchor="start" fill="#000">J</text>
<rect x="376.9" y="525" width="55.8" height="26.57" fill="#E8912B" stroke="none" stroke-width="1"/>
<rect x="376.9" y="550.77" width="55.8" height="127.63" fill="#5689C4" stroke="none" stroke-width="1"/>
<text font-size="7.3" text-anchor="middle" fill="#141414" transform="matrix(1 0 0 1.08 403.7 545.8)">DCB</text>
<text font-size="7.3" text-anchor="middle" fill="#141414" transform="matrix(1 0 0 1.08 403.7 629.2)">NDB</text>
<line x1="404.8" y1="685.2" x2="404.8" y2="687.7" stroke="#333333" stroke-width="0.8"/>
<text font-size="7.4" text-anchor="middle" fill="#141414" transform="matrix(1 0 0 1.08 404.8 694.6)">Low Group</text>
<rect x="439" y="525" width="55.6" height="54.18" fill="#E8912B" stroke="none" stroke-width="1"/>
<rect x="439" y="578.38" width="55.6" height="100.02" fill="#5689C4" stroke="none" stroke-width="1"/>
<text font-size="7.3" text-anchor="middle" fill="#141414" transform="matrix(1 0 0 1.08 468.9 555.3)">DCB</text>
<text font-size="7.3" text-anchor="middle" fill="#141414" transform="matrix(1 0 0 1.08 471.5 634.1)">NDB</text>
<line x1="466.8" y1="685.2" x2="466.8" y2="687.7" stroke="#333333" stroke-width="0.8"/>
<text font-size="7.4" text-anchor="middle" fill="#141414" transform="matrix(1 0 0 1.08 466.8 694.6)">High Group</text>
<text font-size="8.54" text-anchor="middle" fill="#141414" transform="matrix(1 0 0 1.08 433.3 604.8)">Fisher’s exact test p=0.434</text>
<rect x="367.6" y="517.6" width="136.4" height="167.6" fill="none" stroke="#333333" stroke-width="1"/>
<line x1="365" y1="678.4" x2="367.6" y2="678.4" stroke="#333333" stroke-width="0.8"/>
<text font-size="7.5" text-anchor="end" fill="#262626" transform="matrix(1 0 0 1.08 364.2 680.9)">0.00</text>
<line x1="365" y1="640.05" x2="367.6" y2="640.05" stroke="#333333" stroke-width="0.8"/>
<text font-size="7.5" text-anchor="end" fill="#262626" transform="matrix(1 0 0 1.08 364.2 642.55)">0.25</text>
<line x1="365" y1="601.7" x2="367.6" y2="601.7" stroke="#333333" stroke-width="0.8"/>
<text font-size="7.5" text-anchor="end" fill="#262626" transform="matrix(1 0 0 1.08 364.2 604.2)">0.50</text>
<line x1="365" y1="563.35" x2="367.6" y2="563.35" stroke="#333333" stroke-width="0.8"/>
<text font-size="7.5" text-anchor="end" fill="#262626" transform="matrix(1 0 0 1.08 364.2 565.85)">0.75</text>
<line x1="365" y1="525" x2="367.6" y2="525" stroke="#333333" stroke-width="0.8"/>
<text font-size="7.5" text-anchor="end" fill="#262626" transform="matrix(1 0 0 1.08 364.2 527.5)">1.00</text>
<text font-size="12.3" text-anchor="middle" fill="#000" transform="matrix(1 0 0 1.08 536.2 511)">Miao et al. (PMID 29301960)</text>
<rect x="532.6" y="526" width="145.8" height="111.4" fill="#fff" stroke="none" stroke-width="1"/>
<line x1="556.3" y1="526" x2="556.3" y2="637.4" stroke="#F2F2F2" stroke-width="0.5"/>
<line x1="589.5" y1="526" x2="589.5" y2="637.4" stroke="#F2F2F2" stroke-width="0.5"/>
<line x1="622.7" y1="526" x2="622.7" y2="637.4" stroke="#F2F2F2" stroke-width="0.5"/>
<line x1="655.9" y1="526" x2="655.9" y2="637.4" stroke="#F2F2F2" stroke-width="0.5"/>
<line x1="532.6" y1="619.59" x2="678.4" y2="619.59" stroke="#F2F2F2" stroke-width="0.5"/>
<line x1="532.6" y1="594.36" x2="678.4" y2="594.36" stroke="#F2F2F2" stroke-width="0.5"/>
<line x1="532.6" y1="569.14" x2="678.4" y2="569.14" stroke="#F2F2F2" stroke-width="0.5"/>
<line x1="532.6" y1="543.91" x2="678.4" y2="543.91" stroke="#F2F2F2" stroke-width="0.5"/>
<line x1="539.7" y1="526" x2="539.7" y2="637.4" stroke="#EBEBEB" stroke-width="0.6"/>
<line x1="572.9" y1="526" x2="572.9" y2="637.4" stroke="#EBEBEB" stroke-width="0.6"/>
<line x1="606.1" y1="526" x2="606.1" y2="637.4" stroke="#EBEBEB" stroke-width="0.6"/>
<line x1="639.3" y1="526" x2="639.3" y2="637.4" stroke="#EBEBEB" stroke-width="0.6"/>
<line x1="672.5" y1="526" x2="672.5" y2="637.4" stroke="#EBEBEB" stroke-width="0.6"/>
<line x1="532.6" y1="632.2" x2="678.4" y2="632.2" stroke="#EBEBEB" stroke-width="0.6"/>
<line x1="532.6" y1="606.98" x2="678.4" y2="606.98" stroke="#EBEBEB" stroke-width="0.6"/>
<line x1="532.6" y1="581.75" x2="678.4" y2="581.75" stroke="#EBEBEB" stroke-width="0.6"/>
<line x1="532.6" y1="556.52" x2="678.4" y2="556.52" stroke="#EBEBEB" stroke-width="0.6"/>
<line x1="532.6" y1="531.3" x2="678.4" y2="531.3" stroke="#EBEBEB" stroke-width="0.6"/>
<line x1="650.92" y1="581.75" x2="650.92" y2="632.2" stroke="#333" stroke-width="0.75" stroke-dasharray="1.1,1.3"/>
<line x1="539.7" y1="581.75" x2="650.92" y2="581.75" stroke="#333" stroke-width="0.75" stroke-dasharray="1.1,1.3"/>
<path d="M539.7 531.3 H543.02 V535.34 H557.96 V540.38 H562.94 V544.42 H569.58 V548.45 H574.56 V552.49 H594.48 V557.53 H614.4 V564.6 H617.72 V569.64 H622.7 V576.71 H657.56 V576.71" fill="none" stroke="#E8952F" stroke-width="1.1" stroke-dasharray="2.6,1.6"/>
<path d="M539.7 531.3 H552.98 V540.38 H557.63 V549.46 H614.4 V563.59 H650.92 V586.79 H657.56 V586.79" fill="none" stroke="#4C86C6" stroke-width="1.1"/>
<line x1="543.38" y1="535.34" x2="545.98" y2="535.34" stroke="#E8952F" stroke-width="0.7"/>
<line x1="544.68" y1="534.04" x2="544.68" y2="536.64" stroke="#E8952F" stroke-width="0.7"/>
<line x1="548.36" y1="535.34" x2="550.96" y2="535.34" stroke="#E8952F" stroke-width="0.7"/>
<line x1="549.66" y1="534.04" x2="549.66" y2="536.64" stroke="#E8952F" stroke-width="0.7"/>
<line x1="555" y1="535.34" x2="557.6" y2="535.34" stroke="#E8952F" stroke-width="0.7"/>
<line x1="556.3" y1="534.04" x2="556.3" y2="536.64" stroke="#E8952F" stroke-width="0.7"/>
<line x1="604.8" y1="557.53" x2="607.4" y2="557.53" stroke="#E8952F" stroke-width="0.7"/>
<line x1="606.1" y1="556.23" x2="606.1" y2="558.83" stroke="#E8952F" stroke-width="0.7"/>
<line x1="624.72" y1="576.71" x2="627.32" y2="576.71" stroke="#E8952F" stroke-width="0.7"/>
<line x1="626.02" y1="575.41" x2="626.02" y2="578" stroke="#E8952F" stroke-width="0.7"/>
<line x1="634.68" y1="576.71" x2="637.28" y2="576.71" stroke="#E8952F" stroke-width="0.7"/>
<line x1="635.98" y1="575.41" x2="635.98" y2="578" stroke="#E8952F" stroke-width="0.7"/>
<line x1="646.3" y1="576.71" x2="648.9" y2="576.71" stroke="#E8952F" stroke-width="0.7"/>
<line x1="647.6" y1="575.41" x2="647.6" y2="578" stroke="#E8952F" stroke-width="0.7"/>
<line x1="647.96" y1="576.71" x2="650.56" y2="576.71" stroke="#E8952F" stroke-width="0.7"/>
<line x1="649.26" y1="575.41" x2="649.26" y2="578" stroke="#E8952F" stroke-width="0.7"/>
<line x1="651.28" y1="576.71" x2="653.88" y2="576.71" stroke="#E8952F" stroke-width="0.7"/>
<line x1="652.58" y1="575.41" x2="652.58" y2="578" stroke="#E8952F" stroke-width="0.7"/>
<line x1="654.6" y1="576.71" x2="657.2" y2="576.71" stroke="#E8952F" stroke-width="0.7"/>
<line x1="655.9" y1="575.41" x2="655.9" y2="578" stroke="#E8952F" stroke-width="0.7"/>
<line x1="551.68" y1="531.3" x2="554.28" y2="531.3" stroke="#4C86C6" stroke-width="0.7"/>
<line x1="552.98" y1="530" x2="552.98" y2="532.6" stroke="#4C86C6" stroke-width="0.7"/>
<line x1="574.92" y1="549.46" x2="577.52" y2="549.46" stroke="#4C86C6" stroke-width="0.7"/>
<line x1="576.22" y1="548.16" x2="576.22" y2="550.76" stroke="#4C86C6" stroke-width="0.7"/>
<line x1="578.24" y1="549.46" x2="580.84" y2="549.46" stroke="#4C86C6" stroke-width="0.7"/>
<line x1="579.54" y1="548.16" x2="579.54" y2="550.76" stroke="#4C86C6" stroke-width="0.7"/>
<line x1="634.68" y1="563.59" x2="637.28" y2="563.59" stroke="#4C86C6" stroke-width="0.7"/>
<line x1="635.98" y1="562.29" x2="635.98" y2="564.89" stroke="#4C86C6" stroke-width="0.7"/>
<line x1="647.96" y1="563.59" x2="650.56" y2="563.59" stroke="#4C86C6" stroke-width="0.7"/>
<line x1="649.26" y1="562.29" x2="649.26" y2="564.89" stroke="#4C86C6" stroke-width="0.7"/>
<line x1="655.6" y1="586.79" x2="658.2" y2="586.79" stroke="#4C86C6" stroke-width="0.7"/>
<line x1="656.9" y1="585.5" x2="656.9" y2="588.09" stroke="#4C86C6" stroke-width="0.7"/>
<text font-size="7.8" text-anchor="start" fill="#141414" transform="matrix(1 0 0 1.08 541.3 614.4)">p = 0.85</text>
<rect x="532.6" y="526" width="145.8" height="111.4" fill="none" stroke="#333333" stroke-width="0.9"/>
<line x1="530.6" y1="632.2" x2="532.6" y2="632.2" stroke="#333333" stroke-width="0.7"/>
<text font-size="5.2" text-anchor="end" fill="#262626" transform="matrix(1 0 0 1.08 530.2 634.05)">0.00</text>
<line x1="530.6" y1="606.98" x2="532.6" y2="606.98" stroke="#333333" stroke-width="0.7"/>
<text font-size="5.2" text-anchor="end" fill="#262626" transform="matrix(1 0 0 1.08 530.2 608.83)">0.25</text>
<line x1="530.6" y1="581.75" x2="532.6" y2="581.75" stroke="#333333" stroke-width="0.7"/>
<text font-size="5.2" text-anchor="end" fill="#262626" transform="matrix(1 0 0 1.08 530.2 583.6)">0.50</text>
<line x1="530.6" y1="556.52" x2="532.6" y2="556.52" stroke="#333333" stroke-width="0.7"/>
<text font-size="5.2" text-anchor="end" fill="#262626" transform="matrix(1 0 0 1.08 530.2 558.38)">0.75</text>
<line x1="530.6" y1="531.3" x2="532.6" y2="531.3" stroke="#333333" stroke-width="0.7"/>
<text font-size="5.2" text-anchor="end" fill="#262626" transform="matrix(1 0 0 1.08 530.2 533.15)">1.00</text>
<line x1="539.7" y1="637.4" x2="539.7" y2="639.4" stroke="#333333" stroke-width="0.7"/>
<text font-size="5.1" text-anchor="middle" fill="#262626" transform="matrix(1 0 0 1.08 539.7 643.1)">0</text>
<line x1="572.9" y1="637.4" x2="572.9" y2="639.4" stroke="#333333" stroke-width="0.7"/>
<text font-size="5.1" text-anchor="middle" fill="#262626" transform="matrix(1 0 0 1.08 572.9 643.1)">10</text>
<line x1="606.1" y1="637.4" x2="606.1" y2="639.4" stroke="#333333" stroke-width="0.7"/>
<text font-size="5.1" text-anchor="middle" fill="#262626" transform="matrix(1 0 0 1.08 606.1 643.1)">20</text>
<line x1="639.3" y1="637.4" x2="639.3" y2="639.4" stroke="#333333" stroke-width="0.7"/>
<text font-size="5.1" text-anchor="middle" fill="#262626" transform="matrix(1 0 0 1.08 639.3 643.1)">30</text>
<line x1="672.5" y1="637.4" x2="672.5" y2="639.4" stroke="#333333" stroke-width="0.7"/>
<text font-size="5.1" text-anchor="middle" fill="#262626" transform="matrix(1 0 0 1.08 672.5 643.1)">40</text>
<text font-size="7.4" text-anchor="middle" fill="#141414" transform="matrix(1 0 0 1.08 609.5 653.2)">Month</text>
<text font-size="7.55" text-anchor="middle" fill="#141414" transform="translate(514.4 577.1) rotate(-90) scale(1 1.08)">Survival probability</text>
<text font-size="5.6" text-anchor="start" fill="#141414" transform="matrix(1 0 0 1.08 560.7 522)">Strata</text>
<line x1="581" y1="520" x2="584" y2="520" stroke="#4C86C6" stroke-width="0.8"/>
<line x1="582.5" y1="518.5" x2="582.5" y2="521.5" stroke="#4C86C6" stroke-width="0.8"/>
<text font-size="5.6" text-anchor="start" fill="#141414" transform="matrix(1 0 0 1.08 588.6 522)">Low Group</text>
<line x1="620.7" y1="520" x2="623.7" y2="520" stroke="#E8952F" stroke-width="0.8"/>
<line x1="622.2" y1="518.5" x2="622.2" y2="521.5" stroke="#E8952F" stroke-width="0.8"/>
<text font-size="5.6" text-anchor="start" fill="#141414" transform="matrix(1 0 0 1.08 629.1 522)">High Group</text>
<rect x="540.5" y="662.3" width="138.5" height="23.7" fill="#fff" stroke="none" stroke-width="1"/>
<line x1="562.77" y1="662.3" x2="562.77" y2="686" stroke="#F2F2F2" stroke-width="0.5"/>
<line x1="594.31" y1="662.3" x2="594.31" y2="686" stroke="#F2F2F2" stroke-width="0.5"/>
<line x1="625.85" y1="662.3" x2="625.85" y2="686" stroke="#F2F2F2" stroke-width="0.5"/>
<line x1="657.39" y1="662.3" x2="657.39" y2="686" stroke="#F2F2F2" stroke-width="0.5"/>
<line x1="547" y1="662.3" x2="547" y2="686" stroke="#EBEBEB" stroke-width="0.6"/>
<line x1="578.54" y1="662.3" x2="578.54" y2="686" stroke="#EBEBEB" stroke-width="0.6"/>
<line x1="610.08" y1="662.3" x2="610.08" y2="686" stroke="#EBEBEB" stroke-width="0.6"/>
<line x1="641.62" y1="662.3" x2="641.62" y2="686" stroke="#EBEBEB" stroke-width="0.6"/>
<line x1="673.16" y1="662.3" x2="673.16" y2="686" stroke="#EBEBEB" stroke-width="0.6"/>
<line x1="540.5" y1="668.7" x2="679" y2="668.7" stroke="#EBEBEB" stroke-width="0.6"/>
<line x1="540.5" y1="679.6" x2="679" y2="679.6" stroke="#EBEBEB" stroke-width="0.6"/>
<rect x="540.5" y="662.3" width="138.5" height="23.7" fill="none" stroke="#333333" stroke-width="0.9"/>
<text font-size="6.55" text-anchor="middle" fill="#4C86C6" transform="matrix(1 0 0 1.08 547 671.04)">12</text>
<text font-size="6.55" text-anchor="middle" fill="#4C86C6" transform="matrix(1 0 0 1.08 578.54 671.04)">9</text>
<text font-size="6.55" text-anchor="middle" fill="#4C86C6" transform="matrix(1 0 0 1.08 610.08 671.04)">6</text>
<text font-size="6.55" text-anchor="middle" fill="#4C86C6" transform="matrix(1 0 0 1.08 641.62 671.04)">4</text>
<text font-size="6.55" text-anchor="middle" fill="#4C86C6" transform="matrix(1 0 0 1.08 673.16 671.04)">0</text>
<text font-size="6.55" text-anchor="middle" fill="#E8952F" transform="matrix(1 0 0 1.08 547 681.95)">23</text>
<text font-size="6.55" text-anchor="middle" fill="#E8952F" transform="matrix(1 0 0 1.08 578.54 681.95)">16</text>
<text font-size="6.55" text-anchor="middle" fill="#E8952F" transform="matrix(1 0 0 1.08 610.08 681.95)">12</text>
<text font-size="6.55" text-anchor="middle" fill="#E8952F" transform="matrix(1 0 0 1.08 641.62 681.95)">6</text>
<text font-size="6.55" text-anchor="middle" fill="#E8952F" transform="matrix(1 0 0 1.08 673.16 681.95)">0</text>
<line x1="547" y1="686" x2="547" y2="688" stroke="#333333" stroke-width="0.7"/>
<text font-size="5.5" text-anchor="middle" fill="#262626" transform="matrix(1 0 0 1.08 547 692.4)">0</text>
<line x1="578.54" y1="686" x2="578.54" y2="688" stroke="#333333" stroke-width="0.7"/>
<text font-size="5.5" text-anchor="middle" fill="#262626" transform="matrix(1 0 0 1.08 578.54 692.4)">10</text>
<line x1="610.08" y1="686" x2="610.08" y2="688" stroke="#333333" stroke-width="0.7"/>
<text font-size="5.5" text-anchor="middle" fill="#262626" transform="matrix(1 0 0 1.08 610.08 692.4)">20</text>
<line x1="641.62" y1="686" x2="641.62" y2="688" stroke="#333333" stroke-width="0.7"/>
<text font-size="5.5" text-anchor="middle" fill="#262626" transform="matrix(1 0 0 1.08 641.62 692.4)">30</text>
<line x1="673.16" y1="686" x2="673.16" y2="688" stroke="#333333" stroke-width="0.7"/>
<text font-size="5.5" text-anchor="middle" fill="#262626" transform="matrix(1 0 0 1.08 673.16 692.4)">40</text>
<line x1="538.5" y1="668.7" x2="540.5" y2="668.7" stroke="#333333" stroke-width="0.7"/>
<line x1="538.5" y1="679.6" x2="540.5" y2="679.6" stroke="#333333" stroke-width="0.7"/>
<text font-size="4" text-anchor="end" fill="#4C86C6" transform="matrix(1 0 0 1.08 538.1 670.1)">Low Group</text>
<text font-size="4" text-anchor="end" fill="#E8952F" transform="matrix(1 0 0 1.08 538.1 681)">High Group</text>
<text font-size="7.55" text-anchor="start" fill="#141414" transform="matrix(1 0 0 1.08 541.3 658.4)">Number at risk</text>
<text font-size="7.4" text-anchor="middle" fill="#141414" transform="matrix(1 0 0 1.08 610.5 698.6)">Month</text>
<text font-size="7.7" text-anchor="middle" fill="#141414" transform="translate(515.6 673.4) rotate(-90) scale(1 1.08)">Strata</text>
<text x="1" y="728.1" font-size="26.5" text-anchor="start" fill="#000">K</text>
<rect x="31.9" y="738.4" width="55.8" height="21.33" fill="#E8912B" stroke="none" stroke-width="1"/>
<rect x="31.9" y="758.93" width="55.8" height="122.07" fill="#5689C4" stroke="none" stroke-width="1"/>
<text font-size="7.3" text-anchor="middle" fill="#141414" transform="matrix(1 0 0 1.08 58.7 751.4)">DCB</text>
<text font-size="7.3" text-anchor="middle" fill="#141414" transform="matrix(1 0 0 1.08 58.7 829)">NDB</text>
<line x1="59.8" y1="888.4" x2="59.8" y2="890.9" stroke="#333333" stroke-width="0.8"/>
<text font-size="7.4" text-anchor="middle" fill="#141414" transform="matrix(1 0 0 1.08 59.8 897)">Low Group</text>
<rect x="94" y="738.4" width="56.1" height="38.87" fill="#E8912B" stroke="none" stroke-width="1"/>
<rect x="94" y="776.47" width="56.1" height="104.53" fill="#5689C4" stroke="none" stroke-width="1"/>
<text font-size="7.3" text-anchor="middle" fill="#141414" transform="matrix(1 0 0 1.08 124.5 759.6)">DCB</text>
<text font-size="7.3" text-anchor="middle" fill="#141414" transform="matrix(1 0 0 1.08 124.5 829)">NDB</text>
<line x1="122.05" y1="888.4" x2="122.05" y2="890.9" stroke="#333333" stroke-width="0.8"/>
<text font-size="7.4" text-anchor="middle" fill="#141414" transform="matrix(1 0 0 1.08 122.05 897)">High Group</text>
<text font-size="8.54" text-anchor="middle" fill="#141414" transform="matrix(1 0 0 1.08 89.1 803.3)">Fisher’s exact test p=0.674</text>
<rect x="22.6" y="731.4" width="136.4" height="157" fill="none" stroke="#333333" stroke-width="1"/>
<line x1="20" y1="881" x2="22.6" y2="881" stroke="#333333" stroke-width="0.8"/>
<text font-size="7.5" text-anchor="end" fill="#262626" transform="matrix(1 0 0 1.08 19.2 883.5)">0.00</text>
<line x1="20" y1="845.35" x2="22.6" y2="845.35" stroke="#333333" stroke-width="0.8"/>
<text font-size="7.5" text-anchor="end" fill="#262626" transform="matrix(1 0 0 1.08 19.2 847.85)">0.25</text>
<line x1="20" y1="809.7" x2="22.6" y2="809.7" stroke="#333333" stroke-width="0.8"/>
<text font-size="7.5" text-anchor="end" fill="#262626" transform="matrix(1 0 0 1.08 19.2 812.2)">0.50</text>
<line x1="20" y1="774.05" x2="22.6" y2="774.05" stroke="#333333" stroke-width="0.8"/>
<text font-size="7.5" text-anchor="end" fill="#262626" transform="matrix(1 0 0 1.08 19.2 776.55)">0.75</text>
<line x1="20" y1="738.4" x2="22.6" y2="738.4" stroke="#333333" stroke-width="0.8"/>
<text font-size="7.5" text-anchor="end" fill="#262626" transform="matrix(1 0 0 1.08 19.2 740.9)">1.00</text>
<text font-size="12.3" text-anchor="middle" fill="#000" transform="matrix(1 0 0 1.08 175.2 715)">Allen et al.</text>
<rect x="188.4" y="727.8" width="146.6" height="110.5" fill="#fff" stroke="none" stroke-width="1"/>
<line x1="208.85" y1="727.8" x2="208.85" y2="838.3" stroke="#F2F2F2" stroke-width="0.5"/>
<line x1="235.35" y1="727.8" x2="235.35" y2="838.3" stroke="#F2F2F2" stroke-width="0.5"/>
<line x1="261.85" y1="727.8" x2="261.85" y2="838.3" stroke="#F2F2F2" stroke-width="0.5"/>
<line x1="288.35" y1="727.8" x2="288.35" y2="838.3" stroke="#F2F2F2" stroke-width="0.5"/>
<line x1="314.85" y1="727.8" x2="314.85" y2="838.3" stroke="#F2F2F2" stroke-width="0.5"/>
<line x1="188.4" y1="820.61" x2="335" y2="820.61" stroke="#F2F2F2" stroke-width="0.5"/>
<line x1="188.4" y1="795.64" x2="335" y2="795.64" stroke="#F2F2F2" stroke-width="0.5"/>
<line x1="188.4" y1="770.66" x2="335" y2="770.66" stroke="#F2F2F2" stroke-width="0.5"/>
<line x1="188.4" y1="745.69" x2="335" y2="745.69" stroke="#F2F2F2" stroke-width="0.5"/>
<line x1="195.6" y1="727.8" x2="195.6" y2="838.3" stroke="#EBEBEB" stroke-width="0.6"/>
<line x1="222.1" y1="727.8" x2="222.1" y2="838.3" stroke="#EBEBEB" stroke-width="0.6"/>
<line x1="248.6" y1="727.8" x2="248.6" y2="838.3" stroke="#EBEBEB" stroke-width="0.6"/>
<line x1="275.1" y1="727.8" x2="275.1" y2="838.3" stroke="#EBEBEB" stroke-width="0.6"/>
<line x1="301.6" y1="727.8" x2="301.6" y2="838.3" stroke="#EBEBEB" stroke-width="0.6"/>
<line x1="328.1" y1="727.8" x2="328.1" y2="838.3" stroke="#EBEBEB" stroke-width="0.6"/>
<line x1="188.4" y1="833.1" x2="335" y2="833.1" stroke="#EBEBEB" stroke-width="0.6"/>
<line x1="188.4" y1="808.12" x2="335" y2="808.12" stroke="#EBEBEB" stroke-width="0.6"/>
<line x1="188.4" y1="783.15" x2="335" y2="783.15" stroke="#EBEBEB" stroke-width="0.6"/>
<line x1="188.4" y1="758.18" x2="335" y2="758.18" stroke="#EBEBEB" stroke-width="0.6"/>
<line x1="188.4" y1="733.2" x2="335" y2="733.2" stroke="#EBEBEB" stroke-width="0.6"/>
<line x1="207.53" y1="783.15" x2="207.53" y2="833.1" stroke="#333" stroke-width="0.75" stroke-dasharray="1.1,1.3"/>
<line x1="222.1" y1="783.15" x2="222.1" y2="833.1" stroke="#333" stroke-width="0.75" stroke-dasharray="1.1,1.3"/>
<line x1="195.6" y1="783.15" x2="222.1" y2="783.15" stroke="#333" stroke-width="0.75" stroke-dasharray="1.1,1.3"/>
<path d="M195.6 733.2 H199.57 V735.2 H202.22 V739.19 H203.55 V743.19 H204.88 V747.19 H207.53 V753.18 H208.85 V758.18 H211.5 V764.17 H214.15 V770.16 H215.47 V773.16 H218.12 V778.15 H222.1 V783.15 H224.75 V786.15 H227.4 V788.14 H232.7 V790.14 H238 V792.14 H243.3 V794.14 H248.6 V796.14 H253.9 V798.13 H259.2 V800.13 H264.5 V802.13 H269.8 V804.13 H275.1 V806.13 H288.35 V809.12 H298.95 V811.12 H304.25 V812.12 H325.45 V818.12 H336.05 V818.12" fill="none" stroke="#E8952F" stroke-width="1.1" stroke-dasharray="2.6,1.6"/>
<path d="M195.6 733.2 H200.37 V747.49 H205.41 V761.77 H206.47 V776.06 H207.79 V790.14 H216.27 V804.53 H236.41 V818.81 H281.46 V818.81" fill="none" stroke="#4C86C6" stroke-width="1.1"/>
<line x1="244.65" y1="796.14" x2="247.25" y2="796.14" stroke="#E8952F" stroke-width="0.7"/>
<line x1="245.95" y1="794.84" x2="245.95" y2="797.44" stroke="#E8952F" stroke-width="0.7"/>
<line x1="252.6" y1="798.13" x2="255.2" y2="798.13" stroke="#E8952F" stroke-width="0.7"/>
<line x1="253.9" y1="796.84" x2="253.9" y2="799.43" stroke="#E8952F" stroke-width="0.7"/>
<line x1="257.9" y1="800.13" x2="260.5" y2="800.13" stroke="#E8952F" stroke-width="0.7"/>
<line x1="259.2" y1="798.83" x2="259.2" y2="801.43" stroke="#E8952F" stroke-width="0.7"/>
<line x1="265.85" y1="803.13" x2="268.45" y2="803.13" stroke="#E8952F" stroke-width="0.7"/>
<line x1="267.15" y1="801.83" x2="267.15" y2="804.43" stroke="#E8952F" stroke-width="0.7"/>
<line x1="276.45" y1="806.13" x2="279.05" y2="806.13" stroke="#E8952F" stroke-width="0.7"/>
<line x1="277.75" y1="804.83" x2="277.75" y2="807.43" stroke="#E8952F" stroke-width="0.7"/>
<line x1="281.75" y1="806.13" x2="284.35" y2="806.13" stroke="#E8952F" stroke-width="0.7"/>
<line x1="283.05" y1="804.83" x2="283.05" y2="807.43" stroke="#E8952F" stroke-width="0.7"/>
<line x1="284.4" y1="806.13" x2="287" y2="806.13" stroke="#E8952F" stroke-width="0.7"/>
<line x1="285.7" y1="804.83" x2="285.7" y2="807.43" stroke="#E8952F" stroke-width="0.7"/>
<line x1="289.7" y1="809.12" x2="292.3" y2="809.12" stroke="#E8952F" stroke-width="0.7"/>
<line x1="291" y1="807.82" x2="291" y2="810.42" stroke="#E8952F" stroke-width="0.7"/>
<line x1="295" y1="809.12" x2="297.6" y2="809.12" stroke="#E8952F" stroke-width="0.7"/>
<line x1="296.3" y1="807.82" x2="296.3" y2="810.42" stroke="#E8952F" stroke-width="0.7"/>
<line x1="310.9" y1="812.12" x2="313.5" y2="812.12" stroke="#E8952F" stroke-width="0.7"/>
<line x1="312.2" y1="810.82" x2="312.2" y2="813.42" stroke="#E8952F" stroke-width="0.7"/>
<line x1="316.2" y1="812.12" x2="318.8" y2="812.12" stroke="#E8952F" stroke-width="0.7"/>
<line x1="317.5" y1="810.82" x2="317.5" y2="813.42" stroke="#E8952F" stroke-width="0.7"/>
<line x1="326.8" y1="818.12" x2="329.4" y2="818.12" stroke="#E8952F" stroke-width="0.7"/>
<line x1="328.1" y1="816.82" x2="328.1" y2="819.41" stroke="#E8952F" stroke-width="0.7"/>
<line x1="332.1" y1="818.12" x2="334.7" y2="818.12" stroke="#E8952F" stroke-width="0.7"/>
<line x1="333.4" y1="816.82" x2="333.4" y2="819.41" stroke="#E8952F" stroke-width="0.7"/>
<line x1="280.16" y1="818.81" x2="282.76" y2="818.81" stroke="#4C86C6" stroke-width="0.7"/>
<line x1="281.46" y1="817.51" x2="281.46" y2="820.11" stroke="#4C86C6" stroke-width="0.7"/>
<text font-size="7.8" text-anchor="start" fill="#141414" transform="matrix(1 0 0 1.08 198.3 816)">p = 0.2</text>
<rect x="188.4" y="727.8" width="146.6" height="110.5" fill="none" stroke="#333333" stroke-width="0.9"/>
<line x1="186.4" y1="833.1" x2="188.4" y2="833.1" stroke="#333333" stroke-width="0.7"/>
<text font-size="5.2" text-anchor="end" fill="#262626" transform="matrix(1 0 0 1.08 186 834.95)">0.00</text>
<line x1="186.4" y1="808.12" x2="188.4" y2="808.12" stroke="#333333" stroke-width="0.7"/>
<text font-size="5.2" text-anchor="end" fill="#262626" transform="matrix(1 0 0 1.08 186 809.98)">0.25</text>
<line x1="186.4" y1="783.15" x2="188.4" y2="783.15" stroke="#333333" stroke-width="0.7"/>
<text font-size="5.2" text-anchor="end" fill="#262626" transform="matrix(1 0 0 1.08 186 785)">0.50</text>
<line x1="186.4" y1="758.18" x2="188.4" y2="758.18" stroke="#333333" stroke-width="0.7"/>
<text font-size="5.2" text-anchor="end" fill="#262626" transform="matrix(1 0 0 1.08 186 760.03)">0.75</text>
<line x1="186.4" y1="733.2" x2="188.4" y2="733.2" stroke="#333333" stroke-width="0.7"/>
<text font-size="5.2" text-anchor="end" fill="#262626" transform="matrix(1 0 0 1.08 186 735.05)">1.00</text>
<line x1="195.6" y1="838.3" x2="195.6" y2="840.3" stroke="#333333" stroke-width="0.7"/>
<text font-size="5.1" text-anchor="middle" fill="#262626" transform="matrix(1 0 0 1.08 195.6 844)">0</text>
<line x1="222.1" y1="838.3" x2="222.1" y2="840.3" stroke="#333333" stroke-width="0.7"/>
<text font-size="5.1" text-anchor="middle" fill="#262626" transform="matrix(1 0 0 1.08 222.1 844)">10</text>
<line x1="248.6" y1="838.3" x2="248.6" y2="840.3" stroke="#333333" stroke-width="0.7"/>
<text font-size="5.1" text-anchor="middle" fill="#262626" transform="matrix(1 0 0 1.08 248.6 844)">20</text>
<line x1="275.1" y1="838.3" x2="275.1" y2="840.3" stroke="#333333" stroke-width="0.7"/>
<text font-size="5.1" text-anchor="middle" fill="#262626" transform="matrix(1 0 0 1.08 275.1 844)">30</text>
<line x1="301.6" y1="838.3" x2="301.6" y2="840.3" stroke="#333333" stroke-width="0.7"/>
<text font-size="5.1" text-anchor="middle" fill="#262626" transform="matrix(1 0 0 1.08 301.6 844)">40</text>
<line x1="328.1" y1="838.3" x2="328.1" y2="840.3" stroke="#333333" stroke-width="0.7"/>
<text font-size="5.1" text-anchor="middle" fill="#262626" transform="matrix(1 0 0 1.08 328.1 844)">50</text>
<text font-size="7.4" text-anchor="middle" fill="#141414" transform="matrix(1 0 0 1.08 266.3 856.6)">Month</text>
<text font-size="7.55" text-anchor="middle" fill="#141414" transform="translate(171.4 773.6) rotate(-90) scale(1 1.08)">Survival probability</text>
<text font-size="5.6" text-anchor="start" fill="#141414" transform="matrix(1 0 0 1.08 220 722.8)">Strata</text>
<line x1="237.6" y1="720.8" x2="246" y2="720.8" stroke="#4C86C6" stroke-width="1"/>
<line x1="240.3" y1="720.8" x2="243.3" y2="720.8" stroke="#4C86C6" stroke-width="0.8"/>
<line x1="241.8" y1="719.3" x2="241.8" y2="722.3" stroke="#4C86C6" stroke-width="0.8"/>
<text font-size="5.6" text-anchor="start" fill="#141414" transform="matrix(1 0 0 1.08 247.9 722.8)">Low Group</text>
<line x1="277.3" y1="720.8" x2="285.7" y2="720.8" stroke="#E8952F" stroke-width="1" stroke-dasharray="2,1.2"/>
<line x1="280" y1="720.8" x2="283" y2="720.8" stroke="#E8952F" stroke-width="0.8"/>
<line x1="281.5" y1="719.3" x2="281.5" y2="722.3" stroke="#E8952F" stroke-width="0.8"/>
<text font-size="5.6" text-anchor="start" fill="#141414" transform="matrix(1 0 0 1.08 288.4 722.8)">High Group</text>
<rect x="197.8" y="865.3" width="136.4" height="22.9" fill="#fff" stroke="none" stroke-width="1"/>
<line x1="216.4" y1="865.3" x2="216.4" y2="888.2" stroke="#F2F2F2" stroke-width="0.5"/>
<line x1="241.2" y1="865.3" x2="241.2" y2="888.2" stroke="#F2F2F2" stroke-width="0.5"/>
<line x1="266" y1="865.3" x2="266" y2="888.2" stroke="#F2F2F2" stroke-width="0.5"/>
<line x1="290.8" y1="865.3" x2="290.8" y2="888.2" stroke="#F2F2F2" stroke-width="0.5"/>
<line x1="315.6" y1="865.3" x2="315.6" y2="888.2" stroke="#F2F2F2" stroke-width="0.5"/>
<line x1="204" y1="865.3" x2="204" y2="888.2" stroke="#EBEBEB" stroke-width="0.6"/>
<line x1="228.8" y1="865.3" x2="228.8" y2="888.2" stroke="#EBEBEB" stroke-width="0.6"/>
<line x1="253.6" y1="865.3" x2="253.6" y2="888.2" stroke="#EBEBEB" stroke-width="0.6"/>
<line x1="278.4" y1="865.3" x2="278.4" y2="888.2" stroke="#EBEBEB" stroke-width="0.6"/>
<line x1="303.2" y1="865.3" x2="303.2" y2="888.2" stroke="#EBEBEB" stroke-width="0.6"/>
<line x1="328" y1="865.3" x2="328" y2="888.2" stroke="#EBEBEB" stroke-width="0.6"/>
<line x1="197.8" y1="871.48" x2="334.2" y2="871.48" stroke="#EBEBEB" stroke-width="0.6"/>
<line x1="197.8" y1="882.02" x2="334.2" y2="882.02" stroke="#EBEBEB" stroke-width="0.6"/>
<rect x="197.8" y="865.3" width="136.4" height="22.9" fill="none" stroke="#333333" stroke-width="0.9"/>
<text font-size="6.55" text-anchor="middle" fill="#4C86C6" transform="matrix(1 0 0 1.08 204 873.83)">7</text>
<text font-size="6.55" text-anchor="middle" fill="#4C86C6" transform="matrix(1 0 0 1.08 228.8 873.83)">2</text>
<text font-size="6.55" text-anchor="middle" fill="#4C86C6" transform="matrix(1 0 0 1.08 253.6 873.83)">1</text>
<text font-size="6.55" text-anchor="middle" fill="#4C86C6" transform="matrix(1 0 0 1.08 278.4 873.83)">1</text>
<text font-size="6.55" text-anchor="middle" fill="#4C86C6" transform="matrix(1 0 0 1.08 303.2 873.83)">0</text>
<text font-size="6.55" text-anchor="middle" fill="#4C86C6" transform="matrix(1 0 0 1.08 328 873.83)">0</text>
<text font-size="6.55" text-anchor="middle" fill="#E8952F" transform="matrix(1 0 0 1.08 204 884.36)">98</text>
<text font-size="6.55" text-anchor="middle" fill="#E8952F" transform="matrix(1 0 0 1.08 228.8 884.36)">49</text>
<text font-size="6.55" text-anchor="middle" fill="#E8952F" transform="matrix(1 0 0 1.08 253.6 884.36)">36</text>
<text font-size="6.55" text-anchor="middle" fill="#E8952F" transform="matrix(1 0 0 1.08 278.4 884.36)">18</text>
<text font-size="6.55" text-anchor="middle" fill="#E8952F" transform="matrix(1 0 0 1.08 303.2 884.36)">5</text>
<text font-size="6.55" text-anchor="middle" fill="#E8952F" transform="matrix(1 0 0 1.08 328 884.36)">2</text>
<line x1="204" y1="888.2" x2="204" y2="890.2" stroke="#333333" stroke-width="0.7"/>
<text font-size="5.5" text-anchor="middle" fill="#262626" transform="matrix(1 0 0 1.08 204 894.6)">0</text>
<line x1="228.8" y1="888.2" x2="228.8" y2="890.2" stroke="#333333" stroke-width="0.7"/>
<text font-size="5.5" text-anchor="middle" fill="#262626" transform="matrix(1 0 0 1.08 228.8 894.6)">10</text>
<line x1="253.6" y1="888.2" x2="253.6" y2="890.2" stroke="#333333" stroke-width="0.7"/>
<text font-size="5.5" text-anchor="middle" fill="#262626" transform="matrix(1 0 0 1.08 253.6 894.6)">20</text>
<line x1="278.4" y1="888.2" x2="278.4" y2="890.2" stroke="#333333" stroke-width="0.7"/>
<text font-size="5.5" text-anchor="middle" fill="#262626" transform="matrix(1 0 0 1.08 278.4 894.6)">30</text>
<line x1="303.2" y1="888.2" x2="303.2" y2="890.2" stroke="#333333" stroke-width="0.7"/>
<text font-size="5.5" text-anchor="middle" fill="#262626" transform="matrix(1 0 0 1.08 303.2 894.6)">40</text>
<line x1="328" y1="888.2" x2="328" y2="890.2" stroke="#333333" stroke-width="0.7"/>
<text font-size="5.5" text-anchor="middle" fill="#262626" transform="matrix(1 0 0 1.08 328 894.6)">50</text>
<line x1="195.8" y1="871.48" x2="197.8" y2="871.48" stroke="#333333" stroke-width="0.7"/>
<line x1="195.8" y1="882.02" x2="197.8" y2="882.02" stroke="#333333" stroke-width="0.7"/>
<text font-size="4" text-anchor="end" fill="#4C86C6" transform="matrix(1 0 0 1.08 195.4 872.88)">Low Group</text>
<text font-size="4" text-anchor="end" fill="#E8952F" transform="matrix(1 0 0 1.08 195.4 883.42)">High Group</text>
<text font-size="7.55" text-anchor="start" fill="#141414" transform="matrix(1 0 0 1.08 198.3 861.5)">Number at risk</text>
<text font-size="7.4" text-anchor="middle" fill="#141414" transform="matrix(1 0 0 1.08 266.3 903.9)">Month</text>
<text font-size="7.7" text-anchor="middle" fill="#141414" transform="translate(172.5 876.6) rotate(-90) scale(1 1.08)">Strata</text>
<text x="336.5" y="727.9" font-size="26.5" text-anchor="start" fill="#000">L</text>
<rect x="376.9" y="740.4" width="57.1" height="19.77" fill="#E8912B" stroke="none" stroke-width="1"/>
<rect x="376.9" y="759.37" width="57.1" height="123.63" fill="#5689C4" stroke="none" stroke-width="1"/>
<text font-size="7.3" text-anchor="middle" fill="#141414" transform="matrix(1 0 0 1.08 404.5 753.4)">DCB</text>
<text font-size="7.3" text-anchor="middle" fill="#141414" transform="matrix(1 0 0 1.08 405.1 826)">NDB</text>
<line x1="405.45" y1="890.4" x2="405.45" y2="892.9" stroke="#333333" stroke-width="0.8"/>
<text font-size="7.4" text-anchor="middle" fill="#141414" transform="matrix(1 0 0 1.08 405.45 898.6)">Low Group</text>
<rect x="440" y="740.4" width="57.1" height="60.55" fill="#E8912B" stroke="none" stroke-width="1"/>
<rect x="440" y="800.15" width="57.1" height="82.85" fill="#5689C4" stroke="none" stroke-width="1"/>
<text font-size="7.3" text-anchor="middle" fill="#141414" transform="matrix(1 0 0 1.08 466.6 764)">DCB</text>
<text font-size="7.3" text-anchor="middle" fill="#141414" transform="matrix(1 0 0 1.08 466.6 837)">NDB</text>
<line x1="468.55" y1="890.4" x2="468.55" y2="892.9" stroke="#333333" stroke-width="0.8"/>
<text font-size="7.4" text-anchor="middle" fill="#141414" transform="matrix(1 0 0 1.08 468.55 898.6)">High Group</text>
<text font-size="8.54" text-anchor="middle" fill="#141414" transform="matrix(1 0 0 1.08 436.8 807.4)">Fisher’s exact test p=0.002</text>
<rect x="367" y="733" width="139.6" height="157.4" fill="none" stroke="#333333" stroke-width="1"/>
<line x1="364.4" y1="883" x2="367" y2="883" stroke="#333333" stroke-width="0.8"/>
<text font-size="7.5" text-anchor="end" fill="#262626" transform="matrix(1 0 0 1.08 363.6 885.5)">0.00</text>
<line x1="364.4" y1="847.35" x2="367" y2="847.35" stroke="#333333" stroke-width="0.8"/>
<text font-size="7.5" text-anchor="end" fill="#262626" transform="matrix(1 0 0 1.08 363.6 849.85)">0.25</text>
<line x1="364.4" y1="811.7" x2="367" y2="811.7" stroke="#333333" stroke-width="0.8"/>
<text font-size="7.5" text-anchor="end" fill="#262626" transform="matrix(1 0 0 1.08 363.6 814.2)">0.50</text>
<line x1="364.4" y1="776.05" x2="367" y2="776.05" stroke="#333333" stroke-width="0.8"/>
<text font-size="7.5" text-anchor="end" fill="#262626" transform="matrix(1 0 0 1.08 363.6 778.55)">0.75</text>
<line x1="364.4" y1="740.4" x2="367" y2="740.4" stroke="#333333" stroke-width="0.8"/>
<text font-size="7.5" text-anchor="end" fill="#262626" transform="matrix(1 0 0 1.08 363.6 742.9)">1.00</text>
<text font-size="12.3" text-anchor="middle" fill="#000" transform="matrix(1 0 0 1.08 521.7 715)">Miao et al. (PMID 30150660)</text>
<rect x="536.5" y="729.4" width="141.4" height="112.5" fill="#fff" stroke="none" stroke-width="1"/>
<line x1="558.75" y1="729.4" x2="558.75" y2="841.9" stroke="#F2F2F2" stroke-width="0.5"/>
<line x1="591.05" y1="729.4" x2="591.05" y2="841.9" stroke="#F2F2F2" stroke-width="0.5"/>
<line x1="623.35" y1="729.4" x2="623.35" y2="841.9" stroke="#F2F2F2" stroke-width="0.5"/>
<line x1="655.65" y1="729.4" x2="655.65" y2="841.9" stroke="#F2F2F2" stroke-width="0.5"/>
<line x1="536.5" y1="823.1" x2="677.9" y2="823.1" stroke="#F2F2F2" stroke-width="0.5"/>
<line x1="536.5" y1="797.7" x2="677.9" y2="797.7" stroke="#F2F2F2" stroke-width="0.5"/>
<line x1="536.5" y1="772.3" x2="677.9" y2="772.3" stroke="#F2F2F2" stroke-width="0.5"/>
<line x1="536.5" y1="746.9" x2="677.9" y2="746.9" stroke="#F2F2F2" stroke-width="0.5"/>
<line x1="542.6" y1="729.4" x2="542.6" y2="841.9" stroke="#EBEBEB" stroke-width="0.6"/>
<line x1="574.9" y1="729.4" x2="574.9" y2="841.9" stroke="#EBEBEB" stroke-width="0.6"/>
<line x1="607.2" y1="729.4" x2="607.2" y2="841.9" stroke="#EBEBEB" stroke-width="0.6"/>
<line x1="639.5" y1="729.4" x2="639.5" y2="841.9" stroke="#EBEBEB" stroke-width="0.6"/>
<line x1="671.8" y1="729.4" x2="671.8" y2="841.9" stroke="#EBEBEB" stroke-width="0.6"/>
<line x1="536.5" y1="835.8" x2="677.9" y2="835.8" stroke="#EBEBEB" stroke-width="0.6"/>
<line x1="536.5" y1="810.4" x2="677.9" y2="810.4" stroke="#EBEBEB" stroke-width="0.6"/>
<line x1="536.5" y1="785" x2="677.9" y2="785" stroke="#EBEBEB" stroke-width="0.6"/>
<line x1="536.5" y1="759.6" x2="677.9" y2="759.6" stroke="#EBEBEB" stroke-width="0.6"/>
<line x1="536.5" y1="734.2" x2="677.9" y2="734.2" stroke="#EBEBEB" stroke-width="0.6"/>
<line x1="563.6" y1="785" x2="563.6" y2="835.8" stroke="#333" stroke-width="0.75" stroke-dasharray="1.1,1.3"/>
<line x1="575.38" y1="785" x2="575.38" y2="835.8" stroke="#333" stroke-width="0.75" stroke-dasharray="1.1,1.3"/>
<line x1="542.6" y1="785" x2="575.38" y2="785" stroke="#333" stroke-width="0.75" stroke-dasharray="1.1,1.3"/>
<path d="M542.6 734.2 H544.22 V736.23 H545.83 V739.28 H547.45 V744.36 H549.06 V749.44 H550.68 V754.52 H552.29 V758.58 H555.52 V764.68 H558.75 V769.76 H561.98 V773.82 H565.21 V776.87 H568.44 V779.92 H571.67 V782.97 H574.9 V785 H578.13 V788.05 H581.36 V790.08 H584.59 V792.11 H587.82 V794.14 H591.05 V796.18 H595.89 V798.21 H600.74 V800.24 H607.2 V801.26 H613.66 V803.29 H620.12 V805.32 H676.64 V805.32" fill="none" stroke="#E8952F" stroke-width="1.1" stroke-dasharray="2.6,1.6"/>
<path d="M542.6 734.2 H545.83 V739.28 H547.45 V744.36 H549.06 V751.47 H550.68 V754.52 H552.29 V761.63 H553.9 V767.73 H555.52 V774.84 H557.13 V777.89 H558.75 V782.97 H563.6 V785 H564.4 V788.05 H566.83 V792.11 H581.36 V800.24 H600.74 V800.24" fill="none" stroke="#4C86C6" stroke-width="1.1"/>
<line x1="544.53" y1="739.28" x2="547.13" y2="739.28" stroke="#E8952F" stroke-width="0.7"/>
<line x1="545.83" y1="737.98" x2="545.83" y2="740.58" stroke="#E8952F" stroke-width="0.7"/>
<line x1="546.47" y1="744.36" x2="549.07" y2="744.36" stroke="#E8952F" stroke-width="0.7"/>
<line x1="547.77" y1="743.06" x2="547.77" y2="745.66" stroke="#E8952F" stroke-width="0.7"/>
<line x1="548.41" y1="749.44" x2="551.01" y2="749.44" stroke="#E8952F" stroke-width="0.7"/>
<line x1="549.71" y1="748.14" x2="549.71" y2="750.74" stroke="#E8952F" stroke-width="0.7"/>
<line x1="550.34" y1="754.52" x2="552.94" y2="754.52" stroke="#E8952F" stroke-width="0.7"/>
<line x1="551.64" y1="753.22" x2="551.64" y2="755.82" stroke="#E8952F" stroke-width="0.7"/>
<line x1="552.28" y1="758.58" x2="554.88" y2="758.58" stroke="#E8952F" stroke-width="0.7"/>
<line x1="553.58" y1="757.28" x2="553.58" y2="759.88" stroke="#E8952F" stroke-width="0.7"/>
<line x1="554.22" y1="764.68" x2="556.82" y2="764.68" stroke="#E8952F" stroke-width="0.7"/>
<line x1="555.52" y1="763.38" x2="555.52" y2="765.98" stroke="#E8952F" stroke-width="0.7"/>
<line x1="556.16" y1="764.68" x2="558.76" y2="764.68" stroke="#E8952F" stroke-width="0.7"/>
<line x1="557.46" y1="763.38" x2="557.46" y2="765.98" stroke="#E8952F" stroke-width="0.7"/>
<line x1="558.1" y1="769.76" x2="560.7" y2="769.76" stroke="#E8952F" stroke-width="0.7"/>
<line x1="559.4" y1="768.46" x2="559.4" y2="771.06" stroke="#E8952F" stroke-width="0.7"/>
<line x1="560.03" y1="769.76" x2="562.63" y2="769.76" stroke="#E8952F" stroke-width="0.7"/>
<line x1="561.33" y1="768.46" x2="561.33" y2="771.06" stroke="#E8952F" stroke-width="0.7"/>
<line x1="561.97" y1="773.82" x2="564.57" y2="773.82" stroke="#E8952F" stroke-width="0.7"/>
<line x1="563.27" y1="772.52" x2="563.27" y2="775.12" stroke="#E8952F" stroke-width="0.7"/>
<line x1="563.91" y1="776.87" x2="566.51" y2="776.87" stroke="#E8952F" stroke-width="0.7"/>
<line x1="565.21" y1="775.57" x2="565.21" y2="778.17" stroke="#E8952F" stroke-width="0.7"/>
<line x1="565.85" y1="776.87" x2="568.45" y2="776.87" stroke="#E8952F" stroke-width="0.7"/>
<line x1="567.15" y1="775.57" x2="567.15" y2="778.17" stroke="#E8952F" stroke-width="0.7"/>
<line x1="567.79" y1="779.92" x2="570.39" y2="779.92" stroke="#E8952F" stroke-width="0.7"/>
<line x1="569.09" y1="778.62" x2="569.09" y2="781.22" stroke="#E8952F" stroke-width="0.7"/>
<line x1="569.72" y1="779.92" x2="572.32" y2="779.92" stroke="#E8952F" stroke-width="0.7"/>
<line x1="571.02" y1="778.62" x2="571.02" y2="781.22" stroke="#E8952F" stroke-width="0.7"/>
<line x1="571.66" y1="782.97" x2="574.26" y2="782.97" stroke="#E8952F" stroke-width="0.7"/>
<line x1="572.96" y1="781.67" x2="572.96" y2="784.27" stroke="#E8952F" stroke-width="0.7"/>
<line x1="573.6" y1="785" x2="576.2" y2="785" stroke="#E8952F" stroke-width="0.7"/>
<line x1="574.9" y1="783.7" x2="574.9" y2="786.3" stroke="#E8952F" stroke-width="0.7"/>
<line x1="575.54" y1="785" x2="578.14" y2="785" stroke="#E8952F" stroke-width="0.7"/>
<line x1="576.84" y1="783.7" x2="576.84" y2="786.3" stroke="#E8952F" stroke-width="0.7"/>
<line x1="577.48" y1="788.05" x2="580.08" y2="788.05" stroke="#E8952F" stroke-width="0.7"/>
<line x1="578.78" y1="786.75" x2="578.78" y2="789.35" stroke="#E8952F" stroke-width="0.7"/>
<line x1="579.41" y1="788.05" x2="582.01" y2="788.05" stroke="#E8952F" stroke-width="0.7"/>
<line x1="580.71" y1="786.75" x2="580.71" y2="789.35" stroke="#E8952F" stroke-width="0.7"/>
<line x1="581.35" y1="790.08" x2="583.95" y2="790.08" stroke="#E8952F" stroke-width="0.7"/>
<line x1="582.65" y1="788.78" x2="582.65" y2="791.38" stroke="#E8952F" stroke-width="0.7"/>
<line x1="583.29" y1="792.11" x2="585.89" y2="792.11" stroke="#E8952F" stroke-width="0.7"/>
<line x1="584.59" y1="790.81" x2="584.59" y2="793.41" stroke="#E8952F" stroke-width="0.7"/>
<line x1="585.23" y1="792.11" x2="587.83" y2="792.11" stroke="#E8952F" stroke-width="0.7"/>
<line x1="586.53" y1="790.81" x2="586.53" y2="793.41" stroke="#E8952F" stroke-width="0.7"/>
<line x1="587.17" y1="794.14" x2="589.77" y2="794.14" stroke="#E8952F" stroke-width="0.7"/>
<line x1="588.47" y1="792.84" x2="588.47" y2="795.44" stroke="#E8952F" stroke-width="0.7"/>
<line x1="589.1" y1="794.14" x2="591.7" y2="794.14" stroke="#E8952F" stroke-width="0.7"/>
<line x1="590.4" y1="792.84" x2="590.4" y2="795.44" stroke="#E8952F" stroke-width="0.7"/>
<line x1="591.04" y1="796.18" x2="593.64" y2="796.18" stroke="#E8952F" stroke-width="0.7"/>
<line x1="592.34" y1="794.88" x2="592.34" y2="797.48" stroke="#E8952F" stroke-width="0.7"/>
<line x1="592.98" y1="796.18" x2="595.58" y2="796.18" stroke="#E8952F" stroke-width="0.7"/>
<line x1="594.28" y1="794.88" x2="594.28" y2="797.48" stroke="#E8952F" stroke-width="0.7"/>
<line x1="594.92" y1="798.21" x2="597.52" y2="798.21" stroke="#E8952F" stroke-width="0.7"/>
<line x1="596.22" y1="796.91" x2="596.22" y2="799.51" stroke="#E8952F" stroke-width="0.7"/>
<line x1="596.86" y1="798.21" x2="599.46" y2="798.21" stroke="#E8952F" stroke-width="0.7"/>
<line x1="598.16" y1="796.91" x2="598.16" y2="799.51" stroke="#E8952F" stroke-width="0.7"/>
<line x1="598.79" y1="798.21" x2="601.39" y2="798.21" stroke="#E8952F" stroke-width="0.7"/>
<line x1="600.09" y1="796.91" x2="600.09" y2="799.51" stroke="#E8952F" stroke-width="0.7"/>
<line x1="600.73" y1="800.24" x2="603.33" y2="800.24" stroke="#E8952F" stroke-width="0.7"/>
<line x1="602.03" y1="798.94" x2="602.03" y2="801.54" stroke="#E8952F" stroke-width="0.7"/>
<line x1="602.67" y1="800.24" x2="605.27" y2="800.24" stroke="#E8952F" stroke-width="0.7"/>
<line x1="603.97" y1="798.94" x2="603.97" y2="801.54" stroke="#E8952F" stroke-width="0.7"/>
<line x1="604.61" y1="800.24" x2="607.21" y2="800.24" stroke="#E8952F" stroke-width="0.7"/>
<line x1="605.91" y1="798.94" x2="605.91" y2="801.54" stroke="#E8952F" stroke-width="0.7"/>
<line x1="606.55" y1="801.26" x2="609.15" y2="801.26" stroke="#E8952F" stroke-width="0.7"/>
<line x1="607.85" y1="799.96" x2="607.85" y2="802.56" stroke="#E8952F" stroke-width="0.7"/>
<line x1="608.48" y1="801.26" x2="611.08" y2="801.26" stroke="#E8952F" stroke-width="0.7"/>
<line x1="609.78" y1="799.96" x2="609.78" y2="802.56" stroke="#E8952F" stroke-width="0.7"/>
<line x1="610.42" y1="801.26" x2="613.02" y2="801.26" stroke="#E8952F" stroke-width="0.7"/>
<line x1="611.72" y1="799.96" x2="611.72" y2="802.56" stroke="#E8952F" stroke-width="0.7"/>
<line x1="612.36" y1="803.29" x2="614.96" y2="803.29" stroke="#E8952F" stroke-width="0.7"/>
<line x1="613.66" y1="801.99" x2="613.66" y2="804.59" stroke="#E8952F" stroke-width="0.7"/>
<line x1="614.3" y1="803.29" x2="616.9" y2="803.29" stroke="#E8952F" stroke-width="0.7"/>
<line x1="615.6" y1="801.99" x2="615.6" y2="804.59" stroke="#E8952F" stroke-width="0.7"/>
<line x1="616.24" y1="803.29" x2="618.84" y2="803.29" stroke="#E8952F" stroke-width="0.7"/>
<line x1="617.54" y1="801.99" x2="617.54" y2="804.59" stroke="#E8952F" stroke-width="0.7"/>
<line x1="618.17" y1="803.29" x2="620.77" y2="803.29" stroke="#E8952F" stroke-width="0.7"/>
<line x1="619.47" y1="801.99" x2="619.47" y2="804.59" stroke="#E8952F" stroke-width="0.7"/>
<line x1="620.11" y1="805.32" x2="622.71" y2="805.32" stroke="#E8952F" stroke-width="0.7"/>
<line x1="621.41" y1="804.02" x2="621.41" y2="806.62" stroke="#E8952F" stroke-width="0.7"/>
<line x1="622.05" y1="805.32" x2="624.65" y2="805.32" stroke="#E8952F" stroke-width="0.7"/>
<line x1="623.35" y1="804.02" x2="623.35" y2="806.62" stroke="#E8952F" stroke-width="0.7"/>
<line x1="625.28" y1="805.32" x2="627.88" y2="805.32" stroke="#E8952F" stroke-width="0.7"/>
<line x1="626.58" y1="804.02" x2="626.58" y2="806.62" stroke="#E8952F" stroke-width="0.7"/>
<line x1="628.51" y1="805.32" x2="631.11" y2="805.32" stroke="#E8952F" stroke-width="0.7"/>
<line x1="629.81" y1="804.02" x2="629.81" y2="806.62" stroke="#E8952F" stroke-width="0.7"/>
<line x1="634.97" y1="805.32" x2="637.57" y2="805.32" stroke="#E8952F" stroke-width="0.7"/>
<line x1="636.27" y1="804.02" x2="636.27" y2="806.62" stroke="#E8952F" stroke-width="0.7"/>
<line x1="641.43" y1="805.32" x2="644.03" y2="805.32" stroke="#E8952F" stroke-width="0.7"/>
<line x1="642.73" y1="804.02" x2="642.73" y2="806.62" stroke="#E8952F" stroke-width="0.7"/>
<line x1="647.89" y1="805.32" x2="650.49" y2="805.32" stroke="#E8952F" stroke-width="0.7"/>
<line x1="649.19" y1="804.02" x2="649.19" y2="806.62" stroke="#E8952F" stroke-width="0.7"/>
<line x1="654.35" y1="805.32" x2="656.95" y2="805.32" stroke="#E8952F" stroke-width="0.7"/>
<line x1="655.65" y1="804.02" x2="655.65" y2="806.62" stroke="#E8952F" stroke-width="0.7"/>
<line x1="660.81" y1="805.32" x2="663.41" y2="805.32" stroke="#E8952F" stroke-width="0.7"/>
<line x1="662.11" y1="804.02" x2="662.11" y2="806.62" stroke="#E8952F" stroke-width="0.7"/>
<line x1="667.27" y1="805.32" x2="669.87" y2="805.32" stroke="#E8952F" stroke-width="0.7"/>
<line x1="668.57" y1="804.02" x2="668.57" y2="806.62" stroke="#E8952F" stroke-width="0.7"/>
<line x1="675.35" y1="805.32" x2="677.94" y2="805.32" stroke="#E8952F" stroke-width="0.7"/>
<line x1="676.64" y1="804.02" x2="676.64" y2="806.62" stroke="#E8952F" stroke-width="0.7"/>
<line x1="545.34" y1="739.28" x2="547.94" y2="739.28" stroke="#4C86C6" stroke-width="0.7"/>
<line x1="546.64" y1="737.98" x2="546.64" y2="740.58" stroke="#4C86C6" stroke-width="0.7"/>
<line x1="546.95" y1="744.36" x2="549.55" y2="744.36" stroke="#4C86C6" stroke-width="0.7"/>
<line x1="548.25" y1="743.06" x2="548.25" y2="745.66" stroke="#4C86C6" stroke-width="0.7"/>
<line x1="550.18" y1="754.52" x2="552.78" y2="754.52" stroke="#4C86C6" stroke-width="0.7"/>
<line x1="551.48" y1="753.22" x2="551.48" y2="755.82" stroke="#4C86C6" stroke-width="0.7"/>
<line x1="553.41" y1="767.73" x2="556.01" y2="767.73" stroke="#4C86C6" stroke-width="0.7"/>
<line x1="554.71" y1="766.43" x2="554.71" y2="769.03" stroke="#4C86C6" stroke-width="0.7"/>
<line x1="556.64" y1="777.89" x2="559.24" y2="777.89" stroke="#4C86C6" stroke-width="0.7"/>
<line x1="557.94" y1="776.59" x2="557.94" y2="779.19" stroke="#4C86C6" stroke-width="0.7"/>
<line x1="559.07" y1="782.97" x2="561.66" y2="782.97" stroke="#4C86C6" stroke-width="0.7"/>
<line x1="560.37" y1="781.67" x2="560.37" y2="784.27" stroke="#4C86C6" stroke-width="0.7"/>
<line x1="560.68" y1="782.97" x2="563.28" y2="782.97" stroke="#4C86C6" stroke-width="0.7"/>
<line x1="561.98" y1="781.67" x2="561.98" y2="784.27" stroke="#4C86C6" stroke-width="0.7"/>
<line x1="563.91" y1="788.05" x2="566.51" y2="788.05" stroke="#4C86C6" stroke-width="0.7"/>
<line x1="565.21" y1="786.75" x2="565.21" y2="789.35" stroke="#4C86C6" stroke-width="0.7"/>
<line x1="568.76" y1="792.11" x2="571.36" y2="792.11" stroke="#4C86C6" stroke-width="0.7"/>
<line x1="570.06" y1="790.81" x2="570.06" y2="793.41" stroke="#4C86C6" stroke-width="0.7"/>
<line x1="573.6" y1="792.11" x2="576.2" y2="792.11" stroke="#4C86C6" stroke-width="0.7"/>
<line x1="574.9" y1="790.81" x2="574.9" y2="793.41" stroke="#4C86C6" stroke-width="0.7"/>
<line x1="584.91" y1="800.24" x2="587.5" y2="800.24" stroke="#4C86C6" stroke-width="0.7"/>
<line x1="586.21" y1="798.94" x2="586.21" y2="801.54" stroke="#4C86C6" stroke-width="0.7"/>
<line x1="589.75" y1="800.24" x2="592.35" y2="800.24" stroke="#4C86C6" stroke-width="0.7"/>
<line x1="591.05" y1="798.94" x2="591.05" y2="801.54" stroke="#4C86C6" stroke-width="0.7"/>
<line x1="594.6" y1="800.24" x2="597.19" y2="800.24" stroke="#4C86C6" stroke-width="0.7"/>
<line x1="595.89" y1="798.94" x2="595.89" y2="801.54" stroke="#4C86C6" stroke-width="0.7"/>
<line x1="599.44" y1="800.24" x2="602.04" y2="800.24" stroke="#4C86C6" stroke-width="0.7"/>
<line x1="600.74" y1="798.94" x2="600.74" y2="801.54" stroke="#4C86C6" stroke-width="0.7"/>
<text font-size="7.8" text-anchor="start" fill="#141414" transform="matrix(1 0 0 1.08 545 818.5)">p = 0.39</text>
<rect x="536.5" y="729.4" width="141.4" height="112.5" fill="none" stroke="#333333" stroke-width="0.9"/>
<line x1="534.5" y1="835.8" x2="536.5" y2="835.8" stroke="#333333" stroke-width="0.7"/>
<text font-size="5.2" text-anchor="end" fill="#262626" transform="matrix(1 0 0 1.08 534.1 837.65)">0.00</text>
<line x1="534.5" y1="810.4" x2="536.5" y2="810.4" stroke="#333333" stroke-width="0.7"/>
<text font-size="5.2" text-anchor="end" fill="#262626" transform="matrix(1 0 0 1.08 534.1 812.25)">0.25</text>
<line x1="534.5" y1="785" x2="536.5" y2="785" stroke="#333333" stroke-width="0.7"/>
<text font-size="5.2" text-anchor="end" fill="#262626" transform="matrix(1 0 0 1.08 534.1 786.85)">0.50</text>
<line x1="534.5" y1="759.6" x2="536.5" y2="759.6" stroke="#333333" stroke-width="0.7"/>
<text font-size="5.2" text-anchor="end" fill="#262626" transform="matrix(1 0 0 1.08 534.1 761.45)">0.75</text>
<line x1="534.5" y1="734.2" x2="536.5" y2="734.2" stroke="#333333" stroke-width="0.7"/>
<text font-size="5.2" text-anchor="end" fill="#262626" transform="matrix(1 0 0 1.08 534.1 736.05)">1.00</text>
<line x1="542.6" y1="841.9" x2="542.6" y2="843.9" stroke="#333333" stroke-width="0.7"/>
<text font-size="5.1" text-anchor="middle" fill="#262626" transform="matrix(1 0 0 1.08 542.6 847.6)">0</text>
<line x1="574.9" y1="841.9" x2="574.9" y2="843.9" stroke="#333333" stroke-width="0.7"/>
<text font-size="5.1" text-anchor="middle" fill="#262626" transform="matrix(1 0 0 1.08 574.9 847.6)">20</text>
<line x1="607.2" y1="841.9" x2="607.2" y2="843.9" stroke="#333333" stroke-width="0.7"/>
<text font-size="5.1" text-anchor="middle" fill="#262626" transform="matrix(1 0 0 1.08 607.2 847.6)">40</text>
<line x1="639.5" y1="841.9" x2="639.5" y2="843.9" stroke="#333333" stroke-width="0.7"/>
<text font-size="5.1" text-anchor="middle" fill="#262626" transform="matrix(1 0 0 1.08 639.5 847.6)">60</text>
<line x1="671.8" y1="841.9" x2="671.8" y2="843.9" stroke="#333333" stroke-width="0.7"/>
<text font-size="5.1" text-anchor="middle" fill="#262626" transform="matrix(1 0 0 1.08 671.8 847.6)">80</text>
<text font-size="7.4" text-anchor="middle" fill="#141414" transform="matrix(1 0 0 1.08 614 856.3)">Month</text>
<text font-size="7.55" text-anchor="middle" fill="#141414" transform="translate(519 780.2) rotate(-90) scale(1 1.08)">Survival probability</text>
<text font-size="5.6" text-anchor="start" fill="#141414" transform="matrix(1 0 0 1.08 560.7 726.2)">Strata</text>
<line x1="581" y1="724.2" x2="584" y2="724.2" stroke="#4C86C6" stroke-width="0.8"/>
<line x1="582.5" y1="722.7" x2="582.5" y2="725.7" stroke="#4C86C6" stroke-width="0.8"/>
<text font-size="5.6" text-anchor="start" fill="#141414" transform="matrix(1 0 0 1.08 588.6 726.2)">Low Group</text>
<line x1="620.7" y1="724.2" x2="623.7" y2="724.2" stroke="#E8952F" stroke-width="0.8"/>
<line x1="622.2" y1="722.7" x2="622.2" y2="725.7" stroke="#E8952F" stroke-width="0.8"/>
<text font-size="5.6" text-anchor="start" fill="#141414" transform="matrix(1 0 0 1.08 629.1 726.2)">High Group</text>
<rect x="543.9" y="866" width="134" height="23.7" fill="#fff" stroke="none" stroke-width="1"/>
<line x1="566" y1="866" x2="566" y2="889.7" stroke="#F2F2F2" stroke-width="0.5"/>
<line x1="596" y1="866" x2="596" y2="889.7" stroke="#F2F2F2" stroke-width="0.5"/>
<line x1="626" y1="866" x2="626" y2="889.7" stroke="#F2F2F2" stroke-width="0.5"/>
<line x1="656" y1="866" x2="656" y2="889.7" stroke="#F2F2F2" stroke-width="0.5"/>
<line x1="551" y1="866" x2="551" y2="889.7" stroke="#EBEBEB" stroke-width="0.6"/>
<line x1="581" y1="866" x2="581" y2="889.7" stroke="#EBEBEB" stroke-width="0.6"/>
<line x1="611" y1="866" x2="611" y2="889.7" stroke="#EBEBEB" stroke-width="0.6"/>
<line x1="641" y1="866" x2="641" y2="889.7" stroke="#EBEBEB" stroke-width="0.6"/>
<line x1="671" y1="866" x2="671" y2="889.7" stroke="#EBEBEB" stroke-width="0.6"/>
<line x1="543.9" y1="872.4" x2="677.9" y2="872.4" stroke="#EBEBEB" stroke-width="0.6"/>
<line x1="543.9" y1="883.3" x2="677.9" y2="883.3" stroke="#EBEBEB" stroke-width="0.6"/>
<rect x="543.9" y="866" width="134" height="23.7" fill="none" stroke="#333333" stroke-width="0.9"/>
<text font-size="6.55" text-anchor="middle" fill="#4C86C6" transform="matrix(1 0 0 1.08 551 874.74)">30</text>
<text font-size="6.55" text-anchor="middle" fill="#4C86C6" transform="matrix(1 0 0 1.08 581 874.74)">6</text>
<text font-size="6.55" text-anchor="middle" fill="#4C86C6" transform="matrix(1 0 0 1.08 611 874.74)">0</text>
<text font-size="6.55" text-anchor="middle" fill="#4C86C6" transform="matrix(1 0 0 1.08 641 874.74)">0</text>
<text font-size="6.55" text-anchor="middle" fill="#4C86C6" transform="matrix(1 0 0 1.08 671 874.74)">0</text>
<text font-size="6.55" text-anchor="middle" fill="#E8952F" transform="matrix(1 0 0 1.08 551 885.65)">183</text>
<text font-size="6.55" text-anchor="middle" fill="#E8952F" transform="matrix(1 0 0 1.08 581 885.65)">70</text>
<text font-size="6.55" text-anchor="middle" fill="#E8952F" transform="matrix(1 0 0 1.08 611 885.65)">18</text>
<text font-size="6.55" text-anchor="middle" fill="#E8952F" transform="matrix(1 0 0 1.08 641 885.65)">6</text>
<text font-size="6.55" text-anchor="middle" fill="#E8952F" transform="matrix(1 0 0 1.08 671 885.65)">1</text>
<line x1="551" y1="889.7" x2="551" y2="891.7" stroke="#333333" stroke-width="0.7"/>
<text font-size="5.5" text-anchor="middle" fill="#262626" transform="matrix(1 0 0 1.08 551 896.1)">0</text>
<line x1="581" y1="889.7" x2="581" y2="891.7" stroke="#333333" stroke-width="0.7"/>
<text font-size="5.5" text-anchor="middle" fill="#262626" transform="matrix(1 0 0 1.08 581 896.1)">20</text>
<line x1="611" y1="889.7" x2="611" y2="891.7" stroke="#333333" stroke-width="0.7"/>
<text font-size="5.5" text-anchor="middle" fill="#262626" transform="matrix(1 0 0 1.08 611 896.1)">40</text>
<line x1="641" y1="889.7" x2="641" y2="891.7" stroke="#333333" stroke-width="0.7"/>
<text font-size="5.5" text-anchor="middle" fill="#262626" transform="matrix(1 0 0 1.08 641 896.1)">60</text>
<line x1="671" y1="889.7" x2="671" y2="891.7" stroke="#333333" stroke-width="0.7"/>
<text font-size="5.5" text-anchor="middle" fill="#262626" transform="matrix(1 0 0 1.08 671 896.1)">80</text>
<line x1="541.9" y1="872.4" x2="543.9" y2="872.4" stroke="#333333" stroke-width="0.7"/>
<line x1="541.9" y1="883.3" x2="543.9" y2="883.3" stroke="#333333" stroke-width="0.7"/>
<text font-size="4" text-anchor="end" fill="#4C86C6" transform="matrix(1 0 0 1.08 541.5 873.8)">Low Group</text>
<text font-size="4" text-anchor="end" fill="#E8952F" transform="matrix(1 0 0 1.08 541.5 884.7)">High Group</text>
<text font-size="7.55" text-anchor="start" fill="#141414" transform="matrix(1 0 0 1.08 545 862.4)">Number at risk</text>
<text font-size="7.4" text-anchor="middle" fill="#141414" transform="matrix(1 0 0 1.08 614 904.4)">Month</text>
<text font-size="7.7" text-anchor="middle" fill="#141414" transform="translate(520.5 878.4) rotate(-90) scale(1 1.08)">Strata</text>
</svg></body></html>
